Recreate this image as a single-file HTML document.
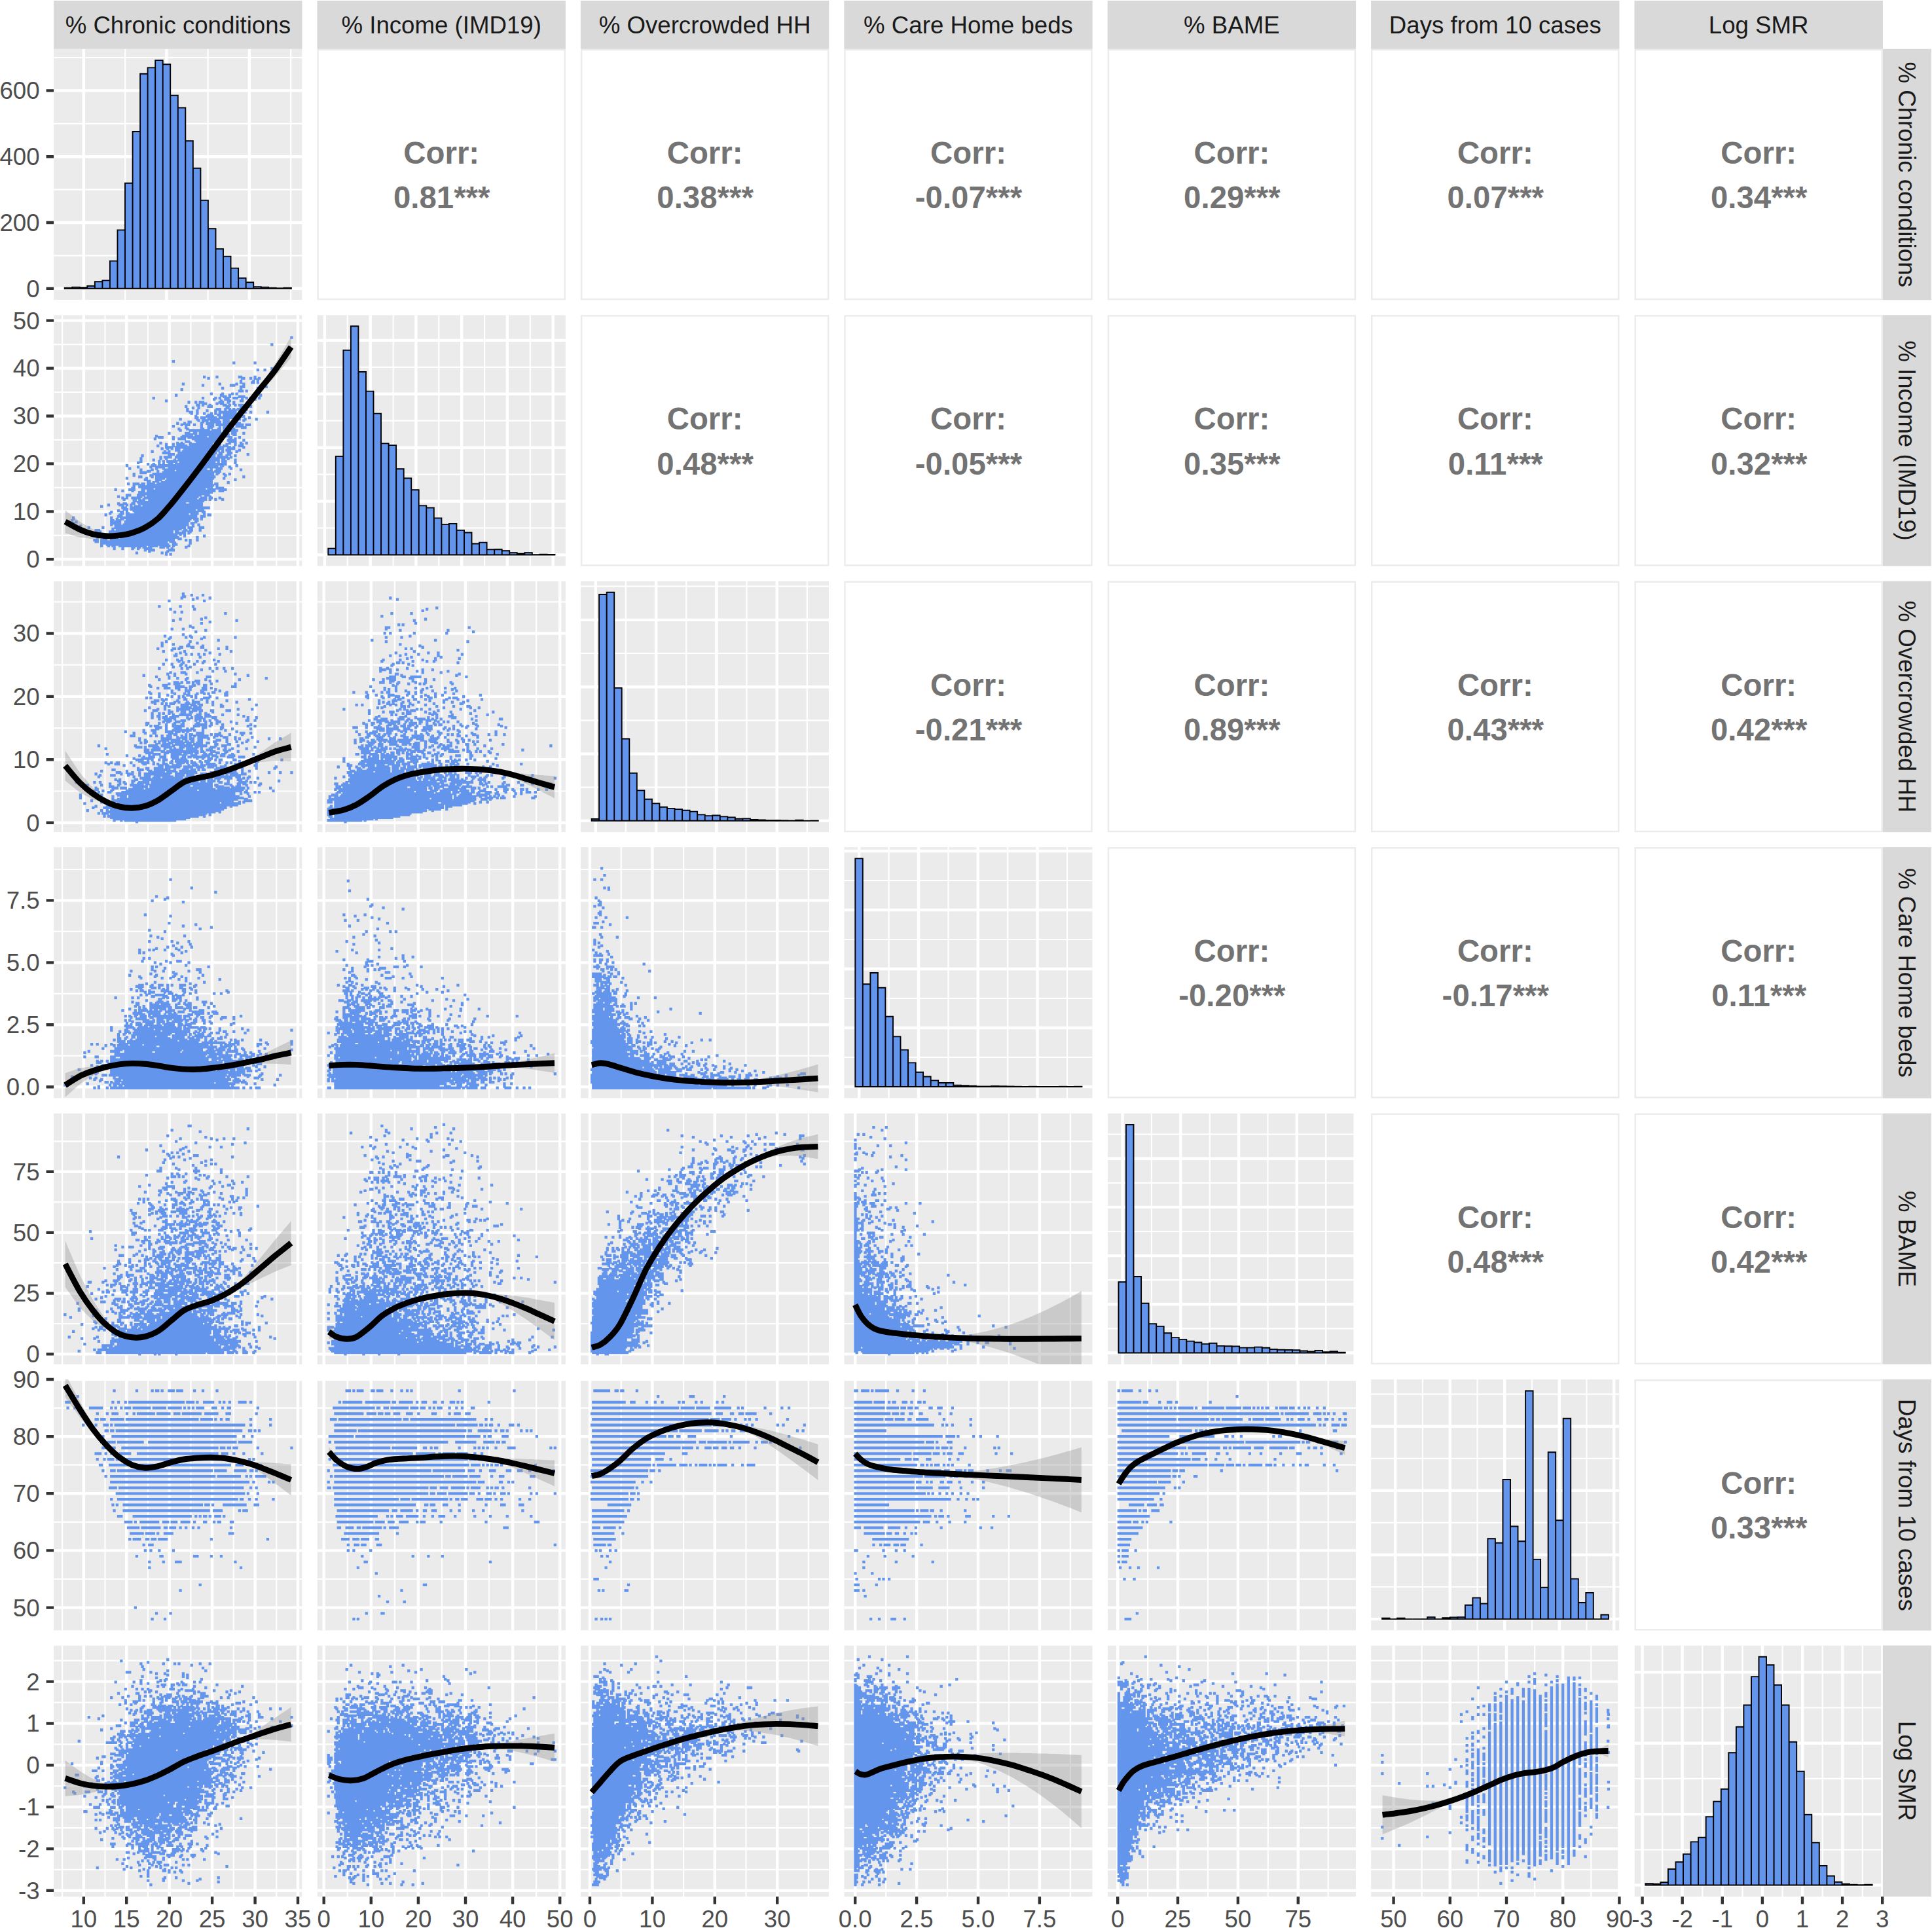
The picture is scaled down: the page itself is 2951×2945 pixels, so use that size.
<!DOCTYPE html><html><head><meta charset="utf-8"><style>html,body{margin:0;padding:0;background:#fff}</style></head><body><svg xmlns="http://www.w3.org/2000/svg" width="2951" height="2945" viewBox="0 0 2951 2945" style="display:block"><rect width="2951" height="2945" fill="#fff"/><defs><clipPath id="c00"><rect x="82.1" y="74.8" width="379.4" height="383.5"/></clipPath><clipPath id="c10"><rect x="82.1" y="481.2" width="379.4" height="383.5"/></clipPath><clipPath id="c11"><rect x="484.5" y="481.2" width="379.4" height="383.5"/></clipPath><clipPath id="c20"><rect x="82.1" y="887.7" width="379.4" height="383.5"/></clipPath><clipPath id="c21"><rect x="484.5" y="887.7" width="379.4" height="383.5"/></clipPath><clipPath id="c22"><rect x="886.9" y="887.7" width="379.4" height="383.5"/></clipPath><clipPath id="c30"><rect x="82.1" y="1294.1" width="379.4" height="383.5"/></clipPath><clipPath id="c31"><rect x="484.5" y="1294.1" width="379.4" height="383.5"/></clipPath><clipPath id="c32"><rect x="886.9" y="1294.1" width="379.4" height="383.5"/></clipPath><clipPath id="c33"><rect x="1289.3" y="1294.1" width="379.4" height="383.5"/></clipPath><clipPath id="c40"><rect x="82.1" y="1700.6" width="379.4" height="383.5"/></clipPath><clipPath id="c41"><rect x="484.5" y="1700.6" width="379.4" height="383.5"/></clipPath><clipPath id="c42"><rect x="886.9" y="1700.6" width="379.4" height="383.5"/></clipPath><clipPath id="c43"><rect x="1289.3" y="1700.6" width="379.4" height="383.5"/></clipPath><clipPath id="c44"><rect x="1691.7" y="1700.6" width="379.4" height="383.5"/></clipPath><clipPath id="c50"><rect x="82.1" y="2107.1" width="379.4" height="383.5"/></clipPath><clipPath id="c51"><rect x="484.5" y="2107.1" width="379.4" height="383.5"/></clipPath><clipPath id="c52"><rect x="886.9" y="2107.1" width="379.4" height="383.5"/></clipPath><clipPath id="c53"><rect x="1289.3" y="2107.1" width="379.4" height="383.5"/></clipPath><clipPath id="c54"><rect x="1691.7" y="2107.1" width="379.4" height="383.5"/></clipPath><clipPath id="c55"><rect x="2094.1" y="2107.1" width="379.4" height="383.5"/></clipPath><clipPath id="c60"><rect x="82.1" y="2513.5" width="379.4" height="383.5"/></clipPath><clipPath id="c61"><rect x="484.5" y="2513.5" width="379.4" height="383.5"/></clipPath><clipPath id="c62"><rect x="886.9" y="2513.5" width="379.4" height="383.5"/></clipPath><clipPath id="c63"><rect x="1289.3" y="2513.5" width="379.4" height="383.5"/></clipPath><clipPath id="c64"><rect x="1691.7" y="2513.5" width="379.4" height="383.5"/></clipPath><clipPath id="c65"><rect x="2094.1" y="2513.5" width="379.4" height="383.5"/></clipPath><clipPath id="c66"><rect x="2496.5" y="2513.5" width="379.4" height="383.5"/></clipPath></defs><g clip-path="url(#c00)"><rect x="82.1" y="74.8" width="379.4" height="383.5" fill="#EBEBEB"/><path d="M191.1 74.8V458.3M317.6 74.8V458.3M444.2 74.8V458.3M82.1 390.4H461.5M82.1 289.6H461.5M82.1 188.8H461.5M82.1 88H461.5" stroke="#fff" stroke-width="2.2" fill="none"/><path d="M127.8 74.8V458.3M254.4 74.8V458.3M380.9 74.8V458.3M82.1 440.8H461.5M82.1 340H461.5M82.1 239.2H461.5M82.1 138.4H461.5" stroke="#fff" stroke-width="4.4" fill="none"/><path d="M98.7 440.7v-.9h11.5v.9zM110.2 440.7v-2.1h11.5v2.1zM121.8 440.7v-1.5h11.5v1.5zM133.3 440.7v-4h11.5v4zM144.9 440.7v-10.4h11.5v10.4zM156.4 440.7v-12.3h11.5v12.3zM167.9 440.7v-42.1h11.5v42.1zM179.5 440.7v-89.3h11.5v89.3zM191 440.7v-161h11.5v161zM202.6 440.7v-239.7h11.5v239.7zM214.1 440.7v-327.9h11.5v327.9zM225.6 440.7v-337.3h11.5v337.3zM237.2 440.7v-348.6h11.5v348.6zM248.7 440.7v-342.4h11.5v342.4zM260.3 440.7v-295h11.5v295zM271.8 440.7v-276.1h11.5v276.1zM283.3 440.7v-225.4h11.5v225.4zM294.9 440.7v-183.8h11.5v183.8zM306.4 440.7v-134.8h11.5v134.8zM318 440.7v-91.5h11.5v91.5zM329.5 440.7v-60.4h11.5v60.4zM341 440.7v-49.1h11.5v49.1zM352.6 440.7v-31.1h11.5v31.1zM364.1 440.7v-16h11.5v16zM375.7 440.7v-9.4h11.5v9.4zM387.2 440.7v-2.6h11.5v2.6zM398.7 440.7v-2.1h11.5v2.1zM410.3 440.7v-.9h11.5v.9zM421.8 440.7v-.4h11.5v.4zM433.4 440.7v-.9h11.5v.9z" fill="#6495ED" stroke="#000" stroke-width="1.9" stroke-linejoin="miter"/></g><rect x="485.7" y="76.0" width="377.0" height="381.1" fill="#fff" stroke="#EBEBEB" stroke-width="2.4"/><rect x="888.1" y="76.0" width="377.0" height="381.1" fill="#fff" stroke="#EBEBEB" stroke-width="2.4"/><rect x="1290.5" y="76.0" width="377.0" height="381.1" fill="#fff" stroke="#EBEBEB" stroke-width="2.4"/><rect x="1692.9" y="76.0" width="377.0" height="381.1" fill="#fff" stroke="#EBEBEB" stroke-width="2.4"/><rect x="2095.3" y="76.0" width="377.0" height="381.1" fill="#fff" stroke="#EBEBEB" stroke-width="2.4"/><rect x="2497.7" y="76.0" width="377.0" height="381.1" fill="#fff" stroke="#EBEBEB" stroke-width="2.4"/><g clip-path="url(#c10)"><rect x="82.1" y="481.2" width="379.4" height="383.5" fill="#EBEBEB"/><path d="M95.1 481.2V864.8M160.5 481.2V864.8M226 481.2V864.8M291.4 481.2V864.8M356.8 481.2V864.8M422.3 481.2V864.8M82.1 817.8H461.5M82.1 744.9H461.5M82.1 671.9H461.5M82.1 599H461.5M82.1 526.1H461.5" stroke="#fff" stroke-width="2.2" fill="none"/><path d="M127.8 481.2V864.8M193.2 481.2V864.8M258.7 481.2V864.8M324.1 481.2V864.8M389.6 481.2V864.8M455 481.2V864.8M82.1 854.3H461.5M82.1 781.4H461.5M82.1 708.4H461.5M82.1 635.5H461.5M82.1 562.5H461.5M82.1 489.6H461.5" stroke="#fff" stroke-width="4.4" fill="none"/><g transform="translate(82.1 481.2)"><path transform="scale(2.15)" d="M168 16h2M154 21h2M84 33h2M127 34h2M142 34h2M154 38h2M144 39h2M149 39h2M155 41h2M106 44h2M115 44h2M131 44h3M142 44h2M109 45h2M133 45h3M139 45h2M142 45h2M145 45h2M144 46h2M132 47h2M141 47h2M132 48h2M140 48h3M144 48h2M91 49h2M117 49h2M129 49h2M134 49h2M105 50h2M125 50h4M132 51h4M147 51h2M150 51h2M119 52h2M144 52h2M90 53h2M132 53h2M131 54h4M136 54h2M144 55h2M111 56h2M119 56h2M126 56h2M129 56h2M86 57h2M118 57h2M124 57h2M146 57h2M120 58h3M124 58h2M131 58h5M70 59h2M105 59h2M114 59h2M117 59h2M122 59h3M127 59h4M136 59h2M139 59h2M145 59h2M113 60h2M121 60h4M133 60h2M139 60h2M142 60h2M79 61h2M118 61h2M123 61h3M132 61h3M140 61h2M95 62h2M100 62h2M103 62h4M117 62h4M123 62h2M127 62h2M107 63h2M115 63h2M118 63h2M127 63h2M101 64h3M105 64h2M110 64h2M120 64h3M124 64h2M128 64h2M131 64h4M137 64h2M93 65h2M109 65h4M122 65h3M139 65h2M98 66h2M102 66h2M122 66h2M132 66h3M94 67h2M115 67h4M121 67h2M124 67h2M127 67h2M130 67h4M136 67h2M94 68h2M101 68h2M108 68h2M114 68h2M117 68h2M126 68h4M132 68h2M135 68h2M96 69h3M101 69h2M118 69h10M135 69h2M139 69h2M151 69h2M97 70h2M101 70h2M106 70h2M111 70h2M114 70h2M117 70h2M120 70h3M127 70h3M109 71h2M116 71h3M121 71h9M132 71h2M100 72h2M108 72h2M111 72h3M120 72h5M128 72h8M100 73h3M104 73h4M109 73h2M112 73h4M117 73h6M125 73h6M138 73h2M89 74h2M101 74h2M105 74h2M109 74h4M114 74h4M120 74h5M129 74h4M135 74h2M143 74h2M102 75h2M107 75h3M111 75h5M121 75h2M128 75h2M134 75h2M95 76h3M105 76h2M114 76h5M120 76h5M126 76h2M129 76h2M87 77h2M92 77h2M104 77h2M108 77h6M115 77h2M121 77h5M127 77h6M90 78h2M93 78h4M99 78h2M104 78h2M111 78h3M115 78h11M133 78h2M136 78h4M84 79h2M104 79h2M109 79h5M122 79h3M126 79h2M129 79h4M93 80h2M110 80h3M117 80h2M120 80h4M133 80h4M88 81h2M94 81h2M104 81h3M109 81h2M116 81h2M120 81h4M127 81h2M89 82h2M96 82h9M106 82h5M112 82h7M120 82h11M104 83h4M109 83h3M115 83h4M120 83h3M127 83h2M81 84h2M93 84h4M99 84h3M103 84h2M107 84h14M122 84h2M126 84h4M134 84h2M95 85h4M100 85h2M103 85h5M109 85h8M123 85h2M127 85h3M72 86h2M91 86h4M96 86h3M100 86h4M106 86h3M110 86h15M74 87h4M84 87h2M90 87h4M95 87h14M110 87h7M119 87h2M125 87h2M131 87h2M71 88h2M84 88h2M88 88h6M98 88h2M101 88h2M106 88h4M114 88h6M124 88h2M128 88h2M100 89h8M109 89h11M123 89h7M134 89h2M93 90h4M101 90h4M106 90h12M126 90h2M75 91h2M87 91h2M90 91h2M96 91h2M101 91h2M105 91h8M115 91h4M124 91h2M128 91h2M132 91h2M136 91h2M79 92h2M84 92h2M88 92h2M91 92h2M96 92h6M103 92h3M107 92h6M115 92h4M122 92h2M128 92h2M133 92h2M73 93h2M84 93h2M87 93h4M93 93h2M96 93h2M100 93h16M117 93h2M120 93h3M131 93h3M79 94h6M86 94h2M89 94h8M98 94h8M107 94h13M123 94h3M127 94h2M134 94h2M76 95h2M80 95h2M83 95h2M86 95h4M92 95h2M97 95h2M101 95h20M126 95h3M86 96h4M92 96h13M106 96h12M119 96h2M122 96h4M131 96h2M69 97h2M78 97h2M81 97h2M88 97h2M91 97h2M95 97h8M104 97h9M119 97h2M123 97h2M129 97h2M77 98h6M88 98h7M97 98h10M110 98h6M117 98h2M125 98h2M83 99h3M90 99h9M102 99h13M117 99h3M123 99h3M137 99h2M62 100h2M81 100h3M87 100h6M94 100h21M116 100h4M122 100h2M128 100h2M75 101h2M78 101h6M86 101h3M90 101h25M116 101h7M125 101h2M61 102h2M75 102h2M79 102h2M89 102h29M120 102h2M123 102h2M70 103h2M85 103h2M88 103h25M114 103h2M119 103h2M128 103h2M61 104h2M74 104h2M77 104h2M80 104h8M91 104h17M110 104h5M116 104h2M121 104h2M59 105h2M74 105h2M77 105h2M81 105h3M86 105h2M89 105h19M109 105h6M119 105h4M128 105h2M66 106h2M70 106h2M74 106h2M77 106h2M81 106h4M87 106h25M113 106h6M120 106h3M51 107h2M69 107h4M74 107h23M98 107h16M115 107h2M118 107h3M129 107h2M59 108h2M68 108h2M73 108h5M81 108h17M99 108h17M124 108h2M53 109h2M72 109h2M77 109h2M83 109h8M92 109h17M111 109h2M115 109h5M125 109h2M61 110h2M69 110h2M78 110h8M88 110h20M111 110h2M117 110h2M132 110h2M66 111h3M73 111h2M79 111h3M87 111h26M114 111h5M61 112h5M77 112h3M82 112h32M115 112h3M56 113h2M70 113h38M112 113h2M115 113h2M120 113h2M124 113h2M56 114h2M68 114h2M75 114h2M79 114h6M87 114h26M121 114h2M60 115h3M69 115h2M72 115h9M82 115h2M85 115h30M134 115h2M51 116h2M65 116h2M72 116h2M76 116h3M80 116h27M108 116h2M112 116h2M120 116h2M64 117h2M73 117h4M80 117h4M86 117h27M128 117h2M66 118h3M72 118h3M79 118h34M70 119h2M73 119h2M76 119h28M105 119h6M123 119h2M52 120h2M56 120h5M62 120h3M66 120h4M73 120h37M111 120h2M114 120h3M61 121h2M66 121h8M76 121h31M109 121h5M115 121h2M56 122h2M60 122h2M63 122h4M68 122h2M71 122h8M80 122h32M55 123h2M62 123h6M69 123h2M73 123h29M103 123h2M109 123h4M115 123h6M43 124h2M53 124h2M56 124h2M62 124h2M66 124h3M72 124h2M75 124h33M109 124h2M113 124h2M121 124h2M48 125h2M55 125h2M62 125h3M66 125h6M73 125h32M106 125h3M110 125h5M117 125h4M60 126h2M67 126h34M104 126h6M111 126h2M61 127h18M80 127h31M51 128h4M59 128h6M66 128h2M69 128h3M75 128h30M108 128h3M45 129h2M51 129h2M61 129h2M68 129h35M107 129h2M110 129h2M48 130h2M51 130h2M55 130h7M64 130h8M73 130h24M98 130h4M104 130h5M111 130h2M117 130h2M49 131h2M60 131h2M63 131h2M67 131h35M103 131h2M106 131h3M110 131h2M114 131h2M119 131h2M56 132h3M61 132h2M67 132h40M59 133h3M63 133h4M69 133h23M96 133h10M45 134h2M49 134h3M55 134h3M60 134h34M96 134h10M38 135h2M46 135h4M51 135h2M54 135h2M60 135h2M64 135h42M33 136h2M57 136h4M63 136h33M97 136h5M103 136h2M48 137h4M54 137h57M49 138h4M54 138h2M58 138h8M67 138h22M90 138h7M99 138h2M102 138h2M105 138h2M45 139h2M51 139h2M56 139h38M96 139h5M102 139h5M40 140h2M47 140h3M57 140h40M100 140h2M105 140h3M39 141h2M48 141h2M51 141h3M57 141h39M97 141h6M106 141h2M36 142h2M46 142h2M51 142h6M58 142h7M66 142h30M97 142h2M100 142h2M109 142h3M45 143h4M54 143h44M99 143h3M104 143h4M13 144h2M40 144h2M48 144h18M67 144h28M97 144h3M13 145h2M44 145h2M47 145h3M52 145h46M99 145h4M104 145h2M12 146h2M40 146h3M44 146h4M51 146h2M54 146h43M101 146h2M15 147h2M41 147h3M45 147h3M50 147h46M100 147h2M13 148h2M40 148h3M44 148h4M51 148h43M97 148h3M40 149h2M43 149h4M49 149h4M54 149h34M89 149h7M102 149h2M14 150h3M18 150h2M44 150h17M62 150h32M98 150h2M24 151h2M34 151h2M43 151h2M46 151h42M90 151h3M95 151h4M103 151h4M41 152h2M44 152h47M92 152h2M29 153h4M41 153h2M45 153h40M93 153h2M96 153h3M103 153h2M29 154h2M32 154h2M39 154h2M42 154h7M51 154h34M86 154h3M91 154h3M95 154h3M39 155h9M49 155h5M55 155h26M86 155h7M95 155h2M25 156h4M31 156h2M40 156h7M48 156h40M89 156h2M92 156h2M30 157h2M34 157h5M40 157h2M43 157h5M49 157h3M53 157h34M92 157h2M106 157h2M40 158h2M43 158h3M47 158h36M86 158h3M101 158h2M30 159h2M35 159h2M43 159h3M47 159h35M83 159h3M88 159h3M28 160h2M33 160h5M40 160h7M50 160h25M76 160h3M80 160h3M84 160h2M93 160h2M96 160h2M101 160h2M29 161h3M35 161h2M38 161h43M82 161h4M33 162h7M41 162h35M78 162h3M84 162h3M96 162h2M33 163h2M37 163h2M40 163h38M80 163h2M84 163h4M33 164h2M38 164h2M41 164h3M46 164h10M57 164h9M67 164h7M76 164h4M81 164h2M84 164h2M95 164h2M56 165h2M59 165h3M63 165h3M75 165h4M80 165h2M93 165h2M42 166h2M48 166h2M55 166h2M59 166h2M64 166h6M83 166h2M64 167h2M68 167h4M81 167h5M67 168h2M80 168h2M58 169h2M76 169h2M79 169h2M79 170h2M82 170h2" stroke="#6495ED" stroke-width="2" fill="none"/><path d="M17.5 298.3L22.5 302.2L27.5 306.1L32.5 310L37.5 313.9L42.5 317.2L47.5 320.2L52.5 323.1L57.5 326L62.5 328.3L67.5 330.2L72.5 332L77.5 333.8L82.5 335.1L87.5 335.8L92.5 335.5L97.5 335.3L102.5 334.6L107.5 333.6L112.5 332.6L117.5 331.6L122.5 330L127.5 328L132.5 326L137.5 324L142.5 321L147.5 317.5L152.5 314L157.5 310.5L162.5 305.8L167.5 300.3L172.5 294.8L177.5 289.3L182.5 283.3L187.5 277L192.5 270.8L197.5 264.5L202.5 258.1L207.5 251.6L212.5 245.1L217.5 238.6L222.5 231.9L227.5 225.2L232.5 218.4L237.5 211.7L242.5 204.9L247.5 198.2L252.5 191.4L257.5 184.7L262.5 178.1L267.5 171.6L272.5 165.1L277.5 158.6L282.5 152.3L287.5 146L292.5 139.8L297.5 133.5L302.5 127.3L307.5 120L312.5 112.6L317.5 105.2L322.5 97.8L327.5 90.4L332.5 82.9L337.5 75.4L342.5 67.1L347.5 58.6L352.5 50L357.5 41.4L362.5 32.9L362.5 64.7L357.5 70.7L352.5 76.8L347.5 82.8L342.5 88.8L337.5 94.6L332.5 99.7L327.5 104.7L322.5 109.8L317.5 114.8L312.5 119.9L307.5 125.1L302.5 130.3L297.5 136.5L292.5 142.8L287.5 149L282.5 155.3L277.5 161.6L272.5 168.1L267.5 174.6L262.5 181.1L257.5 187.7L252.5 194.4L247.5 201.2L242.5 207.9L237.5 214.7L232.5 221.4L227.5 228.2L222.5 234.9L217.5 241.6L212.5 248.1L207.5 254.6L202.5 261.1L197.5 267.5L192.5 273.8L187.5 280L182.5 286.3L177.5 292.3L172.5 297.8L167.5 303.3L162.5 308.8L157.5 313.5L152.5 317L147.5 320.5L142.5 324L137.5 327L132.5 329L127.5 331L122.5 333L117.5 334.6L112.5 335.6L107.5 336.6L102.5 337.6L97.5 338.3L92.5 338.5L87.5 338.8L82.5 339.9L77.5 340.8L72.5 341.1L67.5 341.5L62.5 341.9L57.5 341.8L52.5 341.2L47.5 340.6L42.5 340L37.5 339L32.5 337.6L27.5 336.1L22.5 334.6L17.5 333.2Z" fill="#999" fill-opacity=".4"/><path d="M17.5 315.7C21.2 317.7 32.8 324.5 39.8 327.7C46.9 330.8 53.1 333 59.8 334.7C66.4 336.3 73 337.3 79.7 337.6C86.3 338 93 337.5 99.6 336.7C106.2 335.8 112.9 334.7 119.5 332.7C126.2 330.7 132.8 328.4 139.4 324.7C146.1 321 152.7 316.7 159.4 310.8C166 304.8 172.6 296.6 179.3 288.8C185.9 281 192.6 272.4 199.2 263.9C205.8 255.5 212.5 246.8 219.1 238C225.8 229.2 232.4 220.1 239 211.2C245.7 202.2 252.3 193.1 259 184.3C265.6 175.5 272.2 166.8 278.9 158.4C285.5 149.9 292.2 141.8 298.8 133.5C305.4 125.2 312.1 116.9 318.7 108.6C325.4 100.3 331.3 93.6 338.6 83.7C345.9 73.7 358.6 54.6 362.5 48.8" stroke="#000" stroke-width="8.9" fill="none" stroke-linejoin="round"/></g></g><g clip-path="url(#c11)"><rect x="484.5" y="481.2" width="379.4" height="383.5" fill="#EBEBEB"/><path d="M530.8 481.2V864.8M600.6 481.2V864.8M670.3 481.2V864.8M740.1 481.2V864.8M809.8 481.2V864.8M484.5 806.5H863.9M484.5 724.6H863.9M484.5 642.7H863.9M484.5 560.8H863.9" stroke="#fff" stroke-width="2.2" fill="none"/><path d="M495.9 481.2V864.8M565.7 481.2V864.8M635.4 481.2V864.8M705.2 481.2V864.8M774.9 481.2V864.8M844.7 481.2V864.8M484.5 847.5H863.9M484.5 765.6H863.9M484.5 683.7H863.9M484.5 601.8H863.9M484.5 519.9H863.9" stroke="#fff" stroke-width="4.4" fill="none"/><path d="M501.3 847.5v-9.8h11.5v9.8zM512.8 847.5v-150.4h11.5v150.4zM524.4 847.5v-312.6h11.5v312.6zM535.9 847.5v-349.2h11.5v349.2zM547.5 847.5v-279.5h11.5v279.5zM559 847.5v-249.9h11.5v249.9zM570.5 847.5v-215.9h11.5v215.9zM582.1 847.5v-170.1h11.5v170.1zM593.6 847.5v-167.4h11.5v167.4zM605.2 847.5v-131.2h11.5v131.2zM616.7 847.5v-117h11.5v117zM628.2 847.5v-99.3h11.5v99.3zM639.8 847.5v-75.1h11.5v75.1zM651.3 847.5v-71.9h11.5v71.9zM662.9 847.5v-56.1h11.5v56.1zM674.4 847.5v-46.4h11.5v46.4zM685.9 847.5v-47.6h11.5v47.6zM697.5 847.5v-37.6h11.5v37.6zM709 847.5v-34h11.5v34zM720.6 847.5v-17h11.5v17zM732.1 847.5v-18.9h11.5v18.9zM743.6 847.5v-8.1h11.5v8.1zM755.2 847.5v-8.3h11.5v8.3zM766.7 847.5v-6.2h11.5v6.2zM778.3 847.5v-3.2h11.5v3.2zM789.8 847.5v-1.9h11.5v1.9zM801.3 847.5v-3.2h11.5v3.2zM812.9 847.5v-.4h11.5v.4zM824.4 847.5v-.9h11.5v.9zM836 847.5v-.6h11.5v.6z" fill="#6495ED" stroke="#000" stroke-width="1.9" stroke-linejoin="miter"/></g><rect x="888.1" y="482.4" width="377.0" height="381.1" fill="#fff" stroke="#EBEBEB" stroke-width="2.4"/><rect x="1290.5" y="482.4" width="377.0" height="381.1" fill="#fff" stroke="#EBEBEB" stroke-width="2.4"/><rect x="1692.9" y="482.4" width="377.0" height="381.1" fill="#fff" stroke="#EBEBEB" stroke-width="2.4"/><rect x="2095.3" y="482.4" width="377.0" height="381.1" fill="#fff" stroke="#EBEBEB" stroke-width="2.4"/><rect x="2497.7" y="482.4" width="377.0" height="381.1" fill="#fff" stroke="#EBEBEB" stroke-width="2.4"/><g clip-path="url(#c20)"><rect x="82.1" y="887.7" width="379.4" height="383.5" fill="#EBEBEB"/><path d="M95.1 887.7V1271.2M160.5 887.7V1271.2M226 887.7V1271.2M291.4 887.7V1271.2M356.8 887.7V1271.2M422.3 887.7V1271.2M82.1 1208.5H461.5M82.1 1112.1H461.5M82.1 1015.7H461.5M82.1 919.3H461.5" stroke="#fff" stroke-width="2.2" fill="none"/><path d="M127.8 887.7V1271.2M193.2 887.7V1271.2M258.7 887.7V1271.2M324.1 887.7V1271.2M389.6 887.7V1271.2M455 887.7V1271.2M82.1 1256.7H461.5M82.1 1160.3H461.5M82.1 1063.9H461.5M82.1 967.5H461.5" stroke="#fff" stroke-width="4.4" fill="none"/><g transform="translate(82.1 887.7)"><path transform="scale(2.15)" d="M91 9h2M97 10h2M105 10h2M91 11h3M90 12h2M101 12h2M110 12h2M98 13h2M81 14h2M106 14h2M74 18h2M89 18h2M98 18h2M82 20h2M99 20h2M85 22h2M90 22h2M121 23h2M107 26h2M89 27h2M104 27h2M84 28h2M129 28h2M110 29h2M104 30h2M96 32h2M98 33h2M83 34h2M91 34h2M107 35h2M100 36h2M91 38h2M78 39h2M96 39h2M82 40h2M93 40h2M97 40h2M106 40h2M128 40h2M81 41h2M104 41h2M116 42h2M79 43h2M96 43h2M76 44h2M101 44h2M84 45h2M95 45h2M76 46h2M94 46h3M105 46h2M89 47h3M97 47h3M104 47h3M122 47h2M73 48h2M84 48h3M88 48h2M116 48h2M122 48h2M83 49h2M107 49h2M77 50h2M92 50h2M125 50h2M89 51h2M110 51h2M86 52h2M93 52h2M97 52h2M102 52h2M106 52h2M117 52h2M85 53h3M103 54h2M90 55h2M79 56h2M87 56h2M90 56h2M113 56h2M88 57h2M95 57h2M101 57h2M106 57h2M116 57h2M91 58h2M105 58h2M77 59h2M83 59h2M90 59h2M99 59h2M114 59h2M89 60h2M93 60h2M84 61h2M96 61h2M74 62h2M90 62h2M94 62h2M110 62h2M115 62h2M120 62h2M126 62h2M104 63h2M112 64h2M121 64h2M82 65h2M90 65h4M101 65h2M80 66h2M85 66h2M93 66h2M128 66h2M63 67h2M85 67h2M137 67h2M72 68h2M81 68h2M108 68h4M81 69h2M87 69h2M94 69h2M150 69h2M74 70h2M93 70h2M107 70h2M131 70h2M100 71h4M110 71h2M115 71h2M85 72h4M90 72h2M94 72h3M98 72h2M101 72h3M81 73h2M85 73h2M88 73h2M98 73h2M102 73h2M111 73h2M128 73h2M67 74h2M77 74h4M86 74h2M99 74h2M106 74h3M68 75h2M88 75h5M96 75h3M107 75h2M126 75h4M73 76h2M78 76h5M86 76h2M93 76h2M105 76h2M111 76h2M88 77h2M96 77h2M106 77h3M114 77h2M83 78h2M93 78h4M104 78h2M117 78h2M67 79h2M83 79h2M104 79h3M112 79h3M122 79h2M68 80h2M74 80h2M85 80h2M92 80h2M95 80h2M101 80h2M106 80h2M109 80h2M121 80h2M80 81h2M94 81h3M100 81h2M121 81h3M74 82h2M83 82h2M88 82h2M91 82h2M97 82h2M110 82h2M65 83h2M68 83h2M88 83h2M92 83h2M100 83h2M106 83h5M115 83h2M76 84h2M79 84h2M92 84h3M104 84h2M108 84h2M138 84h2M71 85h4M77 85h2M87 85h2M98 85h2M122 85h2M69 86h2M85 86h2M88 86h2M94 86h2M100 86h4M108 86h2M112 86h2M129 86h2M71 87h2M76 87h2M79 87h2M82 87h4M93 87h4M98 87h2M102 87h2M79 88h2M90 88h5M97 88h4M104 88h2M112 88h2M118 88h2M143 88h2M78 89h2M81 89h2M94 89h2M99 89h3M103 89h2M118 89h3M67 90h2M87 90h2M90 90h4M96 90h2M100 90h5M73 91h2M78 91h2M89 91h2M93 91h4M98 91h2M102 91h2M130 91h2M140 91h2M64 92h2M70 92h4M81 92h2M87 92h2M90 92h4M98 92h4M104 92h2M111 92h3M122 92h4M83 93h2M91 93h3M96 93h3M103 93h2M112 93h2M69 94h2M74 94h2M77 94h2M81 94h2M90 94h2M107 94h2M84 95h2M89 95h9M101 95h4M109 95h2M119 95h2M130 95h2M69 96h2M73 96h3M79 96h2M85 96h4M94 96h2M100 96h3M107 96h5M134 96h2M69 97h2M77 97h4M82 97h5M94 97h2M97 97h2M102 97h4M112 97h4M137 97h2M143 97h2M74 98h2M79 98h4M85 98h2M95 98h2M100 98h5M106 98h2M114 98h2M78 99h2M82 99h2M90 99h4M100 99h2M103 99h2M106 99h2M110 99h2M115 99h2M136 99h3M142 99h2M77 100h2M80 100h3M86 100h4M107 100h2M115 100h4M125 100h2M65 101h3M74 101h2M85 101h2M91 101h2M101 101h3M111 101h2M115 101h2M129 101h2M65 102h2M79 102h2M84 102h3M90 102h2M100 102h9M111 102h2M119 102h2M139 102h2M68 103h2M71 103h4M79 103h2M84 103h9M99 103h5M105 103h2M110 103h2M119 103h2M137 103h2M142 103h2M72 104h5M85 104h6M107 104h2M118 104h3M73 105h2M79 105h2M94 105h2M97 105h3M105 105h2M118 105h2M126 105h2M139 105h2M63 106h2M69 106h4M84 106h14M99 106h2M121 106h2M50 107h2M63 107h2M70 107h2M79 107h5M86 107h4M91 107h2M94 107h2M105 107h2M129 107h2M56 108h2M64 108h2M70 108h3M83 108h2M86 108h2M101 108h4M117 108h2M132 108h4M139 108h2M81 109h2M85 109h3M93 109h2M96 109h3M101 109h3M105 109h2M111 109h2M114 109h4M124 109h2M133 109h2M54 110h4M68 110h2M72 110h2M76 110h2M80 110h4M90 110h2M99 110h2M103 110h2M106 110h4M115 110h2M118 110h2M81 111h3M87 111h2M90 111h5M96 111h2M102 111h7M113 111h2M120 111h4M128 111h2M140 111h2M60 112h2M76 112h5M82 112h2M88 112h2M91 112h4M96 112h4M109 112h2M122 112h2M128 112h2M131 112h2M152 112h2M160 112h2M60 113h2M64 113h2M76 113h6M84 113h6M102 113h4M115 113h4M122 113h2M137 113h2M65 114h2M71 114h2M74 114h2M77 114h2M83 114h6M90 114h2M93 114h3M97 114h3M113 114h3M122 114h2M129 114h2M136 114h2M144 114h2M61 115h2M64 115h2M74 115h2M78 115h2M81 115h4M87 115h6M94 115h4M101 115h5M108 115h3M114 115h2M133 115h2M72 116h2M77 116h6M86 116h3M91 116h2M94 116h3M99 116h5M115 116h2M123 116h3M31 117h2M57 117h2M67 117h6M76 117h7M84 117h2M89 117h7M97 117h2M100 117h9M114 117h2M119 117h4M130 117h2M58 118h5M64 118h2M73 118h2M80 118h4M91 118h2M96 118h3M100 118h3M111 118h4M121 118h2M142 118h2M36 119h2M64 119h2M70 119h3M74 119h2M78 119h2M82 119h2M85 119h2M89 119h2M94 119h7M104 119h2M110 119h2M116 119h2M121 119h2M126 119h2M136 119h2M64 120h4M69 120h7M82 120h10M94 120h3M98 120h4M108 120h5M120 120h2M124 120h2M64 121h4M69 121h2M76 121h3M80 121h5M86 121h2M89 121h14M104 121h3M111 121h4M122 121h2M130 121h2M65 122h2M68 122h2M78 122h4M85 122h5M92 122h7M101 122h2M106 122h2M111 122h2M115 122h3M121 122h2M37 123h2M67 123h2M70 123h6M78 123h2M83 123h8M93 123h2M100 123h2M107 123h2M110 123h2M119 123h2M126 123h2M141 123h2M51 124h2M60 124h2M67 124h2M78 124h2M85 124h3M91 124h3M97 124h4M105 124h2M108 124h2M112 124h4M118 124h4M124 124h5M63 125h2M67 125h5M75 125h3M83 125h2M86 125h3M92 125h2M95 125h3M99 125h9M109 125h2M115 125h2M123 125h5M131 125h5M56 126h2M62 126h9M78 126h2M84 126h5M90 126h4M101 126h2M105 126h2M111 126h2M141 126h2M58 127h4M69 127h2M74 127h2M77 127h4M86 127h9M109 127h3M114 127h2M117 127h3M127 127h3M161 127h2M60 128h4M66 128h2M77 128h2M83 128h2M86 128h3M91 128h5M97 128h2M103 128h2M107 128h4M131 128h2M137 128h2M144 128h2M36 129h2M40 129h2M44 129h3M54 129h2M62 129h6M70 129h2M82 129h3M88 129h5M94 129h2M97 129h4M104 129h2M109 129h2M117 129h2M122 129h2M125 129h2M143 129h2M38 130h2M43 130h4M63 130h3M70 130h2M73 130h2M77 130h4M87 130h2M98 130h4M108 130h7M128 130h2M143 130h2M49 131h2M56 131h2M74 131h4M79 131h3M84 131h7M95 131h2M98 131h5M104 131h4M109 131h3M114 131h2M121 131h2M132 131h2M142 131h2M74 132h3M79 132h2M82 132h3M87 132h3M92 132h7M101 132h6M109 132h5M118 132h4M131 132h4M143 132h2M157 132h2M8 133h2M59 133h2M65 133h3M71 133h7M80 133h2M85 133h2M92 133h4M102 133h2M115 133h7M133 133h2M143 133h2M156 133h2M41 134h3M59 134h5M66 134h2M71 134h2M75 134h5M81 134h2M85 134h2M91 134h5M97 134h4M102 134h2M105 134h3M114 134h2M121 134h3M128 134h2M33 135h2M51 135h2M67 135h3M72 135h7M80 135h2M83 135h3M89 135h8M98 135h2M116 135h2M123 135h3M128 135h2M133 135h2M138 135h2M44 136h4M51 136h2M55 136h2M60 136h2M70 136h9M80 136h4M86 136h2M90 136h6M97 136h5M111 136h3M117 136h2M120 136h2M124 136h6M152 136h2M160 136h2M168 136h2M29 137h2M47 137h2M53 137h4M64 137h9M77 137h5M86 137h7M94 137h6M104 137h5M122 137h2M129 137h2M133 137h4M32 138h2M40 138h4M52 138h2M60 138h2M64 138h5M73 138h4M78 138h2M81 138h2M87 138h6M94 138h2M97 138h3M104 138h2M108 138h3M113 138h2M116 138h5M122 138h2M125 138h4M131 138h2M31 139h2M56 139h2M66 139h3M71 139h2M77 139h8M86 139h6M94 139h3M98 139h2M101 139h3M110 139h2M113 139h3M119 139h4M124 139h3M129 139h2M138 139h2M61 140h5M67 140h2M70 140h6M78 140h5M84 140h4M89 140h3M93 140h2M97 140h2M102 140h6M109 140h4M114 140h5M121 140h6M131 140h2M134 140h2M137 140h2M144 140h2M43 141h2M46 141h2M57 141h3M63 141h9M76 141h9M86 141h4M92 141h2M95 141h13M123 141h2M130 141h4M45 142h3M55 142h3M69 142h18M88 142h15M105 142h2M109 142h6M116 142h2M123 142h2M131 142h3M136 142h2M159 142h2M15 143h2M28 143h2M32 143h2M49 143h2M55 143h2M60 143h8M69 143h6M76 143h2M79 143h3M84 143h5M90 143h2M93 143h4M100 143h2M104 143h4M117 143h3M133 143h4M139 143h2M142 143h2M39 144h2M46 144h2M50 144h2M59 144h5M66 144h2M69 144h7M77 144h14M92 144h2M95 144h6M102 144h3M106 144h7M121 144h4M130 144h3M134 144h2M146 144h2M23 145h2M33 145h2M45 145h2M54 145h5M60 145h4M65 145h2M68 145h3M73 145h2M76 145h8M85 145h7M94 145h3M99 145h3M103 145h10M114 145h3M125 145h2M130 145h2M136 145h2M145 145h2M39 146h4M57 146h10M69 146h16M86 146h3M91 146h6M99 146h7M107 146h6M115 146h6M126 146h2M129 146h4M29 147h2M42 147h4M47 147h5M56 147h5M68 147h4M73 147h5M79 147h21M101 147h3M105 147h4M110 147h2M121 147h4M128 147h8M137 147h2M153 147h2M30 148h2M41 148h2M53 148h4M58 148h6M65 148h22M88 148h6M95 148h7M103 148h4M108 148h7M116 148h12M133 148h2M28 149h2M34 149h2M40 149h2M51 149h8M61 149h11M73 149h29M105 149h4M110 149h4M115 149h10M127 149h7M136 149h2M155 149h2M31 150h2M38 150h3M48 150h7M56 150h13M70 150h24M96 150h20M118 150h4M123 150h4M132 150h2M135 150h2M142 150h2M145 150h2M29 151h3M44 151h12M57 151h4M62 151h5M68 151h46M115 151h3M119 151h10M132 151h2M137 151h2M18 152h2M33 152h2M45 152h2M49 152h3M53 152h59M113 152h8M124 152h4M41 153h2M47 153h2M50 153h2M53 153h60M114 153h3M119 153h5M125 153h7M138 153h2M18 154h2M31 154h2M41 154h2M47 154h4M53 154h75M130 154h5M41 155h2M45 155h3M51 155h4M56 155h63M120 155h2M124 155h2M127 155h4M135 155h3M26 156h2M42 156h48M91 156h15M108 156h19M136 156h5M33 157h2M45 157h3M49 157h64M114 157h3M119 157h6M126 157h2M131 157h2M134 157h2M21 158h2M37 158h7M45 158h5M51 158h4M56 158h58M115 158h3M120 158h4M125 158h8M37 159h2M41 159h2M44 159h52M97 159h34M29 160h2M38 160h2M41 160h2M45 160h78M125 160h2M27 161h2M35 161h9M45 161h67M113 161h10M40 162h81M23 163h2M33 163h2M37 163h2M40 163h74M115 163h3M37 164h78M117 164h2M31 165h2M34 165h5M44 165h65M40 166h67M110 166h2M35 167h2M38 167h65M106 167h2M40 168h57M42 169h52M42 170h2M47 170h2M50 170h37M58 171h2" stroke="#6495ED" stroke-width="2" fill="none"/><path d="M17.5 259L22.5 266.5L27.5 274L32.5 281.6L37.5 289.1L42.5 295.7L47.5 301.6L52.5 307.5L57.5 313.4L62.5 318.6L67.5 323.1L72.5 327.7L77.5 332.1L82.5 335.9L87.5 338.1L92.5 340L97.5 341.9L102.5 343.1L107.5 343.7L112.5 344.3L117.5 344.9L122.5 344.7L127.5 343.9L132.5 343.2L137.5 342.4L142.5 340.7L147.5 338.5L152.5 336.2L157.5 334L162.5 330.9L167.5 327.4L172.5 323.9L177.5 320.4L182.5 316.9L187.5 313.4L192.5 309.9L197.5 306.4L202.5 304.3L207.5 302.8L212.5 301.3L217.5 299.8L222.5 298.6L227.5 297.6L232.5 296.6L237.5 295.6L242.5 294.3L247.5 292.8L252.5 291.3L257.5 289.8L262.5 288.1L267.5 286.3L272.5 284.6L277.5 282.8L282.5 280.9L287.5 278.9L292.5 276.9L297.5 274.3L302.5 271L307.5 267.6L312.5 264.1L317.5 260.6L322.5 257.1L327.5 253.6L332.5 250.1L337.5 246.5L342.5 243.4L347.5 240.5L352.5 237.5L357.5 234.5L362.5 231.5L362.5 275.3L357.5 275L352.5 274.8L347.5 274.6L342.5 274.4L337.5 274.3L332.5 274.7L327.5 275.2L322.5 275.7L317.5 276.2L312.5 276.7L307.5 277.2L302.5 277.8L297.5 278.5L292.5 279.9L287.5 281.9L282.5 283.9L277.5 285.8L272.5 287.6L267.5 289.3L262.5 291.1L257.5 292.8L252.5 294.3L247.5 295.8L242.5 297.3L237.5 298.6L232.5 299.6L227.5 300.6L222.5 301.6L217.5 302.8L212.5 304.3L207.5 305.8L202.5 307.3L197.5 309.4L192.5 312.9L187.5 316.4L182.5 319.9L177.5 323.4L172.5 326.9L167.5 330.4L162.5 333.9L157.5 337L152.5 339.2L147.5 341.5L142.5 343.7L137.5 345.4L132.5 346.2L127.5 346.9L122.5 347.7L117.5 347.9L112.5 347.3L107.5 346.7L102.5 346.1L97.5 344.9L92.5 343L87.5 341.1L82.5 339.5L77.5 338.6L72.5 337.1L67.5 335.6L62.5 334.2L57.5 332.2L52.5 329.6L47.5 327L42.5 324.4L37.5 321.1L32.5 317L27.5 312.9L22.5 308.8L17.5 304.8Z" fill="#999" fill-opacity=".4"/><path d="M17.5 281.9C21.2 286.2 32.8 300.6 39.8 307.8C46.9 314.9 53.1 319.9 59.8 324.7C66.4 329.5 73 333.4 79.7 336.7C86.3 339.9 93 342.6 99.6 344.2C106.2 345.9 112.9 346.7 119.5 346.6C126.2 346.5 132.8 345.6 139.4 343.6C146.1 341.6 152.7 338.5 159.4 334.7C166 330.8 172.6 325.4 179.3 320.7C185.9 316.1 192.6 310.1 199.2 306.8C205.8 303.5 212.5 302.5 219.1 300.8C225.8 299.1 232.4 298.5 239 296.8C245.7 295.2 252.3 293 259 290.8C265.6 288.7 272.2 286.4 278.9 283.9C285.5 281.4 292.2 278.6 298.8 275.9C305.4 273.2 312.1 270.6 318.7 267.9C325.4 265.3 331.3 262.4 338.6 260C345.9 257.5 358.6 254.5 362.5 253.4" stroke="#000" stroke-width="8.9" fill="none" stroke-linejoin="round"/></g></g><g clip-path="url(#c21)"><rect x="484.5" y="887.7" width="379.4" height="383.5" fill="#EBEBEB"/><path d="M530.8 887.7V1271.2M602.9 887.7V1271.2M675 887.7V1271.2M747 887.7V1271.2M819.1 887.7V1271.2M484.5 1208.5H863.9M484.5 1112.1H863.9M484.5 1015.7H863.9M484.5 919.3H863.9" stroke="#fff" stroke-width="2.2" fill="none"/><path d="M494.7 887.7V1271.2M566.8 887.7V1271.2M638.9 887.7V1271.2M711 887.7V1271.2M783.1 887.7V1271.2M855.2 887.7V1271.2M484.5 1256.7H863.9M484.5 1160.3H863.9M484.5 1063.9H863.9M484.5 967.5H863.9" stroke="#fff" stroke-width="4.4" fill="none"/><g transform="translate(484.5 887.7)"><path transform="scale(2.15)" d="M51 12h2M56 13h2M84 19h2M77 20h2M74 21h2M52 23h2M66 23h2M45 25h2M76 27h2M68 28h2M69 30h2M57 31h2M60 31h2M48 33h4M107 33h2M48 34h2M58 35h2M92 35h2M110 36h2M47 37h2M51 37h2M68 37h2M91 37h2M65 39h2M48 40h2M59 40h2M38 42h2M83 42h2M48 43h2M106 43h2M58 45h2M72 46h2M74 47h2M62 48h2M66 48h2M99 49h2M68 50h2M55 51h2M78 51h2M85 51h2M62 52h2M71 52h2M102 52h2M51 53h2M58 53h2M85 53h2M66 54h2M87 54h2M63 55h2M83 55h2M100 55h2M46 56h2M58 56h2M74 56h2M83 56h2M45 57h2M67 57h2M77 57h2M82 57h2M56 58h3M60 58h2M99 58h2M53 59h2M64 59h2M52 60h2M67 60h2M44 62h2M49 62h2M63 62h2M46 63h3M51 63h2M56 63h2M74 63h2M81 63h2M44 64h2M70 64h2M92 64h2M51 65h2M74 65h2M87 65h2M55 66h3M100 66h2M59 67h2M98 67h2M51 68h5M60 68h3M66 68h8M105 68h2M49 69h2M52 69h4M65 69h2M39 70h2M46 70h2M51 70h5M67 70h2M76 70h2M82 70h2M53 71h2M67 71h2M44 72h4M51 72h2M57 72h2M69 72h2M76 72h2M94 72h2M56 73h2M64 73h2M72 73h2M75 73h2M95 73h2M53 74h2M37 75h2M55 75h2M80 75h2M47 76h2M69 76h2M77 76h2M90 76h2M97 76h2M47 77h2M50 77h2M55 77h2M74 77h2M95 77h2M39 78h2M55 78h2M62 78h2M73 78h2M81 78h2M98 78h2M25 79h2M34 79h2M45 79h2M49 79h3M64 79h2M69 79h2M73 79h2M90 79h2M50 80h2M64 80h2M69 80h2M83 80h2M96 80h2M35 81h2M41 81h2M52 81h3M63 81h2M76 81h2M88 81h2M115 81h2M34 82h2M45 82h2M50 82h2M55 82h4M67 82h2M73 82h2M78 82h2M83 82h2M103 82h2M35 83h2M46 83h2M60 83h2M80 83h2M93 83h2M96 83h4M54 84h2M57 84h3M68 84h3M76 84h2M79 84h2M91 84h2M99 84h2M116 84h2M43 85h2M53 85h4M64 85h2M79 85h2M89 85h2M106 85h2M46 86h2M50 86h2M60 86h2M71 86h2M89 86h2M95 86h2M103 86h2M43 87h2M49 87h2M53 87h2M59 87h2M65 87h2M82 87h2M101 87h3M27 88h2M31 88h2M51 88h2M55 88h2M67 88h2M76 88h2M47 89h2M59 89h4M64 89h2M84 89h2M96 89h2M106 89h3M42 90h2M45 90h2M89 90h2M108 90h2M114 90h2M18 91h2M58 91h2M61 91h2M70 91h2M73 91h2M79 91h2M101 91h2M36 92h2M56 92h2M63 92h2M66 92h4M85 92h2M111 92h2M46 93h2M51 93h4M65 93h2M76 93h2M82 93h2M94 93h2M124 93h2M36 94h2M60 94h2M63 94h4M79 94h2M82 94h3M108 94h2M52 95h2M55 95h2M81 95h2M84 95h2M95 95h2M120 95h2M43 96h2M62 96h2M93 96h2M112 96h2M41 97h2M58 97h4M69 97h2M78 97h2M84 97h2M95 97h4M40 98h2M45 98h5M57 98h5M64 98h2M71 98h6M81 98h2M87 98h2M109 98h2M129 98h3M36 99h2M42 99h6M52 99h2M57 99h2M63 99h2M66 99h2M72 99h2M77 99h4M83 99h2M112 99h2M42 100h4M48 100h3M54 100h3M62 100h2M73 100h2M85 100h2M89 100h2M92 100h2M99 100h2M32 101h2M38 101h3M44 101h2M50 101h6M57 101h2M65 101h6M72 101h2M77 101h2M82 101h2M110 101h2M34 102h2M38 102h2M51 102h2M54 102h2M61 102h2M65 102h4M83 102h2M86 102h3M101 102h2M112 102h2M128 102h2M43 103h2M49 103h2M55 103h2M59 103h4M64 103h3M70 103h2M77 103h5M96 103h2M102 103h2M106 103h2M113 103h2M130 103h2M25 104h4M34 104h2M40 104h6M54 104h4M61 104h2M64 104h2M69 104h2M75 104h5M90 104h2M105 104h2M133 104h2M42 105h2M46 105h2M49 105h9M62 105h4M77 105h2M80 105h2M89 105h2M93 105h2M96 105h2M112 105h2M44 106h4M52 106h2M57 106h2M61 106h3M66 106h2M74 106h4M79 106h2M92 106h2M99 106h2M27 107h2M34 107h2M39 107h4M49 107h3M59 107h2M62 107h2M69 107h2M85 107h2M100 107h2M126 107h2M37 108h4M49 108h4M69 108h2M77 108h2M87 108h2M109 108h2M29 109h2M35 109h2M40 109h2M43 109h2M47 109h2M50 109h2M55 109h2M61 109h2M69 109h2M73 109h2M78 109h2M86 109h2M92 109h2M95 109h2M99 109h2M110 109h3M121 109h2M126 109h2M132 109h2M36 110h2M41 110h4M46 110h2M50 110h2M59 110h2M67 110h2M71 110h2M74 110h2M81 110h2M99 110h3M105 110h2M113 110h2M34 111h3M44 111h3M54 111h2M61 111h4M68 111h7M80 111h2M85 111h2M90 111h2M113 111h2M30 112h3M42 112h2M51 112h5M61 112h2M66 112h2M70 112h3M74 112h2M80 112h6M102 112h2M26 113h2M31 113h3M38 113h3M43 113h7M57 113h5M63 113h4M73 113h3M79 113h2M83 113h2M92 113h2M98 113h2M103 113h2M107 113h2M122 113h2M30 114h2M35 114h2M40 114h2M47 114h2M50 114h7M58 114h2M61 114h3M76 114h2M80 114h5M92 114h2M99 114h2M103 114h2M110 114h2M113 114h2M26 115h2M37 115h4M44 115h2M60 115h2M64 115h2M69 115h4M76 115h2M83 115h3M94 115h2M99 115h2M36 116h4M43 116h4M51 116h6M60 116h4M65 116h2M68 116h2M71 116h2M76 116h2M87 116h2M105 116h3M111 116h2M131 116h2M31 117h2M34 117h2M37 117h2M43 117h4M56 117h2M69 117h3M81 117h2M86 117h2M89 117h2M92 117h4M118 117h2M165 117h2M29 118h2M35 118h2M40 118h2M48 118h2M58 118h2M67 118h6M76 118h2M79 118h2M85 118h2M89 118h3M98 118h2M106 118h2M30 119h6M38 119h2M42 119h2M45 119h5M51 119h2M54 119h2M59 119h2M62 119h2M69 119h4M88 119h2M91 119h3M113 119h2M123 119h2M31 120h2M35 120h2M38 120h2M42 120h3M46 120h2M56 120h7M64 120h3M69 120h2M75 120h2M82 120h2M90 120h2M93 120h4M103 120h2M106 120h2M145 120h2M32 121h6M41 121h5M47 121h2M57 121h2M60 121h2M67 121h3M71 121h4M93 121h8M106 121h3M112 121h2M115 121h2M121 121h2M31 122h2M35 122h2M41 122h2M52 122h3M56 122h2M60 122h2M63 122h2M66 122h2M74 122h2M78 122h3M85 122h2M108 122h2M122 122h2M27 123h3M33 123h2M37 123h5M45 123h3M49 123h2M53 123h2M57 123h2M63 123h4M75 123h2M83 123h2M88 123h2M127 123h2M39 124h5M47 124h7M63 124h2M66 124h2M70 124h2M75 124h2M81 124h2M84 124h2M87 124h2M98 124h4M108 124h3M118 124h2M31 125h4M36 125h2M41 125h2M45 125h12M63 125h2M66 125h5M72 125h2M75 125h2M84 125h2M94 125h2M108 125h2M18 126h2M33 126h2M38 126h6M45 126h2M48 126h2M51 126h2M55 126h2M58 126h3M63 126h5M69 126h2M72 126h2M77 126h2M94 126h2M108 126h2M126 126h2M35 127h9M45 127h2M48 127h4M54 127h2M58 127h4M68 127h4M81 127h2M84 127h2M97 127h2M100 127h2M105 127h2M111 127h2M18 128h2M31 128h5M42 128h6M49 128h5M57 128h5M66 128h6M81 128h2M86 128h2M91 128h3M95 128h5M120 128h2M30 129h2M35 129h15M51 129h4M56 129h3M64 129h2M68 129h2M78 129h2M81 129h2M86 129h2M96 129h2M21 130h2M29 130h5M35 130h2M38 130h3M42 130h4M50 130h3M56 130h2M60 130h6M69 130h2M74 130h7M87 130h2M94 130h4M99 130h2M106 130h2M124 130h2M144 130h2M21 131h4M31 131h2M34 131h6M42 131h6M53 131h6M61 131h2M64 131h2M72 131h4M80 131h5M91 131h2M97 131h3M127 131h2M14 132h2M27 132h2M32 132h2M38 132h3M43 132h3M47 132h4M53 132h2M56 132h2M61 132h2M65 132h6M72 132h2M76 132h4M82 132h3M86 132h3M94 132h2M117 132h2M122 132h2M22 133h2M29 133h2M36 133h11M49 133h3M53 133h5M59 133h4M64 133h4M75 133h2M78 133h4M96 133h2M99 133h3M106 133h2M118 133h2M28 134h4M35 134h16M53 134h5M63 134h6M70 134h2M76 134h2M84 134h5M90 134h2M94 134h3M106 134h2M113 134h2M126 134h2M23 135h4M30 135h10M41 135h11M53 135h9M63 135h2M66 135h3M72 135h3M80 135h7M93 135h5M105 135h2M114 135h2M117 135h3M128 135h2M21 136h2M26 136h10M38 136h2M41 136h11M53 136h6M60 136h2M63 136h6M70 136h2M74 136h3M83 136h4M90 136h2M97 136h2M105 136h5M112 136h2M115 136h2M135 136h2M22 137h3M28 137h17M47 137h10M58 137h8M70 137h3M76 137h2M83 137h4M93 137h3M97 137h2M22 138h2M25 138h9M35 138h7M43 138h4M48 138h5M56 138h2M63 138h4M68 138h4M78 138h3M84 138h2M87 138h2M91 138h2M96 138h2M99 138h2M107 138h2M113 138h2M120 138h2M123 138h2M139 138h2M152 138h2M18 139h2M23 139h20M45 139h4M50 139h8M59 139h4M64 139h6M73 139h2M76 139h4M82 139h2M86 139h4M94 139h4M109 139h4M119 139h2M132 139h2M139 139h2M12 140h2M24 140h15M40 140h18M60 140h10M71 140h2M78 140h6M87 140h2M90 140h2M95 140h2M99 140h2M105 140h2M110 140h2M115 140h2M118 140h2M131 140h2M151 140h2M168 140h2M22 141h12M35 141h21M57 141h8M66 141h4M72 141h2M75 141h4M80 141h2M85 141h4M93 141h2M97 141h4M102 141h2M114 141h5M146 141h2M22 142h2M25 142h7M33 142h38M77 142h2M81 142h4M89 142h3M95 142h4M101 142h5M109 142h2M118 142h2M147 142h2M20 143h2M24 143h40M70 143h7M78 143h7M87 143h2M95 143h16M115 143h2M121 143h2M132 143h2M142 143h2M12 144h3M18 144h3M23 144h9M33 144h18M52 144h6M59 144h3M63 144h10M74 144h2M77 144h10M88 144h2M94 144h3M99 144h4M106 144h2M115 144h3M119 144h2M131 144h2M152 144h2M165 144h2M17 145h8M27 145h23M52 145h2M55 145h26M82 145h2M85 145h2M89 145h4M95 145h3M99 145h3M106 145h2M117 145h2M134 145h3M144 145h3M13 146h4M18 146h2M21 146h32M54 146h7M67 146h2M71 146h6M83 146h2M86 146h4M93 146h2M96 146h4M103 146h7M120 146h2M123 146h2M128 146h7M14 147h3M18 147h32M51 147h13M66 147h6M73 147h2M76 147h2M79 147h3M83 147h4M94 147h2M97 147h4M102 147h4M109 147h4M114 147h2M132 147h3M12 148h2M17 148h9M27 148h43M71 148h2M74 148h4M80 148h2M84 148h2M89 148h11M101 148h5M109 148h3M118 148h2M126 148h2M134 148h2M138 148h2M144 148h3M148 148h2M156 148h2M162 148h2M15 149h47M63 149h5M70 149h7M81 149h4M87 149h8M96 149h4M101 149h2M104 149h4M109 149h3M115 149h5M132 149h2M139 149h2M14 150h3M19 150h19M39 150h25M66 150h3M70 150h3M74 150h8M87 150h8M97 150h4M103 150h5M110 150h2M114 150h2M120 150h4M127 150h2M133 150h2M144 150h2M148 150h4M154 150h2M13 151h2M18 151h65M84 151h11M96 151h3M102 151h3M108 151h2M113 151h3M119 151h4M126 151h2M140 151h2M144 151h2M10 152h5M17 152h32M50 152h28M81 152h5M87 152h3M92 152h4M101 152h2M104 152h5M113 152h7M128 152h2M8 153h2M13 153h2M16 153h24M41 153h43M86 153h2M89 153h5M97 153h2M100 153h5M106 153h7M115 153h2M119 153h2M122 153h2M125 153h2M131 153h2M139 153h2M154 153h2M12 154h46M59 154h11M71 154h9M81 154h10M94 154h2M98 154h8M109 154h4M120 154h2M123 154h2M127 154h2M130 154h4M152 154h3M8 155h54M64 155h16M84 155h12M97 155h5M103 155h2M106 155h7M116 155h5M122 155h2M7 156h2M12 156h58M71 156h22M94 156h9M104 156h8M7 157h4M13 157h64M78 157h8M88 157h6M95 157h6M102 157h3M106 157h3M115 157h2M120 157h2M12 158h72M88 158h7M97 158h2M100 158h7M111 158h2M13 159h64M78 159h12M92 159h11M9 160h2M12 160h64M77 160h13M91 160h5M8 161h2M12 161h71M84 161h6M7 162h70M79 162h9M91 162h2M7 163h2M12 163h59M74 163h4M81 163h2M7 164h4M12 164h63M7 165h60M7 166h2M12 166h54M8 167h3M12 167h47M12 168h42M9 169h31M41 169h2M7 170h25M33 170h2M19 171h2" stroke="#6495ED" stroke-width="2" fill="none"/><path d="M17.9 352.1L22.9 351.2L27.9 350.3L32.9 349.4L37.9 348.5L42.9 346.9L47.9 344.9L52.9 342.9L57.9 340.9L62.9 338.1L67.9 334.9L72.9 331.6L77.9 328.4L82.9 324.8L87.9 321.1L92.8 317.3L97.8 313.6L102.8 310.5L107.8 307.7L112.8 305L117.8 302.2L122.8 300.1L127.8 298.4L132.8 296.6L137.8 294.9L142.8 293.6L147.8 292.6L152.8 291.6L157.8 290.7L162.8 289.8L167.8 289.1L172.8 288.3L177.8 287.6L182.7 287.1L187.7 286.7L192.7 286.3L197.7 285.9L202.7 285.6L207.7 285.4L212.7 285.2L217.7 285L222.7 285L227.7 285.1L232.7 285.2L237.7 285.3L242.7 285.6L247.7 286L252.7 286.4L257.7 286.8L262.7 287.5L267.7 288.2L272.6 288.9L277.6 289.6L282.6 290.6L287.6 291.7L292.6 292.1L297.6 292.3L302.6 292.7L307.6 293.2L312.6 293.7L317.6 294.2L322.6 294.7L327.6 295.1L332.6 295.6L337.6 296L342.6 296.4L347.6 296.7L352.6 297.1L357.6 297.5L362.5 297.8L362.5 331.7L357.6 329.1L352.6 326.5L347.6 324L342.6 321.5L337.6 318.9L332.6 316.3L327.6 313.8L322.6 311.2L317.6 308.7L312.6 306.2L307.6 303.7L302.6 301.2L297.6 298.8L292.6 296.7L287.6 294.7L282.6 293.6L277.6 292.6L272.6 291.9L267.7 291.2L262.7 290.5L257.7 289.8L252.7 289.4L247.7 289L242.7 288.6L237.7 288.3L232.7 288.2L227.7 288.1L222.7 288L217.7 288L212.7 288.2L207.7 288.4L202.7 288.6L197.7 288.9L192.7 289.3L187.7 289.7L182.7 290.1L177.8 290.6L172.8 291.3L167.8 292.1L162.8 292.8L157.8 293.7L152.8 294.6L147.8 295.6L142.8 296.6L137.8 297.9L132.8 299.6L127.8 301.4L122.8 303.1L117.8 305.2L112.8 308L107.8 310.7L102.8 313.5L97.8 316.6L92.8 320.3L87.9 324.1L82.9 327.8L77.9 331.4L72.9 334.6L67.9 337.9L62.9 341.1L57.9 343.9L52.9 345.9L47.9 347.9L42.9 349.9L37.9 351.5L32.9 352.4L27.9 353.3L22.9 354.2L17.9 355.1Z" fill="#999" fill-opacity=".4"/><path d="M17.9 353.6C21.6 352.9 32.9 351.6 39.8 349.6C46.8 347.6 53.1 345.1 59.8 341.6C66.4 338.1 73 333.3 79.7 328.7C86.3 324 93 318.1 99.6 313.7C106.2 309.4 112.9 305.8 119.5 302.8C126.2 299.8 132.8 297.6 139.4 295.8C146.1 294 152.7 293 159.4 291.8C166 290.7 172.6 289.6 179.3 288.8C185.9 288.1 192.6 287.6 199.2 287.3C205.8 286.9 212.5 286.5 219.1 286.5C225.8 286.4 232.4 286.5 239 286.9C245.7 287.2 252.3 287.7 259 288.4C265.6 289.2 272.2 290 278.9 291.2C285.5 292.5 292.2 294.1 298.8 295.8C305.4 297.6 312.1 299.8 318.7 301.8C325.4 303.8 331.3 305.6 338.6 307.8C345.9 309.9 358.6 313.6 362.5 314.7" stroke="#000" stroke-width="8.9" fill="none" stroke-linejoin="round"/></g></g><g clip-path="url(#c22)"><rect x="886.9" y="887.7" width="379.4" height="383.5" fill="#EBEBEB"/><path d="M955.9 887.7V1271.2M1048.2 887.7V1271.2M1140.5 887.7V1271.2M1232.8 887.7V1271.2M886.9 1202.6H1266.3M886.9 1100.3H1266.3M886.9 998H1266.3M886.9 895.7H1266.3" stroke="#fff" stroke-width="2.2" fill="none"/><path d="M909.8 887.7V1271.2M1002.1 887.7V1271.2M1094.4 887.7V1271.2M1186.7 887.7V1271.2M886.9 1253.8H1266.3M886.9 1151.5H1266.3M886.9 1049.2H1266.3M886.9 946.9H1266.3" stroke="#fff" stroke-width="4.4" fill="none"/><path d="M903.6 1253.8v-2.8h11.5v2.8zM915.1 1253.8v-345.8h11.5v345.8zM926.7 1253.8v-349h11.5v349zM938.2 1253.8v-203.1h11.5v203.1zM949.8 1253.8v-125.3h11.5v125.3zM961.3 1253.8v-72.9h11.5v72.9zM972.8 1253.8v-46.4h11.5v46.4zM984.4 1253.8v-33h11.5v33zM995.9 1253.8v-26.6h11.5v26.6zM1007.5 1253.8v-21.1h11.5v21.1zM1019 1253.8v-18.9h11.5v18.9zM1030.5 1253.8v-17.7h11.5v17.7zM1042.1 1253.8v-16h11.5v16zM1053.6 1253.8v-14.2h11.5v14.2zM1065.2 1253.8v-9.4h11.5v9.4zM1076.7 1253.8v-7.7h11.5v7.7zM1088.2 1253.8v-8.3h11.5v8.3zM1099.8 1253.8v-6.4h11.5v6.4zM1111.3 1253.8v-5.3h11.5v5.3zM1122.9 1253.8v-3h11.5v3zM1134.4 1253.8v-3.4h11.5v3.4zM1145.9 1253.8v-1.9h11.5v1.9zM1157.5 1253.8v-1.3h11.5v1.3zM1169 1253.8v-.9h11.5v.9zM1180.6 1253.8v-.9h11.5v.9zM1192.1 1253.8v-.6h11.5v.6zM1203.6 1253.8v-.4h11.5v.4zM1215.2 1253.8v-1.1h11.5v1.1zM1226.7 1253.8h11.5M1238.3 1253.8v-.4h11.5v.4z" fill="#6495ED" stroke="#000" stroke-width="1.9" stroke-linejoin="miter"/></g><rect x="1290.5" y="888.9" width="377.0" height="381.1" fill="#fff" stroke="#EBEBEB" stroke-width="2.4"/><rect x="1692.9" y="888.9" width="377.0" height="381.1" fill="#fff" stroke="#EBEBEB" stroke-width="2.4"/><rect x="2095.3" y="888.9" width="377.0" height="381.1" fill="#fff" stroke="#EBEBEB" stroke-width="2.4"/><rect x="2497.7" y="888.9" width="377.0" height="381.1" fill="#fff" stroke="#EBEBEB" stroke-width="2.4"/><g clip-path="url(#c30)"><rect x="82.1" y="1294.1" width="379.4" height="383.5" fill="#EBEBEB"/><path d="M95.1 1294.1V1677.6M160.5 1294.1V1677.6M226 1294.1V1677.6M291.4 1294.1V1677.6M356.8 1294.1V1677.6M422.3 1294.1V1677.6M82.1 1612.7H461.5M82.1 1517.8H461.5M82.1 1422.9H461.5M82.1 1328H461.5" stroke="#fff" stroke-width="2.2" fill="none"/><path d="M127.8 1294.1V1677.6M193.2 1294.1V1677.6M258.7 1294.1V1677.6M324.1 1294.1V1677.6M389.6 1294.1V1677.6M455 1294.1V1677.6M82.1 1660.2H461.5M82.1 1565.3H461.5M82.1 1470.4H461.5M82.1 1375.4H461.5" stroke="#fff" stroke-width="4.4" fill="none"/><g transform="translate(82.1 1294.1)"><path transform="scale(2.15)" d="M82 23h2M97 29h2M114 32h2M72 35h2M80 36h2M78 37h2M69 38h2M91 39h2M64 48h2M82 49h2M81 54h2M100 55h2M91 56h2M111 57h2M103 58h2M67 59h2M78 60h2M68 63h2M92 63h2M73 64h2M76 65h2M67 67h2M83 67h2M95 67h2M87 68h2M96 69h2M84 70h2M80 71h2M90 71h2M97 71h2M72 72h2M86 72h2M60 73h2M67 73h2M70 73h2M78 73h2M88 73h2M93 74h2M60 75h2M63 75h2M90 75h2M83 76h2M84 77h2M63 79h2M67 79h2M62 81h2M79 81h2M87 81h4M71 82h2M82 82h2M95 82h2M75 83h2M93 84h2M69 85h2M72 85h2M109 85h2M78 86h2M69 87h2M101 87h4M54 88h2M71 88h2M77 88h2M95 88h2M84 89h2M103 89h2M68 90h2M86 90h2M53 91h2M72 91h2M85 91h2M105 91h2M60 92h2M71 92h2M84 92h2M90 92h2M61 93h2M76 93h2M82 93h2M93 93h2M102 93h2M88 94h2M117 94h2M93 95h2M71 96h2M106 96h2M65 97h2M96 97h2M60 98h4M69 98h2M74 98h4M80 98h2M83 98h2M89 98h5M100 98h2M58 99h2M62 99h2M68 99h2M99 99h2M60 100h3M69 100h4M74 100h2M80 100h2M89 100h3M96 100h2M54 101h2M77 101h2M92 101h2M97 101h2M58 102h2M61 102h3M67 102h2M76 102h2M79 102h3M91 102h2M100 102h2M122 102h2M64 103h2M68 103h4M78 103h2M82 103h2M92 103h2M100 103h2M123 103h2M67 104h2M81 104h4M96 104h2M113 104h2M118 104h2M61 105h2M65 105h2M72 105h7M86 105h2M91 105h2M69 106h3M77 106h4M84 106h2M87 106h4M43 107h2M55 107h2M59 107h2M77 107h2M80 107h2M84 107h2M87 107h4M101 107h2M74 108h3M86 108h2M101 108h2M65 109h2M75 109h2M84 109h3M89 109h2M93 109h2M55 110h2M73 110h5M80 110h2M105 110h4M58 111h3M68 111h2M72 111h3M76 111h5M88 111h2M92 111h2M95 111h3M106 111h2M111 111h2M59 112h2M70 112h2M81 112h2M86 112h2M93 112h4M106 112h2M57 113h2M63 113h2M68 113h14M96 113h2M113 113h2M60 114h2M68 114h8M78 114h2M82 114h2M86 114h6M94 114h4M99 114h3M109 114h2M53 115h2M63 115h3M71 115h3M75 115h5M81 115h2M92 115h2M96 115h2M48 116h2M57 116h2M60 116h7M68 116h2M75 116h2M81 116h5M96 116h2M103 116h4M57 117h2M61 117h2M66 117h2M70 117h6M79 117h4M88 117h5M98 117h5M112 117h4M56 118h2M59 118h2M67 118h6M74 118h2M81 118h3M85 118h2M100 118h2M103 118h4M109 118h2M113 118h4M58 119h2M61 119h4M67 119h2M70 119h6M78 119h2M81 119h7M95 119h4M102 119h2M50 120h2M53 120h2M57 120h2M64 120h2M67 120h2M71 120h7M80 120h3M85 120h6M92 120h5M101 120h2M111 120h2M132 120h2M54 121h2M61 121h5M68 121h3M74 121h12M87 121h2M104 121h3M110 121h2M119 121h4M127 121h2M58 122h8M73 122h2M80 122h4M85 122h6M92 122h2M96 122h2M100 122h2M118 122h2M127 122h2M50 123h2M53 123h2M63 123h2M66 123h2M70 123h2M73 123h5M80 123h2M86 123h6M93 123h3M99 123h2M105 123h3M55 124h2M63 124h9M73 124h6M80 124h2M84 124h6M99 124h3M110 124h2M51 125h2M58 125h4M65 125h6M77 125h2M80 125h6M88 125h3M93 125h2M97 125h4M106 125h2M111 125h2M127 125h2M54 126h2M58 126h5M66 126h5M73 126h3M78 126h2M82 126h3M90 126h2M93 126h5M125 126h2M50 127h5M64 127h3M69 127h5M75 127h2M80 127h6M88 127h3M92 127h2M40 128h2M53 128h4M60 128h7M68 128h2M71 128h10M82 128h5M95 128h8M104 128h4M40 129h2M51 129h2M56 129h2M59 129h4M64 129h7M75 129h5M81 129h10M92 129h5M102 129h2M107 129h2M110 129h2M117 129h2M133 129h2M40 130h2M50 130h2M57 130h2M60 130h8M69 130h2M72 130h4M78 130h3M86 130h4M92 130h5M103 130h2M106 130h2M117 130h2M137 130h2M168 130h2M46 131h2M52 131h2M58 131h2M62 131h7M70 131h4M77 131h12M90 131h3M94 131h3M100 131h2M106 131h2M120 131h3M127 131h2M50 132h2M53 132h2M56 132h16M73 132h8M82 132h2M86 132h6M93 132h2M99 132h2M102 132h2M105 132h2M111 132h2M115 132h3M135 132h2M45 133h2M49 133h2M57 133h9M67 133h3M71 133h7M81 133h2M86 133h5M92 133h3M96 133h2M103 133h2M110 133h2M122 133h2M55 134h3M62 134h10M73 134h3M78 134h3M84 134h4M90 134h2M100 134h3M104 134h3M109 134h3M45 135h2M51 135h2M55 135h3M59 135h6M69 135h2M73 135h2M76 135h5M84 135h9M95 135h2M98 135h2M101 135h5M107 135h2M118 135h2M121 135h2M45 136h3M50 136h2M59 136h2M64 136h10M75 136h4M80 136h3M84 136h8M96 136h2M101 136h2M112 136h2M116 136h4M42 137h2M46 137h2M54 137h2M58 137h2M61 137h24M86 137h2M89 137h6M98 137h6M107 137h2M111 137h2M125 137h2M128 137h2M133 137h2M146 137h2M45 138h6M52 138h2M55 138h17M73 138h8M85 138h3M89 138h13M110 138h2M114 138h2M130 138h2M168 138h2M46 139h5M53 139h8M63 139h6M70 139h4M79 139h11M96 139h2M99 139h4M105 139h17M124 139h2M128 139h2M150 139h2M26 140h2M30 140h2M40 140h2M49 140h4M54 140h2M57 140h6M64 140h37M103 140h6M111 140h2M121 140h2M125 140h4M130 140h2M144 140h4M151 140h2M168 140h2M36 141h2M42 141h2M45 141h8M54 141h3M59 141h4M65 141h8M76 141h2M81 141h22M104 141h2M107 141h3M111 141h2M118 141h2M123 141h4M144 141h2M45 142h2M48 142h20M69 142h4M75 142h14M91 142h11M103 142h13M120 142h3M128 142h2M34 143h2M43 143h20M64 143h5M70 143h34M109 143h5M117 143h3M124 143h2M128 143h2M133 143h2M149 143h2M47 144h2M51 144h2M55 144h36M92 144h5M98 144h8M110 144h3M115 144h3M120 144h2M123 144h2M129 144h2M134 144h2M168 144h2M24 145h2M40 145h7M50 145h20M72 145h18M93 145h9M103 145h3M108 145h7M116 145h4M124 145h5M145 145h2M21 146h2M43 146h2M50 146h4M55 146h4M62 146h8M73 146h14M91 146h23M117 146h2M122 146h2M129 146h2M135 146h2M139 146h2M43 147h58M102 147h7M114 147h6M130 147h3M141 147h2M146 147h2M150 147h2M44 148h3M48 148h3M53 148h18M73 148h17M93 148h15M110 148h6M118 148h9M128 148h2M133 148h5M140 148h3M144 148h2M21 149h2M29 149h3M40 149h4M47 149h15M63 149h34M98 149h10M109 149h7M117 149h3M122 149h2M128 149h2M132 149h2M137 149h3M144 149h2M40 150h4M48 150h4M53 150h56M113 150h6M120 150h6M136 150h2M139 150h2M44 151h59M105 151h2M108 151h2M112 151h4M117 151h2M120 151h7M131 151h4M136 151h2M142 151h3M30 152h2M33 152h2M37 152h2M40 152h10M51 152h4M56 152h14M72 152h9M82 152h6M90 152h5M96 152h3M100 152h8M113 152h3M118 152h2M121 152h2M124 152h11M30 153h4M40 153h22M63 153h56M121 153h8M130 153h2M133 153h3M143 153h4M38 154h2M42 154h9M52 154h49M102 154h9M112 154h2M115 154h5M121 154h3M125 154h2M128 154h3M137 154h2M144 154h4M26 155h2M34 155h5M40 155h8M49 155h37M87 155h11M99 155h20M121 155h2M125 155h6M141 155h2M30 156h2M36 156h4M43 156h48M92 156h2M95 156h17M117 156h2M120 156h2M123 156h7M132 156h3M143 156h2M149 156h2M34 157h2M41 157h38M80 157h2M83 157h3M87 157h4M92 157h22M117 157h12M130 157h5M136 157h4M17 158h2M29 158h2M40 158h5M46 158h64M111 158h4M117 158h2M120 158h4M125 158h4M132 158h4M145 158h2M24 159h3M40 159h75M116 159h6M125 159h4M130 159h2M134 159h2M137 159h4M143 159h2M30 160h2M42 160h3M46 160h74M121 160h6M128 160h6M26 161h2M29 161h2M40 161h2M43 161h4M48 161h7M56 161h66M124 161h7M134 161h2M147 161h2M34 162h4M39 162h84M124 162h3M130 162h3M135 162h5M146 162h2M160 162h2M12 163h2M42 163h2M46 163h76M123 163h2M126 163h4M137 163h2M145 163h2M12 164h3M25 164h2M29 164h2M42 164h2M47 164h4M52 164h69M128 164h2M142 164h4M28 165h2M33 165h2M44 165h4M49 165h70M120 165h6M128 165h4M147 165h2M158 165h2M32 166h2M43 166h5M49 166h75M127 166h2M131 166h2M134 166h2M36 167h3M40 167h2M48 167h66M115 167h3M121 167h2M128 167h4M133 167h4M23 168h2M42 168h5M48 168h66M116 168h13M136 168h2M142 168h2M7 169h2M39 169h2M42 169h3M46 169h2M50 169h2M53 169h4M60 169h57M118 169h2M126 169h2M156 169h2M31 170h2M47 170h2M52 170h66M120 170h5M126 170h2M28 171h2M31 171h2M37 171h2M40 171h92M134 171h2M139 171h2M143 171h4" stroke="#6495ED" stroke-width="2" fill="none"/><path d="M17.5 345.1L22.5 343.4L27.5 341.7L32.5 339.9L37.5 338.2L42.5 337L47.5 336.3L52.5 335.7L57.5 335L62.5 334.5L67.5 334.3L72.5 334L77.5 333.7L82.5 333.6L87.5 332.6L92.5 331.6L97.5 330.6L102.5 330L107.5 329.6L112.5 329.3L117.5 328.9L122.5 328.9L127.5 329.1L132.5 329.3L137.5 329.5L142.5 330L147.5 330.6L152.5 331.3L157.5 331.9L162.5 332.7L167.5 333.6L172.5 334.4L177.5 335.3L182.5 335.9L187.5 336.4L192.5 336.9L197.5 337.4L202.5 337.6L207.5 337.6L212.5 337.7L217.5 337.7L222.5 337.5L227.5 337.1L232.5 336.7L237.5 336.3L242.5 335.7L247.5 335L252.5 334.4L257.5 333.7L262.5 333L267.5 332.1L272.5 331.3L277.5 330.4L282.5 329.4L287.5 328.4L292.5 327.4L297.5 326.2L302.5 324L307.5 321.9L312.5 319.7L317.5 317.4L322.5 315L327.5 312.4L332.5 309.9L337.5 307.3L342.5 304.9L347.5 302.5L352.5 300.1L357.5 297.7L362.5 295.3L362.5 332.2L357.5 331.8L352.5 331.5L347.5 331.2L342.5 330.9L337.5 330.7L332.5 330.6L327.5 330.6L322.5 330.5L317.5 330.5L312.5 330.2L307.5 330L302.5 329.8L297.5 329.7L292.5 330.4L287.5 331.4L282.5 332.4L277.5 333.4L272.5 334.3L267.5 335.1L262.5 336L257.5 336.7L252.5 337.4L247.5 338L242.5 338.7L237.5 339.3L232.5 339.7L227.5 340.1L222.5 340.5L217.5 340.7L212.5 340.7L207.5 340.6L202.5 340.6L197.5 340.4L192.5 339.9L187.5 339.4L182.5 338.9L177.5 338.3L172.5 337.4L167.5 336.6L162.5 335.7L157.5 334.9L152.5 334.3L147.5 333.6L142.5 333L137.5 332.5L132.5 332.3L127.5 332.1L122.5 331.9L117.5 331.9L112.5 332.3L107.5 332.6L102.5 333L97.5 333.6L92.5 334.6L87.5 335.6L82.5 336.6L77.5 338.9L72.5 341.6L67.5 344.3L62.5 347.1L57.5 350.1L52.5 353.4L47.5 356.7L42.5 360.1L37.5 363.9L32.5 368.4L27.5 372.9L22.5 377.4L17.5 382Z" fill="#999" fill-opacity=".4"/><path d="M17.5 363.5C21.2 361.2 32.8 353.3 39.8 349.6C46.9 345.9 53.1 344 59.8 341.6C66.4 339.3 73 337.3 79.7 335.7C86.3 334 93 332.6 99.6 331.7C106.2 330.8 112.9 330.4 119.5 330.3C126.2 330.2 132.8 330.5 139.4 331.1C146.1 331.6 152.7 332.7 159.4 333.7C166 334.7 172.6 336.2 179.3 337.1C185.9 337.9 192.6 338.7 199.2 339C205.8 339.4 212.5 339.5 219.1 339.2C225.8 339 232.4 338.3 239 337.6C245.7 337 252.3 336.1 259 335.1C265.6 334.1 272.2 332.9 278.9 331.7C285.5 330.4 292.2 329 298.8 327.7C305.4 326.4 312.1 325.2 318.7 323.7C325.4 322.2 331.3 320.4 338.6 318.7C345.9 317.1 358.6 314.6 362.5 313.7" stroke="#000" stroke-width="8.9" fill="none" stroke-linejoin="round"/></g></g><g clip-path="url(#c31)"><rect x="484.5" y="1294.1" width="379.4" height="383.5" fill="#EBEBEB"/><path d="M530.8 1294.1V1677.6M602.9 1294.1V1677.6M675 1294.1V1677.6M747 1294.1V1677.6M819.1 1294.1V1677.6M484.5 1612.7H863.9M484.5 1517.8H863.9M484.5 1422.9H863.9M484.5 1328H863.9" stroke="#fff" stroke-width="2.2" fill="none"/><path d="M494.7 1294.1V1677.6M566.8 1294.1V1677.6M638.9 1294.1V1677.6M711 1294.1V1677.6M783.1 1294.1V1677.6M855.2 1294.1V1677.6M484.5 1660.2H863.9M484.5 1565.3H863.9M484.5 1470.4H863.9M484.5 1375.4H863.9" stroke="#fff" stroke-width="4.4" fill="none"/><g transform="translate(484.5 1294.1)"><path transform="scale(2.15)" d="M21 24h2M22 31h2M35 37h2M38 41h2M37 42h2M46 43h2M60 44h2M18 48h2M33 48h2M26 49h2M38 50h2M43 51h2M19 52h2M28 52h2M49 54h2M22 56h2M42 58h2M34 60h2M51 60h2M55 60h2M32 62h2M40 63h2M25 64h2M41 66h2M20 67h2M43 68h2M25 69h2M52 72h2M24 73h2M43 73h2M13 74h2M27 75h2M60 77h2M43 78h2M67 78h2M55 79h2M60 79h2M18 80h2M35 80h2M36 81h4M61 81h2M34 82h2M34 83h2M42 83h2M20 84h2M35 84h2M38 84h2M63 84h2M33 85h2M54 85h4M61 85h2M73 85h2M24 86h2M44 86h5M18 87h2M35 87h2M40 87h2M43 87h2M24 88h2M35 88h2M22 89h2M48 89h4M65 90h2M24 91h3M45 91h2M26 92h2M53 92h2M66 92h2M19 93h2M22 93h2M27 93h2M48 93h5M60 93h2M88 93h2M34 94h2M22 95h2M20 96h2M24 96h2M41 96h2M27 97h2M43 97h2M14 98h2M22 98h3M31 98h2M70 98h2M99 98h2M18 99h2M25 99h2M38 99h4M73 99h2M89 99h2M20 100h3M26 100h2M33 100h4M40 100h2M44 100h2M47 100h2M54 100h2M62 100h2M20 101h2M31 101h2M34 101h2M39 101h2M48 101h2M54 101h2M64 101h2M74 101h2M84 101h2M18 102h2M21 102h2M24 102h2M37 102h2M42 102h2M54 102h2M92 102h2M20 103h2M23 103h2M29 103h2M43 103h2M77 103h2M88 103h2M19 104h2M31 104h3M36 104h2M45 104h2M70 104h2M20 105h2M23 105h2M28 105h2M34 105h2M44 105h2M104 105h2M24 106h2M28 106h3M37 106h2M45 106h3M50 106h2M59 106h2M66 106h2M20 107h2M24 107h2M27 107h2M32 107h2M36 107h2M40 107h2M43 107h2M48 107h2M24 108h2M38 108h2M42 108h2M61 108h2M91 108h2M106 108h2M15 109h4M21 109h3M27 109h2M31 109h8M40 109h2M45 109h2M50 109h3M81 109h2M96 109h2M19 110h4M25 110h4M33 110h5M52 110h2M59 110h2M24 111h2M35 111h2M43 111h2M52 111h2M68 111h2M102 111h2M21 112h3M25 112h2M28 112h2M34 112h2M37 112h2M46 112h2M50 112h3M64 112h5M102 112h2M26 113h3M39 113h2M49 113h4M67 113h2M94 113h2M18 114h5M27 114h7M35 114h3M44 114h4M18 115h2M22 115h2M28 115h2M31 115h2M66 115h2M69 115h2M77 115h2M90 115h2M101 115h2M114 115h2M22 116h12M41 116h4M54 116h4M60 116h5M68 116h2M73 116h2M79 116h2M101 116h2M13 117h2M18 117h2M23 117h8M37 117h2M40 117h3M44 117h2M48 117h2M60 117h4M66 117h2M71 117h2M18 118h2M25 118h2M28 118h2M34 118h2M38 118h4M44 118h2M54 118h2M63 118h2M79 118h2M18 119h7M26 119h3M37 119h2M67 119h4M94 119h2M18 120h7M27 120h5M33 120h2M41 120h2M53 120h4M65 120h2M72 120h2M79 120h2M85 120h2M100 120h2M120 120h2M141 120h2M13 121h2M18 121h2M23 121h4M28 121h2M31 121h3M40 121h2M44 121h3M48 121h2M52 121h2M67 121h4M12 122h2M19 122h3M23 122h2M26 122h3M31 122h2M34 122h4M40 122h2M44 122h2M47 122h2M61 122h2M64 122h2M78 122h2M93 122h2M111 122h2M13 123h4M19 123h2M23 123h7M32 123h2M37 123h4M44 123h4M60 123h2M79 123h2M92 123h2M16 124h2M19 124h3M23 124h2M27 124h8M36 124h2M39 124h2M50 124h2M57 124h2M60 124h5M69 124h2M110 124h2M15 125h2M18 125h2M21 125h3M28 125h3M34 125h2M38 125h2M41 125h2M54 125h3M58 125h2M61 125h2M66 125h3M70 125h2M14 126h4M20 126h2M23 126h5M30 126h3M36 126h4M41 126h2M46 126h4M54 126h5M63 126h2M72 126h2M81 126h2M91 126h2M109 126h2M18 127h2M21 127h11M36 127h2M42 127h4M53 127h2M64 127h2M67 127h2M73 127h2M78 127h3M97 127h3M102 127h2M13 128h2M16 128h2M19 128h11M32 128h5M39 128h2M42 128h4M47 128h7M60 128h2M67 128h2M71 128h2M76 128h3M81 128h2M84 128h2M99 128h2M104 128h2M15 129h9M25 129h8M35 129h4M43 129h4M49 129h4M55 129h4M63 129h3M68 129h2M79 129h4M85 129h2M88 129h2M92 129h2M13 130h3M18 130h6M26 130h3M30 130h4M35 130h3M39 130h2M43 130h3M47 130h6M55 130h2M62 130h2M72 130h5M82 130h2M85 130h2M18 131h7M26 131h2M29 131h7M37 131h2M41 131h4M49 131h2M55 131h2M58 131h3M67 131h2M71 131h2M76 131h4M82 131h2M85 131h2M88 131h2M95 131h2M104 131h2M108 131h2M7 132h2M14 132h2M18 132h7M26 132h8M36 132h2M44 132h2M47 132h4M55 132h2M63 132h6M70 132h4M75 132h2M78 132h2M82 132h2M88 132h2M101 132h2M143 132h2M12 133h2M17 133h2M21 133h8M31 133h2M40 133h5M50 133h3M56 133h9M69 133h2M73 133h2M88 133h2M109 133h2M24 134h8M33 134h18M58 134h2M61 134h4M69 134h2M72 134h2M111 134h2M124 134h2M144 134h2M15 135h6M22 135h14M37 135h4M42 135h5M54 135h2M59 135h4M66 135h2M75 135h3M89 135h2M94 135h3M116 135h2M121 135h2M142 135h2M17 136h13M31 136h7M40 136h3M44 136h4M50 136h2M54 136h5M60 136h2M63 136h2M81 136h2M108 136h2M116 136h2M140 136h2M14 137h11M27 137h2M30 137h3M36 137h12M53 137h7M64 137h4M75 137h6M87 137h2M90 137h2M93 137h2M97 137h2M100 137h4M106 137h2M140 137h2M14 138h5M20 138h22M44 138h8M53 138h2M58 138h2M61 138h3M67 138h6M74 138h2M78 138h2M83 138h3M100 138h2M108 138h4M115 138h2M133 138h2M17 139h10M29 139h10M41 139h2M44 139h4M49 139h9M59 139h3M63 139h3M68 139h2M71 139h2M75 139h2M87 139h2M102 139h2M119 139h2M123 139h2M130 139h3M12 140h2M18 140h9M29 140h4M34 140h4M39 140h6M48 140h4M53 140h7M62 140h2M68 140h2M74 140h2M79 140h2M82 140h4M87 140h4M94 140h2M99 140h2M104 140h2M132 140h2M10 141h2M13 141h2M16 141h7M25 141h7M33 141h8M42 141h11M54 141h4M60 141h8M73 141h3M77 141h3M82 141h4M87 141h2M93 141h2M99 141h5M107 141h2M118 141h2M121 141h2M151 141h2M8 142h2M13 142h2M16 142h14M31 142h15M47 142h8M58 142h2M62 142h2M65 142h8M77 142h2M81 142h8M94 142h2M103 142h2M108 142h2M118 142h2M122 142h2M12 143h16M29 143h34M65 143h2M70 143h3M75 143h6M86 143h2M89 143h2M93 143h4M101 143h2M104 143h2M108 143h2M111 143h3M119 143h2M129 143h2M153 143h2M13 144h23M37 144h15M54 144h4M59 144h5M71 144h2M79 144h4M87 144h2M91 144h2M94 144h2M102 144h2M116 144h2M123 144h2M133 144h2M13 145h2M17 145h35M53 145h4M58 145h3M63 145h10M75 145h2M80 145h2M89 145h2M96 145h2M101 145h2M108 145h3M122 145h4M147 145h2M9 146h2M15 146h28M45 146h2M48 146h8M58 146h5M75 146h4M80 146h2M83 146h3M88 146h2M93 146h6M105 146h2M108 146h2M118 146h2M129 146h2M139 146h2M13 147h26M40 147h17M58 147h8M67 147h2M70 147h3M74 147h2M77 147h4M84 147h3M88 147h2M103 147h2M110 147h2M115 147h4M120 147h2M127 147h2M163 147h2M7 148h2M12 148h2M15 148h30M46 148h17M64 148h4M73 148h8M82 148h4M91 148h2M96 148h2M102 148h2M106 148h7M116 148h4M122 148h3M130 148h2M149 148h2M155 148h2M12 149h3M16 149h12M29 149h11M43 149h6M51 149h5M58 149h2M63 149h4M68 149h3M72 149h6M83 149h2M87 149h3M93 149h2M101 149h2M115 149h2M121 149h4M129 149h2M134 149h2M12 150h3M16 150h25M42 150h10M54 150h12M69 150h2M73 150h16M90 150h5M108 150h2M111 150h2M116 150h2M120 150h2M135 150h3M140 150h4M13 151h31M46 151h5M53 151h5M59 151h5M65 151h2M69 151h2M72 151h6M79 151h13M99 151h7M107 151h2M111 151h4M134 151h2M138 151h2M141 151h2M149 151h2M13 152h2M16 152h30M47 152h12M60 152h6M68 152h5M74 152h2M80 152h2M83 152h5M90 152h3M96 152h2M102 152h8M114 152h2M118 152h3M138 152h2M141 152h2M9 153h2M13 153h38M52 153h6M61 153h14M76 153h2M79 153h9M94 153h2M97 153h4M103 153h7M118 153h2M121 153h2M124 153h2M133 153h4M166 153h2M12 154h33M46 154h12M60 154h19M80 154h2M85 154h4M94 154h2M100 154h4M105 154h7M116 154h2M120 154h2M125 154h5M134 154h2M7 155h2M12 155h3M16 155h34M51 155h19M71 155h4M79 155h5M85 155h2M89 155h2M92 155h4M97 155h2M102 155h4M109 155h4M129 155h2M12 156h5M19 156h52M72 156h3M77 156h6M85 156h7M94 156h4M100 156h2M107 156h2M111 156h2M115 156h2M119 156h3M151 156h2M8 157h2M12 157h50M64 157h19M84 157h8M93 157h2M97 157h2M102 157h13M117 157h7M125 157h4M8 158h2M11 158h51M64 158h13M78 158h11M91 158h6M98 158h6M106 158h2M110 158h4M116 158h2M121 158h6M128 158h2M132 158h2M7 159h2M13 159h44M58 159h15M74 159h14M89 159h5M101 159h10M113 159h6M121 159h3M128 159h3M11 160h27M39 160h53M93 160h2M96 160h2M99 160h5M105 160h4M118 160h3M122 160h3M8 161h2M13 161h56M70 161h9M80 161h5M87 161h2M90 161h13M104 161h8M114 161h6M122 161h2M130 161h2M133 161h2M138 161h2M168 161h2M7 162h2M10 162h85M96 162h4M104 162h13M119 162h2M137 162h2M8 163h85M94 163h8M103 163h8M114 163h4M10 164h2M13 164h67M81 164h7M89 164h6M96 164h9M107 164h2M111 164h2M114 164h2M118 164h2M122 164h2M125 164h2M128 164h2M134 164h2M137 164h2M7 165h2M10 165h2M13 165h70M84 165h11M96 165h10M109 165h6M116 165h5M122 165h2M129 165h2M132 165h2M7 166h2M10 166h66M77 166h19M98 166h4M103 166h5M110 166h2M128 166h2M14 167h63M78 167h14M94 167h3M98 167h7M109 167h4M116 167h3M122 167h4M12 168h53M66 168h13M80 168h12M95 168h3M100 168h3M106 168h7M132 168h2M137 168h2M13 169h74M99 169h4M108 169h3M112 169h3M119 169h2M12 170h51M64 170h3M71 170h4M76 170h4M82 170h2M85 170h2M90 170h5M99 170h4M105 170h2M109 170h5M132 170h2M7 171h3M12 171h90M103 171h2M106 171h8M116 171h4M127 171h2M133 171h5M141 171h2M146 171h2M150 171h2" stroke="#6495ED" stroke-width="2" fill="none"/><path d="M17.9 332.2L22.9 331.8L27.9 331.5L32.9 331.2L37.9 330.9L42.9 330.8L47.9 330.8L52.9 330.8L57.9 330.8L62.9 331L67.9 331.3L72.9 331.7L77.9 332L82.9 332.4L87.9 332.8L92.8 333.2L97.8 333.6L102.8 334L107.8 334.3L112.8 334.7L117.8 335L122.8 335.3L127.8 335.6L132.8 335.8L137.8 336.1L142.8 336.2L147.8 336.4L152.8 336.5L157.8 336.7L162.8 336.7L167.8 336.7L172.8 336.7L177.8 336.7L182.7 336.6L187.7 336.5L192.7 336.3L197.7 336.2L202.7 336L207.7 335.9L212.7 335.7L217.7 335.6L222.7 335.4L227.7 335.2L232.7 335L237.7 334.8L242.7 334.5L247.7 334.2L252.7 333.9L257.7 333.6L262.7 333.3L267.7 333L272.6 332.7L277.6 332.4L282.6 332.1L287.6 331.8L292.6 331L297.6 329.9L302.6 328.7L307.6 327.6L312.6 326.5L317.6 325.3L322.6 324.2L327.6 323L332.6 321.8L337.6 320.6L342.6 319.4L347.6 318.3L352.6 317.1L357.6 315.9L362.5 314.7L362.5 344.6L357.6 343.9L352.6 343.1L347.6 342.3L342.6 341.6L337.6 340.8L332.6 340.2L327.6 339.5L322.6 338.8L317.6 338.1L312.6 337.5L307.6 336.8L302.6 336.2L297.6 335.6L292.6 335.1L287.6 334.8L282.6 335.1L277.6 335.4L272.6 335.7L267.7 336L262.7 336.3L257.7 336.6L252.7 336.9L247.7 337.2L242.7 337.5L237.7 337.8L232.7 338L227.7 338.2L222.7 338.4L217.7 338.6L212.7 338.7L207.7 338.9L202.7 339L197.7 339.2L192.7 339.3L187.7 339.5L182.7 339.6L177.8 339.7L172.8 339.7L167.8 339.7L162.8 339.7L157.8 339.7L152.8 339.5L147.8 339.4L142.8 339.2L137.8 339.1L132.8 338.8L127.8 338.6L122.8 338.3L117.8 338L112.8 337.7L107.8 337.3L102.8 337L97.8 336.6L92.8 336.2L87.9 335.8L82.9 335.4L77.9 335L72.9 334.7L67.9 334.3L62.9 334L57.9 333.8L52.9 333.8L47.9 333.8L42.9 333.8L37.9 333.9L32.9 334.2L27.9 334.5L22.9 334.8L17.9 335.2Z" fill="#999" fill-opacity=".4"/><path d="M17.9 333.7C21.6 333.4 32.9 332.5 39.8 332.3C46.8 332 53.1 332 59.8 332.3C66.4 332.5 73 333.2 79.7 333.7C86.3 334.2 93 334.8 99.6 335.3C106.2 335.8 112.9 336.3 119.5 336.7C126.2 337.1 132.8 337.4 139.4 337.6C146.1 337.9 152.7 338.1 159.4 338.2C166 338.3 172.6 338.3 179.3 338.2C185.9 338.1 192.6 337.8 199.2 337.6C205.8 337.5 212.5 337.3 219.1 337.1C225.8 336.8 232.4 336.6 239 336.3C245.7 335.9 252.3 335.5 259 335.1C265.6 334.7 272.2 334.3 278.9 333.9C285.5 333.5 292.2 333 298.8 332.7C305.4 332.3 312.1 332 318.7 331.7C325.4 331.3 331.3 331 338.6 330.7C345.9 330.3 358.6 329.8 362.5 329.7" stroke="#000" stroke-width="8.9" fill="none" stroke-linejoin="round"/></g></g><g clip-path="url(#c32)"><rect x="886.9" y="1294.1" width="379.4" height="383.5" fill="#EBEBEB"/><path d="M948.7 1294.1V1677.6M1044.1 1294.1V1677.6M1139.5 1294.1V1677.6M1234.9 1294.1V1677.6M886.9 1612.7H1266.3M886.9 1517.8H1266.3M886.9 1422.9H1266.3M886.9 1328H1266.3" stroke="#fff" stroke-width="2.2" fill="none"/><path d="M901 1294.1V1677.6M996.4 1294.1V1677.6M1091.8 1294.1V1677.6M1187.2 1294.1V1677.6M886.9 1660.2H1266.3M886.9 1565.3H1266.3M886.9 1470.4H1266.3M886.9 1375.4H1266.3" stroke="#fff" stroke-width="4.4" fill="none"/><g transform="translate(886.9 1294.1)"><path transform="scale(2.15)" d="M14 15h2M16 20h2M9 23h2M14 23h2M16 29h2M19 29h2M19 30h2M10 36h2M12 38h2M13 39h2M12 41h3M9 42h2M15 43h2M13 46h2M12 47h2M13 48h2M10 50h2M17 50h2M32 50h2M15 53h2M9 54h4M20 55h2M8 57h3M14 57h2M13 62h2M14 64h2M25 64h2M9 66h2M9 67h2M12 68h2M9 69h2M14 70h2M12 71h2M8 73h2M18 74h2M10 75h2M10 76h2M13 76h2M19 76h2M9 77h7M21 78h2M9 80h2M13 80h3M18 80h2M9 81h2M18 81h2M13 82h2M22 82h2M17 83h2M44 83h2M11 84h2M9 85h5M18 85h6M11 86h2M18 86h2M14 87h3M21 87h2M24 87h2M15 88h2M48 88h2M19 89h2M26 89h2M8 90h7M21 90h2M26 90h2M10 91h4M16 91h2M8 92h2M14 92h2M19 92h3M23 92h3M10 93h5M16 93h3M29 93h2M10 94h4M19 94h2M10 95h5M18 95h2M14 96h7M28 96h2M11 97h2M14 97h2M17 97h2M20 97h2M9 98h4M17 98h2M31 98h2M11 99h2M14 99h3M19 99h2M11 100h6M18 100h3M11 101h2M17 101h4M25 101h2M12 102h3M18 102h3M22 102h2M32 102h2M10 103h4M16 103h2M24 103h2M8 104h2M14 104h8M23 104h3M31 104h2M11 105h4M17 105h4M31 105h2M10 106h12M30 106h2M9 107h3M14 107h6M21 107h4M40 107h2M52 107h2M11 108h2M16 108h10M9 109h2M12 109h9M22 109h2M12 110h4M17 110h2M20 110h2M24 110h2M11 111h3M17 111h4M24 111h2M35 111h2M38 111h2M9 112h3M13 112h4M18 112h3M23 112h3M29 112h2M10 113h10M21 113h2M25 113h2M28 113h4M35 113h2M9 114h7M19 114h4M10 115h6M17 115h7M35 115h2M63 115h2M8 116h6M17 116h7M29 116h2M8 117h13M25 117h3M29 117h2M54 117h2M11 118h11M26 118h3M32 118h2M84 118h2M10 119h7M18 119h7M30 119h2M8 120h11M21 120h2M26 120h2M39 120h2M9 121h11M21 121h2M27 121h2M31 121h4M45 121h2M8 122h3M13 122h6M20 122h3M25 122h2M34 122h3M41 122h2M9 123h16M47 123h2M10 124h12M23 124h3M29 124h2M40 124h2M8 125h15M28 125h4M43 125h2M8 126h20M30 126h4M9 127h17M32 127h3M41 127h2M44 127h2M9 128h5M16 128h8M29 128h2M9 129h18M28 129h4M8 130h15M25 130h4M30 130h2M33 130h2M8 131h23M32 131h2M41 131h2M49 131h2M8 132h20M29 132h2M44 132h2M8 133h19M29 133h3M33 133h2M59 133h2M8 134h11M20 134h12M34 134h2M40 134h2M8 135h20M30 135h2M40 135h2M45 135h2M50 135h2M69 135h2M8 136h16M26 136h5M33 136h4M60 136h2M9 137h22M33 137h3M39 137h2M49 137h2M85 137h2M91 137h2M7 138h20M28 138h4M34 138h3M41 138h2M49 138h2M59 138h2M64 138h2M7 139h21M30 139h2M33 139h4M39 139h2M44 139h2M47 139h2M52 139h2M67 139h2M78 139h2M8 140h23M32 140h2M47 140h4M62 140h2M8 141h25M36 141h3M47 141h2M66 141h2M74 141h2M9 142h28M40 142h2M44 142h2M56 142h2M9 143h25M41 143h2M45 143h2M50 143h2M55 143h2M8 144h29M44 144h2M53 144h3M8 145h24M35 145h6M42 145h2M54 145h2M73 145h2M79 145h2M8 146h25M35 146h6M45 146h2M61 146h2M8 147h27M39 147h2M46 147h3M51 147h2M59 147h2M71 147h2M9 148h25M35 148h3M42 148h4M56 148h2M62 148h2M96 148h2M8 149h26M35 149h2M45 149h4M50 149h2M56 149h4M63 149h4M72 149h2M90 149h2M8 150h34M45 150h2M48 150h2M60 150h2M63 150h2M76 150h2M8 151h30M41 151h2M45 151h4M52 151h3M58 151h2M61 151h3M69 151h2M85 151h2M88 151h2M9 152h40M55 152h6M73 152h3M82 152h2M101 152h2M8 153h31M40 153h7M50 153h2M54 153h6M79 153h2M9 154h26M36 154h7M44 154h7M57 154h4M63 154h4M71 154h2M76 154h2M82 154h3M88 154h2M105 154h2M8 155h28M41 155h5M47 155h10M59 155h3M63 155h3M83 155h2M87 155h2M93 155h2M116 155h2M8 156h35M45 156h3M52 156h2M56 156h2M60 156h3M66 156h2M74 156h2M78 156h2M95 156h2M101 156h2M8 157h29M38 157h6M46 157h5M53 157h2M56 157h2M59 157h2M63 157h2M67 157h2M72 157h2M77 157h2M88 157h2M101 157h2M106 157h2M7 158h31M39 158h4M44 158h4M50 158h2M55 158h8M69 158h3M75 158h4M85 158h2M89 158h2M94 158h2M105 158h2M110 158h2M8 159h37M46 159h7M55 159h6M62 159h2M68 159h4M105 159h2M114 159h2M123 159h2M8 160h38M47 160h4M52 160h2M56 160h12M83 160h2M88 160h2M99 160h3M109 160h2M129 160h2M8 161h45M55 161h5M63 161h5M74 161h2M85 161h4M92 161h2M97 161h2M119 161h2M156 161h4M7 162h35M44 162h3M48 162h12M61 162h7M70 162h6M78 162h3M87 162h2M92 162h6M112 162h2M117 162h5M124 162h2M145 162h2M154 162h2M8 163h24M33 163h13M47 163h6M54 163h3M58 163h3M63 163h2M74 163h7M88 163h3M98 163h2M105 163h5M112 163h2M139 163h2M145 163h2M7 164h46M55 164h2M58 164h2M62 164h7M73 164h5M79 164h4M86 164h2M92 164h3M99 164h5M117 164h3M134 164h2M137 164h2M141 164h2M8 165h38M47 165h8M56 165h2M59 165h2M62 165h25M89 165h5M97 165h2M101 165h4M107 165h2M111 165h3M116 165h2M123 165h3M156 165h2M7 166h59M68 166h17M86 166h3M91 166h2M96 166h8M113 166h2M117 166h2M122 166h2M132 166h2M140 166h2M7 167h62M71 167h4M83 167h2M86 167h2M92 167h2M96 167h2M100 167h3M108 167h3M113 167h4M119 167h2M122 167h2M125 167h3M8 168h70M79 168h2M85 168h6M93 168h16M113 168h2M8 169h33M42 169h6M50 169h9M60 169h24M85 169h18M107 169h2M118 169h2M123 169h2M134 169h2M139 169h2M146 169h2M8 170h38M47 170h4M53 170h5M59 170h2M62 170h12M75 170h13M89 170h2M93 170h8M102 170h2M132 170h2M8 171h85M94 171h27M122 171h2M129 171h3M154 171h2" stroke="#6495ED" stroke-width="2" fill="none"/><path d="M16.9 331.2L21.9 330L27 328.9L32 328.5L37 329.2L42 329.9L47 331.2L52 332.7L57 334.3L62 335.8L67 337.3L72 338.8L77 340.3L82 341.7L87.1 343L92.1 344.2L97.1 345.5L102.1 346.6L107.1 347.6L112.1 348.6L117.1 349.6L122.1 350.5L127.1 351.2L132.1 352L137.1 352.7L142.2 353.4L147.2 353.9L152.2 354.4L157.2 354.9L162.2 355.3L167.2 355.6L172.2 356L177.2 356.3L182.2 356.6L187.2 356.9L192.2 357.1L197.3 357.4L202.3 357.6L207.3 357.7L212.3 357.9L217.3 358L222.3 358.1L227.3 358.1L232.3 358.1L237.3 358.1L242.3 358L247.3 357.8L252.4 357.2L257.4 356.6L262.4 355.8L267.4 355L272.4 354.1L277.4 353.2L282.4 352.2L287.4 351.1L292.4 350L297.4 348.9L302.4 347.8L307.5 346.6L312.5 345.4L317.5 344.1L322.5 342.9L327.5 341.6L332.5 340.3L337.5 338.9L342.5 337.5L347.5 336.1L352.5 334.6L357.5 333.1L362.5 331.6L362.5 374.4L357.5 373.6L352.5 372.7L347.5 371.9L342.5 371.2L337.5 370.4L332.5 369.7L327.5 368.9L322.5 368.2L317.5 367.6L312.5 366.9L307.5 366.3L302.4 365.7L297.4 365.2L292.4 364.7L287.4 364.2L282.4 363.7L277.4 363.3L272.4 362.9L267.4 362.5L262.4 362.1L257.4 361.8L252.4 361.4L247.3 361L242.3 361L237.3 361.1L232.3 361.1L227.3 361.1L222.3 361.1L217.3 361L212.3 360.9L207.3 360.7L202.3 360.6L197.3 360.4L192.2 360.1L187.2 359.9L182.2 359.6L177.2 359.3L172.2 359L167.2 358.6L162.2 358.3L157.2 357.9L152.2 357.4L147.2 356.9L142.2 356.4L137.1 355.7L132.1 355L127.1 354.2L122.1 353.5L117.1 352.6L112.1 351.6L107.1 350.6L102.1 349.6L97.1 348.5L92.1 347.2L87.1 346L82 344.7L77 343.3L72 341.8L67 340.3L62 338.8L57 337.3L52 335.7L47 334.2L42 332.9L37 332.2L32 331.5L27 331.9L21.9 333L16.9 334.2Z" fill="#999" fill-opacity=".4"/><path d="M16.9 332.7C19.1 332.2 25.4 329.8 29.9 329.7C34.4 329.5 38.8 330.5 43.8 331.7C48.8 332.8 53.8 334.8 59.8 336.7C65.7 338.5 73 340.8 79.7 342.6C86.3 344.5 93 346.1 99.6 347.6C106.2 349.1 112.9 350.4 119.5 351.6C126.2 352.8 132.8 353.8 139.4 354.6C146.1 355.4 152.7 356 159.4 356.6C166 357.1 172.6 357.6 179.3 358C185.9 358.4 192.6 358.7 199.2 359C205.8 359.2 212.5 359.5 219.1 359.6C225.8 359.7 232.4 359.6 239 359.6C245.7 359.5 252.3 359.4 259 359.2C265.6 358.9 272.2 358.5 278.9 358.2C285.5 357.8 292.2 357.4 298.8 357C305.4 356.6 312.1 356.2 318.7 355.8C325.4 355.4 331.3 355 338.6 354.6C345.9 354.1 358.6 353.3 362.5 353" stroke="#000" stroke-width="8.9" fill="none" stroke-linejoin="round"/></g></g><g clip-path="url(#c33)"><rect x="1289.3" y="1294.1" width="379.4" height="383.5" fill="#EBEBEB"/><path d="M1357.6 1294.1V1677.6M1448.4 1294.1V1677.6M1539.2 1294.1V1677.6M1630 1294.1V1677.6M1289.3 1615H1668.7M1289.3 1525H1668.7M1289.3 1435H1668.7M1289.3 1345H1668.7" stroke="#fff" stroke-width="2.2" fill="none"/><path d="M1312.2 1294.1V1677.6M1403 1294.1V1677.6M1493.8 1294.1V1677.6M1584.6 1294.1V1677.6M1289.3 1660H1668.7M1289.3 1570H1668.7M1289.3 1480H1668.7M1289.3 1390H1668.7M1289.3 1300H1668.7" stroke="#fff" stroke-width="4.4" fill="none"/><path d="M1306.3 1660v-348.6h11.5v348.6zM1317.8 1660v-156.7h11.5v156.7zM1329.4 1660v-174h11.5v174zM1340.9 1660v-151.2h11.5v151.2zM1352.5 1660v-107.2h11.5v107.2zM1364 1660v-76.6h11.5v76.6zM1375.5 1660v-56.4h11.5v56.4zM1387.1 1660v-36.6h11.5v36.6zM1398.6 1660v-22.3h11.5v22.3zM1410.2 1660v-15.5h11.5v15.5zM1421.7 1660v-9.6h11.5v9.6zM1433.2 1660v-6h11.5v6zM1444.8 1660v-6h11.5v6zM1456.3 1660v-2.3h11.5v2.3zM1467.9 1660v-1.9h11.5v1.9zM1479.4 1660v-1.3h11.5v1.3zM1490.9 1660v-.6h11.5v.6zM1502.5 1660v-.6h11.5v.6zM1514 1660v-1.1h11.5v1.1zM1525.6 1660v-.9h11.5v.9zM1537.1 1660v-.6h11.5v.6zM1548.6 1660v-.4h11.5v.4zM1560.2 1660h11.5M1571.7 1660v-.4h11.5v.4zM1583.3 1660h11.5M1594.8 1660h11.5M1606.3 1660h11.5M1617.9 1660v-.4h11.5v.4zM1629.4 1660h11.5M1641 1660v-.4h11.5v.4z" fill="#6495ED" stroke="#000" stroke-width="1.9" stroke-linejoin="miter"/></g><rect x="1692.9" y="1295.3" width="377.0" height="381.1" fill="#fff" stroke="#EBEBEB" stroke-width="2.4"/><rect x="2095.3" y="1295.3" width="377.0" height="381.1" fill="#fff" stroke="#EBEBEB" stroke-width="2.4"/><rect x="2497.7" y="1295.3" width="377.0" height="381.1" fill="#fff" stroke="#EBEBEB" stroke-width="2.4"/><g clip-path="url(#c40)"><rect x="82.1" y="1700.6" width="379.4" height="383.5" fill="#EBEBEB"/><path d="M95.1 1700.6V2084.1M160.5 1700.6V2084.1M226 1700.6V2084.1M291.4 1700.6V2084.1M356.8 1700.6V2084.1M422.3 1700.6V2084.1M82.1 2022H461.5M82.1 1929.1H461.5M82.1 1836.2H461.5M82.1 1743.3H461.5" stroke="#fff" stroke-width="2.2" fill="none"/><path d="M127.8 1700.6V2084.1M193.2 1700.6V2084.1M258.7 1700.6V2084.1M324.1 1700.6V2084.1M389.6 1700.6V2084.1M455 1700.6V2084.1M82.1 2068.4H461.5M82.1 1975.5H461.5M82.1 1882.7H461.5M82.1 1789.8H461.5" stroke="#fff" stroke-width="4.4" fill="none"/><g transform="translate(82.1 1700.6)"><path transform="scale(2.15)" d="M95 9h3M137 11h2M83 12h2M103 13h2M80 16h2M107 17h2M89 18h2M111 18h2M120 18h2M127 18h2M115 19h2M86 20h2M100 21h2M135 21h2M126 22h2M75 23h2M93 24h2M110 24h2M118 24h2M91 25h2M65 26h2M89 26h2M77 27h2M95 27h2M83 28h2M87 28h2M80 29h2M91 29h2M81 30h2M99 30h4M45 31h2M84 31h2M88 31h2M126 31h2M82 32h2M96 32h2M78 33h2M92 33h2M111 33h2M107 34h2M77 35h2M104 35h2M84 36h2M111 36h2M114 36h2M98 37h2M107 37h2M75 39h2M86 39h2M100 39h2M88 40h2M118 40h2M73 41h4M99 41h5M100 42h2M118 42h2M83 43h2M87 43h2M93 43h2M65 44h2M88 44h2M103 44h2M106 44h2M83 45h4M88 45h2M91 45h2M109 45h2M122 45h2M137 45h2M80 46h2M100 46h2M108 46h2M102 47h2M93 48h2M112 48h2M126 48h2M83 49h2M92 49h2M117 49h2M133 49h2M79 50h2M113 50h2M127 50h2M67 51h2M123 51h3M60 52h2M80 52h6M111 52h2M119 52h2M77 53h3M84 53h2M95 53h2M110 53h2M126 53h2M78 54h3M92 54h2M98 54h4M136 54h2M74 55h3M104 55h2M64 56h2M75 56h2M86 56h2M92 56h2M95 56h3M105 56h2M113 56h2M136 56h2M80 57h2M88 57h4M98 57h2M109 57h2M118 57h2M74 58h2M82 58h2M88 58h2M94 58h3M103 58h2M106 58h3M136 58h2M104 59h2M125 59h3M92 60h2M95 60h2M117 60h2M130 60h2M134 60h2M60 61h2M63 61h2M66 61h2M83 61h4M93 61h2M101 61h2M104 61h2M119 61h2M126 61h2M79 62h2M85 62h3M97 62h2M106 62h4M129 62h2M63 63h2M74 63h2M86 63h2M90 63h2M98 63h2M109 63h2M124 63h2M127 63h2M59 64h2M67 64h2M89 64h4M96 64h2M106 64h2M68 65h2M78 65h2M84 65h4M92 65h2M107 65h4M113 65h2M116 65h2M69 66h2M105 66h2M120 66h2M144 66h2M70 67h2M75 67h2M84 67h2M89 67h2M96 67h3M104 67h2M125 67h2M131 67h3M67 68h4M76 68h2M79 68h2M87 68h2M91 68h2M94 68h2M104 68h2M110 68h3M122 68h2M131 68h2M54 69h2M67 69h2M74 69h5M87 69h4M92 69h2M101 69h3M110 69h2M72 70h2M75 70h2M83 70h4M91 70h4M98 70h2M109 70h2M115 70h2M55 71h4M69 71h2M72 71h2M76 71h4M89 71h2M93 71h2M110 71h2M121 71h2M127 71h2M132 71h2M56 72h2M67 72h2M91 72h2M101 72h2M110 72h2M113 72h2M132 72h2M77 73h4M82 73h2M87 73h2M95 73h2M98 73h2M104 73h2M109 73h4M114 73h2M117 73h2M57 74h2M60 74h2M75 74h2M91 74h4M102 74h3M110 74h2M56 75h2M73 75h2M102 75h2M108 75h2M79 76h2M94 76h2M97 76h2M101 76h2M113 76h2M63 77h2M77 77h2M85 77h2M90 77h2M96 77h5M112 77h4M120 77h2M56 78h2M61 78h2M79 78h2M89 78h3M93 78h2M100 78h2M103 78h2M106 78h4M116 78h2M80 79h6M87 79h2M91 79h2M94 79h3M101 79h2M105 79h4M115 79h2M57 80h3M71 80h2M79 80h2M82 80h2M89 80h5M99 80h3M103 80h3M112 80h2M117 80h3M60 81h2M77 81h4M82 81h2M99 81h2M113 81h2M116 81h2M62 82h2M76 82h4M83 82h4M89 82h2M96 82h5M115 82h2M139 82h2M54 83h2M64 83h2M67 83h2M74 83h4M83 83h2M86 83h2M93 83h2M96 83h2M100 83h2M104 83h2M107 83h2M112 83h4M121 83h2M130 83h2M138 83h2M25 84h2M83 84h2M94 84h2M97 84h3M104 84h2M125 84h2M55 85h4M78 85h2M89 85h7M98 85h2M105 85h6M115 85h2M131 85h2M55 86h3M74 86h2M92 86h2M98 86h3M113 86h2M116 86h2M79 87h3M85 87h2M88 87h2M92 87h2M95 87h4M101 87h2M105 87h2M110 87h2M122 87h2M131 87h2M64 88h2M67 88h2M76 88h2M79 88h4M87 88h2M91 88h2M100 88h5M110 88h2M26 89h2M76 89h2M82 89h2M85 89h2M90 89h2M94 89h2M97 89h2M102 89h2M110 89h3M58 90h3M64 90h3M73 90h2M78 90h2M92 90h2M97 90h2M109 90h3M115 90h2M123 90h2M136 90h2M62 91h2M67 91h2M74 91h2M78 91h5M86 91h2M90 91h4M103 91h5M63 92h2M72 92h2M79 92h9M89 92h2M99 92h4M105 92h2M112 92h2M118 92h2M67 93h3M82 93h2M94 93h6M103 93h2M107 93h2M114 93h2M121 93h2M139 93h2M43 94h2M61 94h2M93 94h2M98 94h2M107 94h3M48 95h2M53 95h4M67 95h2M75 95h4M90 95h3M105 95h2M108 95h2M113 95h2M119 95h2M123 95h3M133 95h2M67 96h2M74 96h4M84 96h2M89 96h2M93 96h3M103 96h3M111 96h3M124 96h2M127 96h3M139 96h2M143 96h2M43 97h2M64 97h2M70 97h2M83 97h4M88 97h3M104 97h3M110 97h4M126 97h2M134 97h2M60 98h2M71 98h2M77 98h2M83 98h2M86 98h4M94 98h2M100 98h5M106 98h3M114 98h2M117 98h2M121 98h2M70 99h2M75 99h3M82 99h3M87 99h4M93 99h7M102 99h5M114 99h2M132 99h2M58 100h2M75 100h5M81 100h2M88 100h2M95 100h5M101 100h2M112 100h2M46 101h4M56 101h2M62 101h2M70 101h2M73 101h4M81 101h2M84 101h2M93 101h2M98 101h2M101 101h4M106 101h2M109 101h2M117 101h2M137 101h3M65 102h2M72 102h6M81 102h2M84 102h3M94 102h2M100 102h3M107 102h2M117 102h2M68 103h2M74 103h2M79 103h3M84 103h2M88 103h2M91 103h3M96 103h2M102 103h2M107 103h2M110 103h2M115 103h2M141 103h2M53 104h2M64 104h4M71 104h2M75 104h2M79 104h2M84 104h2M93 104h6M110 104h2M115 104h4M133 104h2M45 105h2M60 105h2M70 105h2M76 105h4M81 105h3M87 105h2M93 105h5M112 105h4M117 105h2M132 105h2M142 105h2M53 106h2M64 106h2M72 106h2M76 106h2M79 106h3M94 106h3M105 106h6M112 106h4M119 106h2M45 107h3M67 107h2M73 107h2M76 107h4M81 107h2M85 107h2M90 107h3M98 107h3M104 107h2M107 107h2M110 107h5M117 107h4M126 107h2M44 108h2M50 108h2M55 108h2M58 108h2M64 108h2M81 108h2M87 108h3M91 108h5M140 108h2M42 109h2M53 109h4M68 109h2M74 109h4M79 109h2M86 109h5M100 109h2M107 109h2M112 109h2M117 109h2M121 109h3M127 109h2M35 110h2M61 110h4M73 110h2M81 110h3M89 110h2M93 110h9M103 110h2M110 110h2M114 110h2M127 110h3M131 110h2M44 111h2M54 111h2M80 111h2M83 111h4M88 111h2M92 111h2M100 111h2M106 111h3M116 111h2M123 111h2M127 111h4M58 112h5M64 112h2M73 112h4M79 112h2M83 112h2M86 112h2M89 112h3M99 112h2M102 112h4M111 112h2M121 112h2M125 112h2M51 113h2M72 113h2M75 113h3M81 113h3M94 113h4M99 113h2M103 113h2M107 113h7M116 113h2M127 113h2M131 113h2M139 113h2M42 114h2M66 114h2M73 114h2M78 114h3M82 114h3M89 114h4M95 114h3M104 114h2M111 114h2M114 114h5M127 114h2M47 115h2M51 115h6M68 115h3M73 115h2M76 115h5M83 115h2M87 115h2M91 115h2M100 115h4M109 115h4M121 115h4M131 115h3M45 116h4M52 116h2M61 116h2M70 116h2M77 116h2M84 116h10M102 116h2M107 116h2M110 116h2M122 116h2M138 116h2M46 117h2M57 117h2M65 117h2M68 117h6M76 117h2M79 117h2M90 117h3M103 117h3M115 117h2M121 117h2M124 117h2M45 118h2M54 118h2M62 118h2M69 118h2M73 118h4M84 118h2M87 118h2M92 118h2M95 118h2M100 118h2M107 118h2M112 118h2M123 118h2M36 119h2M42 119h4M53 119h2M57 119h2M62 119h2M68 119h2M76 119h4M82 119h2M85 119h2M90 119h7M103 119h2M106 119h2M110 119h5M24 120h3M34 120h2M66 120h6M76 120h3M81 120h2M87 120h5M94 120h4M100 120h2M104 120h2M108 120h3M113 120h2M120 120h2M133 120h2M43 121h2M46 121h2M56 121h4M62 121h4M72 121h6M80 121h8M90 121h3M99 121h2M103 121h4M108 121h2M121 121h2M128 121h2M135 121h4M37 122h2M40 122h4M52 122h2M57 122h2M61 122h2M65 122h2M68 122h2M72 122h9M89 122h2M94 122h2M98 122h2M105 122h2M111 122h2M115 122h2M118 122h2M131 122h4M23 123h2M40 123h2M47 123h4M57 123h2M61 123h2M76 123h6M85 123h7M93 123h2M96 123h4M101 123h2M105 123h2M116 123h4M123 123h2M47 124h2M51 124h2M67 124h5M74 124h3M81 124h6M88 124h4M98 124h6M108 124h2M114 124h2M119 124h2M131 124h2M31 125h2M47 125h2M56 125h4M74 125h5M81 125h2M85 125h6M92 125h2M97 125h2M100 125h3M104 125h5M114 125h4M120 125h2M37 126h2M42 126h2M49 126h4M65 126h3M72 126h2M75 126h2M78 126h7M86 126h5M93 126h2M96 126h2M100 126h8M112 126h2M126 126h3M135 126h2M34 127h2M37 127h3M48 127h4M54 127h6M63 127h4M73 127h5M83 127h5M90 127h9M100 127h2M105 127h9M117 127h3M121 127h2M124 127h2M132 127h3M26 128h2M56 128h2M65 128h2M71 128h2M81 128h2M92 128h3M96 128h2M99 128h2M106 128h2M110 128h5M117 128h2M123 128h3M137 128h2M41 129h2M51 129h2M56 129h2M61 129h2M65 129h2M71 129h10M82 129h6M89 129h4M98 129h5M104 129h3M108 129h3M114 129h4M133 129h2M36 130h2M56 130h2M63 130h2M69 130h2M80 130h4M87 130h5M94 130h2M98 130h2M101 130h2M111 130h2M117 130h4M128 130h4M149 130h2M33 131h2M55 131h4M71 131h3M75 131h8M86 131h2M91 131h3M95 131h8M109 131h2M112 131h2M115 131h5M147 131h2M29 132h2M43 132h5M49 132h2M54 132h2M58 132h2M66 132h2M74 132h2M78 132h5M84 132h4M90 132h2M94 132h2M99 132h2M103 132h2M115 132h2M121 132h2M154 132h2M42 133h2M45 133h2M55 133h2M63 133h4M73 133h3M78 133h2M86 133h2M89 133h4M95 133h6M108 133h5M123 133h2M33 134h4M48 134h3M52 134h2M57 134h2M61 134h2M69 134h2M72 134h5M78 134h5M85 134h8M100 134h2M109 134h4M116 134h2M132 134h2M144 134h2M16 135h2M41 135h3M57 135h4M62 135h3M68 135h2M85 135h10M97 135h2M107 135h2M114 135h10M126 135h4M132 135h2M43 136h3M53 136h3M62 136h2M66 136h2M71 136h7M81 136h2M85 136h6M99 136h6M112 136h2M120 136h2M126 136h2M47 137h2M55 137h2M66 137h2M70 137h2M77 137h13M93 137h3M98 137h2M104 137h8M114 137h4M122 137h4M131 137h2M143 137h2M45 138h4M54 138h2M59 138h2M65 138h2M69 138h3M79 138h3M83 138h2M86 138h11M99 138h6M110 138h3M121 138h2M126 138h2M17 139h2M40 139h2M47 139h2M52 139h2M57 139h9M69 139h4M74 139h3M78 139h2M81 139h2M87 139h9M97 139h3M103 139h2M109 139h4M127 139h2M132 139h2M17 140h2M29 140h2M49 140h4M60 140h4M67 140h2M70 140h8M82 140h15M99 140h2M104 140h5M113 140h3M126 140h5M132 140h2M37 141h2M41 141h2M47 141h2M61 141h4M66 141h4M75 141h4M82 141h13M96 141h2M100 141h5M109 141h5M130 141h2M30 142h2M43 142h2M46 142h2M49 142h2M54 142h2M58 142h2M61 142h3M67 142h2M75 142h8M85 142h7M93 142h4M99 142h2M106 142h2M109 142h4M120 142h2M123 142h6M7 143h2M56 143h6M64 143h3M69 143h2M73 143h8M83 143h3M87 143h15M104 143h2M111 143h3M119 143h5M132 143h2M144 143h2M27 144h2M46 144h3M52 144h3M60 144h2M66 144h10M77 144h15M93 144h9M104 144h3M108 144h2M116 144h3M121 144h2M129 144h2M147 144h2M11 145h2M47 145h7M55 145h8M64 145h2M67 145h2M70 145h5M78 145h4M84 145h19M104 145h6M115 145h3M120 145h3M131 145h2M36 146h2M46 146h2M58 146h2M63 146h4M69 146h3M74 146h2M77 146h7M85 146h5M91 146h13M107 146h5M113 146h2M119 146h2M124 146h3M45 147h2M57 147h4M67 147h5M73 147h5M82 147h21M104 147h3M108 147h3M112 147h2M116 147h2M28 148h2M45 148h3M61 148h3M66 148h6M73 148h36M110 148h4M115 148h2M133 148h2M29 149h2M37 149h2M41 149h2M47 149h3M54 149h2M68 149h20M89 149h14M110 149h3M117 149h4M136 149h4M150 149h2M19 150h2M47 150h2M54 150h2M57 150h9M69 150h26M96 150h3M101 150h5M107 150h5M133 150h2M136 150h2M34 151h2M37 151h2M40 151h6M50 151h2M57 151h3M62 151h2M67 151h30M98 151h11M114 151h2M128 151h3M29 152h2M32 152h2M42 152h2M45 152h2M55 152h4M61 152h46M108 152h8M117 152h2M120 152h2M124 152h2M145 152h2M27 153h2M33 153h2M41 153h2M46 153h6M55 153h3M60 153h2M63 153h7M71 153h27M99 153h4M104 153h12M119 153h6M133 153h2M31 154h2M35 154h2M47 154h2M52 154h8M63 154h41M105 154h6M115 154h4M127 154h5M134 154h3M141 154h2M145 154h2M13 155h2M41 155h2M44 155h7M54 155h4M59 155h53M113 155h6M121 155h3M125 155h2M130 155h2M48 156h6M56 156h4M62 156h50M114 156h4M121 156h2M128 156h2M131 156h2M136 156h4M41 157h3M47 157h10M58 157h50M109 157h2M113 157h3M134 157h2M141 157h2M43 158h2M48 158h63M114 158h5M121 158h2M124 158h2M135 158h2M10 159h2M30 159h2M46 159h2M49 159h2M52 159h55M108 159h13M122 159h2M129 159h2M142 159h2M153 159h2M19 160h2M28 160h2M41 160h2M47 160h51M99 160h15M115 160h2M118 160h2M123 160h2M127 160h2M156 160h2M43 161h71M116 161h3M120 161h2M125 161h2M128 161h2M31 162h2M40 162h73M115 162h2M119 162h14M143 162h2M41 163h2M48 163h68M117 163h9M127 163h3M21 164h2M40 164h3M45 164h68M114 164h3M118 164h6M126 164h2M129 164h2M138 164h2M34 165h8M46 165h71M121 165h2M125 165h2M128 165h4M34 166h4M43 166h76M122 166h8M131 166h2M139 166h2M143 166h2M39 167h70M110 167h9M120 167h4M125 167h4M134 167h2M145 167h2M28 168h2M31 168h8M42 168h2M45 168h80M134 168h2M17 169h2M38 169h4M43 169h7M51 169h70M123 169h2M127 169h3M135 169h2M142 169h2M30 170h4M37 170h71M109 170h12M123 170h5M129 170h2M134 170h4M141 170h2M60 171h2M71 171h2M74 171h2M86 171h2" stroke="#6495ED" stroke-width="2" fill="none"/><path d="M17.5 194.7L22.5 206.5L27.5 218.2L32.5 229.9L37.5 241.6L42.5 252.1L47.5 261.6L52.5 271.1L57.5 280.6L62.5 289.1L67.5 296.8L72.5 304.4L77.5 312L82.5 318.4L87.5 323.9L92.5 329.3L97.5 333.7L102.5 336L107.5 337.4L112.5 338.8L117.5 340.2L122.5 340.6L127.5 340.3L132.5 340L137.5 339.7L142.5 338.2L147.5 336.1L152.5 334L157.5 331.9L162.5 328.6L167.5 324.6L172.5 320.6L177.5 316.6L182.5 312.6L187.5 308.6L192.5 304.6L197.5 300.6L202.5 298L207.5 296L212.5 294L217.5 292L222.5 290.3L227.5 288.8L232.5 287.3L237.5 285.8L242.5 283.8L247.5 281.5L252.5 279.3L257.5 277L262.5 274.2L267.5 271.2L272.5 268.2L277.5 264.3L282.5 259.1L287.5 253.7L292.5 248.2L297.5 242.7L302.5 236.8L307.5 230.8L312.5 224.7L317.5 218.6L322.5 212.5L327.5 206.3L332.5 200.2L337.5 194L342.5 188L347.5 182.1L352.5 176.2L357.5 170.3L362.5 164.3L362.5 232.1L357.5 234L352.5 236L347.5 238L342.5 240L337.5 242.1L332.5 244.5L327.5 246.8L322.5 249.2L317.5 251.5L312.5 253.9L307.5 256.4L302.5 258.8L297.5 261.1L292.5 263.1L287.5 265.2L282.5 267.3L277.5 269.2L272.5 271.2L267.5 274.2L262.5 277.2L257.5 280L252.5 282.3L247.5 284.5L242.5 286.8L237.5 288.8L232.5 290.3L227.5 291.8L222.5 293.3L217.5 295L212.5 297L207.5 299L202.5 301L197.5 303.6L192.5 307.6L187.5 311.6L182.5 315.6L177.5 319.6L172.5 323.6L167.5 327.6L162.5 331.6L157.5 334.9L152.5 337L147.5 339.1L142.5 341.2L137.5 342.7L132.5 343L127.5 343.3L122.5 343.6L117.5 343.2L112.5 341.8L107.5 340.4L102.5 339L97.5 336.7L92.5 334.1L87.5 332.5L82.5 331L77.5 328.7L72.5 325.3L67.5 321.9L62.5 318.6L57.5 314.5L52.5 309.5L47.5 304.5L42.5 299.5L37.5 293.6L32.5 286.5L27.5 279.5L22.5 272.5L17.5 265.4Z" fill="#999" fill-opacity=".4"/><path d="M17.5 230.1C21.2 237.1 32.8 260.1 39.8 271.9C46.9 283.7 53.1 292.3 59.8 300.8C66.4 309.3 73 316.7 79.7 322.7C86.3 328.7 93 333.4 99.6 336.7C106.2 339.9 112.9 341.5 119.5 342.2C126.2 343 132.8 342.6 139.4 341C146.1 339.4 152.7 336.7 159.4 332.7C166 328.6 172.6 322 179.3 316.7C185.9 311.4 192.6 304.8 199.2 300.8C205.8 296.8 212.5 295.2 219.1 292.8C225.8 290.5 232.4 289.3 239 286.9C245.7 284.4 252.3 281.4 259 277.9C265.6 274.4 272.2 270.4 278.9 265.9C285.5 261.5 292.2 256.3 298.8 251C305.4 245.7 312.1 239.7 318.7 234.1C325.4 228.4 331.3 223.1 338.6 217.1C345.9 211.2 358.6 201.4 362.5 198.2" stroke="#000" stroke-width="8.9" fill="none" stroke-linejoin="round"/></g></g><g clip-path="url(#c41)"><rect x="484.5" y="1700.6" width="379.4" height="383.5" fill="#EBEBEB"/><path d="M530.8 1700.6V2084.1M602.9 1700.6V2084.1M675 1700.6V2084.1M747 1700.6V2084.1M819.1 1700.6V2084.1M484.5 2022H863.9M484.5 1929.1H863.9M484.5 1836.2H863.9M484.5 1743.3H863.9" stroke="#fff" stroke-width="2.2" fill="none"/><path d="M494.7 1700.6V2084.1M566.8 1700.6V2084.1M638.9 1700.6V2084.1M711 1700.6V2084.1M783.1 1700.6V2084.1M855.2 1700.6V2084.1M484.5 2068.4H863.9M484.5 1975.5H863.9M484.5 1882.7H863.9M484.5 1789.8H863.9" stroke="#fff" stroke-width="4.4" fill="none"/><g transform="translate(484.5 1700.6)"><path transform="scale(2.15)" d="M89 8h2M45 9h2M83 10h2M66 11h2M96 11h2M48 12h2M48 13h2M23 14h2M50 14h2M84 14h2M94 14h2M80 15h2M47 16h2M37 17h2M80 17h2M70 18h2M92 18h2M41 19h2M60 19h2M77 19h2M95 19h2M78 20h2M101 20h2M48 22h2M63 22h2M93 22h2M37 23h2M31 24h2M40 24h2M58 24h2M67 24h2M39 25h2M69 25h2M98 25h2M89 26h2M49 27h2M80 27h2M53 28h2M104 28h2M63 29h2M33 30h2M65 30h2M91 30h3M109 30h2M41 31h2M46 31h2M63 31h2M89 31h2M113 31h2M42 32h2M38 33h2M65 33h2M53 34h2M70 34h4M96 34h2M113 34h2M43 35h2M94 35h2M46 36h2M58 36h2M54 37h2M78 37h2M51 38h2M56 38h2M77 38h2M115 38h2M44 39h2M52 39h2M75 39h2M114 39h2M46 40h2M74 40h2M95 40h2M69 41h3M102 41h2M37 42h3M43 42h2M46 42h2M50 42h2M55 42h2M55 43h2M50 44h2M55 44h2M61 44h2M77 44h2M94 44h2M48 45h2M54 45h6M61 45h2M68 45h2M74 45h4M36 46h2M40 46h4M46 46h2M72 46h2M76 46h2M83 46h2M89 46h2M101 46h2M114 46h2M33 47h2M40 47h2M49 47h2M59 47h2M86 47h2M34 48h2M42 48h2M45 48h5M73 48h2M76 48h2M81 48h2M90 48h2M38 49h2M42 49h2M46 49h2M50 49h2M57 49h2M83 49h2M94 49h2M61 50h2M70 51h2M100 51h2M123 51h2M52 52h2M67 52h2M75 52h2M81 52h2M41 53h2M46 53h2M69 53h2M93 53h4M37 54h3M69 54h2M76 54h2M96 54h2M116 54h2M33 55h2M43 55h2M73 55h3M99 55h2M30 56h2M43 56h2M56 56h2M64 56h2M73 56h4M89 56h2M95 56h2M67 57h2M78 57h2M83 57h2M89 57h2M47 58h2M65 58h2M69 58h2M73 58h2M49 59h2M52 59h2M66 59h2M76 59h2M99 59h2M47 60h2M53 60h2M86 60h4M102 60h2M58 61h4M84 61h2M88 61h2M38 62h2M46 62h3M51 62h5M75 62h2M111 62h2M47 63h2M55 63h2M70 63h2M122 63h2M35 64h2M41 64h2M55 64h4M62 64h2M76 64h4M81 64h2M93 64h2M106 64h2M134 64h2M26 65h2M46 65h3M53 65h2M60 65h2M64 65h5M82 65h2M93 65h2M105 65h2M43 66h2M55 66h2M63 66h2M79 66h5M105 66h2M110 66h4M44 67h4M54 67h2M57 67h2M92 67h3M39 68h2M45 68h2M49 68h2M54 68h2M65 68h2M73 68h2M83 68h2M87 68h3M104 68h2M116 68h2M144 68h2M38 69h2M57 69h2M60 69h2M40 70h2M48 70h5M74 70h2M78 70h2M81 70h2M28 71h2M43 71h3M47 71h2M61 71h4M74 71h2M104 71h2M28 72h2M35 72h2M51 72h2M55 72h2M59 72h6M74 72h3M98 72h2M34 73h2M38 73h2M51 73h3M63 73h2M66 73h2M70 73h2M79 73h2M95 73h2M18 74h2M38 74h2M53 74h2M81 74h2M94 74h2M40 75h2M51 75h2M59 75h2M66 75h3M76 75h2M112 75h2M120 75h2M33 76h2M89 76h2M106 76h3M115 76h2M118 76h2M29 77h3M38 77h4M44 77h2M49 77h3M56 77h2M64 77h4M81 77h2M85 77h2M107 77h2M111 77h2M42 78h2M51 78h2M55 78h2M69 78h4M74 78h2M77 78h2M99 78h2M50 79h2M53 79h2M59 79h3M68 79h2M82 79h3M98 79h2M130 79h2M33 80h2M42 80h2M46 80h2M50 80h2M60 80h3M68 80h6M82 80h2M125 80h4M30 81h4M50 81h3M65 81h2M69 81h2M75 81h2M82 81h2M87 81h2M90 81h2M94 81h2M51 82h2M54 82h2M64 82h2M72 82h3M99 82h2M21 83h2M39 83h2M43 83h3M52 83h2M55 83h5M61 83h2M64 83h4M72 83h2M78 83h2M85 83h2M95 83h2M108 83h3M120 83h2M46 84h2M60 84h3M68 84h4M81 84h2M84 84h2M102 84h2M106 84h2M31 85h2M39 85h2M43 85h4M51 85h2M56 85h3M68 85h2M73 85h2M76 85h2M81 85h5M104 85h2M38 86h2M41 86h2M44 86h3M48 86h2M58 86h3M71 86h2M76 86h2M83 86h2M87 86h2M97 86h2M101 86h2M106 86h2M116 86h2M32 87h3M37 87h2M46 87h2M52 87h2M56 87h4M67 87h2M77 87h2M116 87h2M139 87h2M31 88h2M51 88h8M76 88h2M98 88h2M107 88h2M19 89h2M35 89h3M40 89h2M44 89h2M57 89h2M66 89h2M82 89h2M88 89h5M104 89h2M114 89h2M41 90h2M46 90h2M53 90h2M81 90h2M84 90h3M100 90h2M142 90h2M36 91h3M40 91h2M51 91h2M55 91h2M63 91h4M68 91h2M87 91h2M95 91h2M107 91h2M112 91h2M121 91h2M128 91h2M32 92h2M36 92h2M40 92h2M46 92h2M55 92h2M60 92h2M63 92h2M66 92h2M69 92h2M80 92h2M87 92h3M96 92h2M100 92h2M35 93h3M44 93h2M54 93h2M65 93h2M77 93h3M86 93h2M93 93h2M102 93h2M123 93h2M28 94h2M37 94h2M71 94h2M83 94h4M98 94h2M108 94h2M33 95h2M37 95h2M42 95h2M47 95h2M52 95h2M62 95h2M65 95h2M87 95h2M97 95h2M31 96h2M62 96h2M68 96h2M90 96h3M34 97h2M42 97h4M58 97h2M64 97h2M69 97h2M77 97h2M92 97h2M100 97h2M118 97h2M39 98h2M43 98h2M48 98h3M53 98h2M65 98h2M72 98h2M75 98h5M99 98h2M102 98h2M39 99h4M44 99h3M73 99h2M90 99h2M110 99h2M122 99h2M20 100h2M30 100h2M33 100h2M43 100h3M51 100h2M55 100h2M59 100h2M62 100h3M80 100h2M90 100h2M97 100h2M14 101h2M19 101h2M38 101h2M42 101h4M48 101h2M55 101h2M71 101h2M79 101h2M91 101h2M96 101h2M104 101h2M110 101h2M142 101h2M26 102h2M29 102h2M46 102h4M54 102h2M58 102h2M61 102h3M66 102h2M79 102h2M92 102h2M96 102h2M107 102h2M111 102h2M114 102h2M155 102h2M38 103h2M41 103h2M50 103h2M56 103h2M63 103h3M67 103h2M77 103h4M88 103h2M91 103h2M99 103h3M124 103h2M17 104h2M26 104h2M31 104h2M44 104h4M62 104h2M66 104h2M69 104h2M76 104h2M80 104h2M95 104h2M127 104h2M20 105h2M26 105h2M50 105h6M69 105h2M75 105h2M85 105h2M91 105h2M97 105h2M101 105h2M110 105h2M141 105h2M12 106h3M28 106h2M38 106h2M42 106h2M46 106h3M53 106h2M66 106h2M72 106h2M76 106h3M83 106h2M100 106h3M109 106h2M115 106h2M123 106h2M14 107h2M28 107h2M32 107h3M39 107h3M47 107h2M56 107h4M65 107h2M71 107h2M76 107h4M81 107h2M85 107h2M89 107h2M94 107h2M102 107h2M127 107h2M15 108h3M24 108h3M28 108h2M34 108h2M41 108h3M47 108h9M58 108h2M67 108h3M73 108h2M78 108h2M88 108h2M99 108h2M104 108h2M109 108h2M20 109h2M25 109h2M37 109h7M50 109h2M58 109h2M63 109h5M74 109h2M98 109h2M17 110h2M44 110h2M48 110h5M58 110h2M75 110h4M83 110h4M93 110h2M96 110h2M100 110h2M111 110h2M115 110h2M123 110h2M142 110h2M16 111h2M31 111h4M36 111h2M40 111h2M50 111h2M53 111h4M63 111h3M67 111h4M73 111h2M81 111h2M84 111h2M90 111h2M96 111h2M104 111h2M107 111h2M21 112h2M43 112h2M46 112h4M56 112h2M61 112h2M65 112h2M75 112h2M88 112h2M96 112h2M106 112h2M130 112h2M13 113h2M27 113h2M44 113h2M49 113h4M54 113h2M58 113h2M63 113h4M68 113h2M84 113h2M90 113h2M111 113h2M122 113h2M129 113h2M31 114h3M35 114h2M40 114h2M46 114h2M51 114h8M69 114h6M76 114h2M83 114h2M92 114h4M20 115h4M33 115h4M40 115h2M70 115h2M75 115h2M86 115h2M93 115h2M108 115h2M122 115h2M18 116h2M27 116h2M34 116h2M39 116h4M47 116h3M53 116h2M59 116h4M72 116h2M76 116h3M80 116h3M84 116h2M87 116h2M90 116h2M98 116h2M106 116h2M127 116h2M13 117h2M18 117h2M24 117h2M32 117h3M37 117h2M40 117h2M44 117h2M56 117h2M59 117h2M62 117h7M71 117h2M83 117h4M91 117h4M105 117h2M139 117h2M144 117h2M19 118h6M27 118h2M39 118h5M46 118h2M55 118h2M58 118h2M61 118h2M65 118h2M71 118h3M83 118h2M93 118h2M96 118h4M103 118h2M106 118h2M149 118h2M13 119h2M26 119h2M31 119h2M39 119h6M46 119h2M52 119h2M57 119h4M62 119h3M74 119h2M81 119h10M92 119h2M101 119h2M108 119h2M111 119h2M114 119h2M130 119h2M20 120h2M24 120h3M31 120h2M39 120h4M45 120h2M55 120h2M58 120h3M64 120h3M81 120h2M84 120h3M96 120h2M125 120h2M168 120h2M14 121h2M21 121h2M32 121h2M42 121h3M47 121h2M50 121h2M54 121h2M58 121h2M62 121h2M68 121h2M74 121h2M79 121h2M84 121h2M88 121h2M97 121h2M102 121h2M109 121h2M128 121h3M27 122h2M38 122h2M47 122h2M54 122h2M58 122h2M61 122h2M71 122h7M92 122h3M99 122h2M104 122h2M112 122h2M9 123h2M18 123h2M25 123h3M30 123h4M35 123h2M40 123h5M49 123h2M54 123h4M61 123h2M69 123h2M73 123h2M83 123h2M87 123h2M96 123h2M102 123h2M110 123h2M116 123h2M18 124h2M21 124h4M27 124h3M36 124h2M44 124h2M47 124h4M54 124h4M66 124h2M71 124h2M76 124h3M84 124h3M88 124h2M94 124h2M102 124h2M8 125h2M13 125h2M17 125h2M24 125h2M31 125h5M39 125h3M44 125h2M47 125h2M51 125h3M55 125h2M60 125h2M63 125h2M68 125h6M75 125h2M81 125h2M86 125h2M90 125h2M99 125h2M108 125h2M13 126h2M23 126h4M31 126h2M34 126h2M37 126h14M52 126h4M69 126h2M74 126h2M108 126h2M8 127h2M14 127h2M28 127h12M46 127h5M53 127h7M61 127h2M65 127h3M70 127h2M74 127h2M77 127h2M86 127h2M89 127h4M94 127h2M103 127h2M18 128h2M21 128h3M25 128h2M28 128h2M33 128h9M43 128h2M49 128h6M59 128h4M64 128h2M69 128h2M73 128h2M93 128h2M99 128h2M108 128h2M118 128h2M20 129h6M35 129h2M39 129h9M53 129h2M56 129h2M62 129h2M68 129h2M91 129h2M95 129h2M98 129h2M125 129h2M12 130h3M20 130h2M26 130h2M29 130h2M34 130h6M47 130h2M50 130h2M56 130h3M63 130h3M72 130h2M75 130h4M99 130h2M103 130h2M111 130h2M133 130h2M20 131h4M25 131h2M33 131h10M49 131h2M69 131h2M78 131h2M81 131h5M87 131h2M94 131h2M107 131h2M14 132h2M19 132h4M24 132h3M30 132h2M36 132h2M39 132h4M45 132h2M54 132h2M59 132h9M72 132h2M80 132h2M89 132h2M92 132h2M102 132h2M119 132h2M18 133h5M24 133h5M30 133h9M40 133h8M49 133h2M53 133h4M67 133h3M72 133h2M80 133h2M83 133h3M90 133h2M94 133h4M103 133h3M107 133h2M111 133h2M128 133h2M131 133h2M19 134h6M28 134h7M37 134h5M46 134h2M49 134h3M57 134h4M62 134h5M69 134h2M74 134h2M94 134h2M101 134h2M119 134h2M129 134h2M145 134h2M13 135h2M19 135h13M34 135h3M38 135h2M44 135h12M58 135h2M62 135h4M68 135h2M73 135h2M77 135h2M82 135h4M97 135h2M103 135h4M108 135h2M139 135h2M7 136h2M18 136h8M28 136h9M39 136h6M46 136h5M52 136h2M55 136h14M70 136h2M73 136h2M76 136h2M80 136h4M96 136h2M107 136h2M110 136h3M115 136h2M118 136h2M122 136h2M12 137h5M18 137h9M29 137h14M45 137h7M54 137h3M62 137h6M71 137h3M77 137h3M85 137h4M104 137h3M113 137h2M116 137h2M124 137h2M20 138h8M29 138h17M58 138h6M71 138h3M75 138h3M85 138h2M97 138h2M112 138h8M134 138h2M16 139h11M28 139h9M38 139h4M43 139h6M54 139h2M58 139h3M62 139h2M71 139h3M75 139h2M79 139h5M92 139h2M103 139h2M14 140h2M18 140h9M28 140h15M44 140h8M54 140h3M58 140h2M61 140h5M67 140h4M79 140h2M92 140h2M97 140h2M102 140h2M106 140h2M16 141h4M21 141h2M24 141h17M43 141h2M48 141h7M62 141h2M65 141h2M71 141h2M74 141h2M83 141h5M102 141h2M108 141h3M114 141h2M7 142h2M12 142h2M20 142h26M47 142h2M54 142h4M63 142h3M67 142h2M70 142h3M74 142h2M79 142h2M82 142h2M95 142h2M98 142h3M106 142h6M16 143h2M19 143h19M39 143h8M49 143h4M58 143h2M62 143h8M75 143h2M78 143h2M86 143h2M96 143h2M103 143h2M139 143h2M13 144h5M21 144h8M32 144h4M37 144h8M46 144h5M54 144h5M61 144h4M70 144h2M75 144h2M84 144h2M87 144h3M94 144h2M101 144h2M104 144h2M112 144h2M131 144h2M134 144h2M14 145h9M24 145h7M32 145h10M43 145h6M51 145h2M54 145h4M67 145h2M70 145h5M76 145h2M80 145h2M86 145h2M90 145h2M95 145h4M107 145h2M7 146h2M13 146h3M17 146h34M53 146h3M58 146h2M61 146h3M68 146h2M71 146h2M74 146h2M78 146h2M83 146h2M86 146h3M93 146h3M98 146h5M107 146h2M110 146h2M128 146h2M13 147h36M50 147h7M58 147h9M71 147h2M80 147h2M84 147h2M91 147h3M101 147h2M108 147h2M120 147h2M18 148h23M43 148h4M48 148h9M58 148h2M61 148h2M65 148h3M69 148h2M75 148h3M79 148h4M84 148h2M95 148h4M100 148h2M103 148h2M108 148h5M120 148h2M127 148h2M14 149h2M18 149h30M49 149h20M72 149h3M78 149h2M85 149h2M96 149h8M105 149h2M113 149h2M124 149h2M13 150h38M55 150h6M63 150h5M69 150h5M76 150h2M92 150h2M100 150h2M106 150h2M109 150h2M129 150h2M14 151h34M50 151h6M57 151h2M61 151h4M67 151h6M74 151h4M82 151h3M86 151h4M91 151h2M95 151h4M103 151h2M110 151h2M7 152h5M13 152h51M66 152h6M84 152h3M94 152h2M99 152h5M105 152h2M110 152h2M117 152h2M12 153h29M42 153h2M45 153h22M76 153h2M79 153h2M84 153h2M89 153h2M93 153h2M99 153h4M111 153h2M124 153h2M156 153h2M7 154h2M12 154h39M52 154h8M61 154h19M89 154h4M97 154h2M112 154h2M116 154h3M132 154h2M167 154h2M11 155h2M14 155h29M44 155h3M48 155h12M61 155h6M74 155h8M87 155h2M90 155h2M99 155h2M106 155h2M110 155h2M8 156h2M12 156h46M59 156h2M62 156h4M71 156h10M86 156h2M91 156h2M94 156h2M100 156h5M108 156h2M114 156h5M13 157h45M59 157h4M65 157h4M71 157h5M78 157h5M85 157h2M94 157h2M100 157h3M108 157h3M9 158h2M12 158h54M67 158h5M75 158h4M86 158h2M89 158h4M99 158h3M107 158h2M12 159h47M60 159h3M64 159h6M71 159h2M79 159h2M82 159h5M88 159h2M94 159h2M100 159h3M108 159h2M116 159h2M152 159h2M166 159h2M12 160h50M65 160h4M74 160h5M80 160h5M86 160h5M93 160h4M100 160h4M111 160h4M117 160h2M12 161h62M75 161h2M79 161h5M90 161h4M96 161h2M104 161h4M138 161h2M150 161h2M10 162h61M76 162h11M89 162h3M95 162h2M98 162h2M102 162h2M109 162h4M135 162h2M138 162h2M7 163h2M12 163h59M72 163h17M95 163h2M100 163h2M105 163h2M122 163h2M127 163h2M139 163h2M142 163h3M10 164h50M61 164h18M80 164h15M98 164h2M106 164h4M111 164h2M115 164h4M123 164h3M137 164h3M141 164h2M12 165h57M70 165h5M76 165h9M86 165h2M89 165h2M93 165h4M102 165h2M105 165h4M114 165h2M119 165h4M128 165h2M142 165h2M153 165h2M12 166h62M75 166h3M79 166h4M85 166h2M88 166h5M94 166h2M98 166h4M104 166h2M112 166h4M122 166h2M134 166h2M152 166h2M156 166h2M168 166h2M8 167h67M76 167h14M91 167h10M104 167h6M111 167h2M114 167h2M118 167h6M128 167h2M135 167h2M143 167h2M9 168h2M12 168h88M101 168h7M109 168h4M117 168h5M126 168h4M132 168h2M138 168h2M154 168h2M164 168h2M10 169h100M113 169h2M117 169h5M123 169h2M130 169h2M134 169h2M152 169h2M12 170h94M111 170h2M115 170h9M126 170h2M133 170h2M136 170h4M150 170h2M19 171h2M32 171h2M43 171h2M57 171h2" stroke="#6495ED" stroke-width="2" fill="none"/><path d="M17.9 322.7L22.9 328.8L27.9 334.7L32.9 339.1L37.9 341.6L42.9 342.6L47.9 342.7L52.9 341.6L57.9 340.5L62.9 337.8L67.9 334L72.9 330.3L77.9 326.6L82.9 322.3L87.9 317.8L92.8 313.3L97.8 308.8L102.8 305.3L107.8 302.3L112.8 299.3L117.8 296.3L122.8 294L127.8 292L132.8 290L137.8 288L142.8 286.3L147.8 284.8L152.8 283.3L157.8 281.8L162.8 280.7L167.8 279.7L172.8 278.7L177.8 277.7L182.7 276.9L187.7 276.1L192.7 275.4L197.7 274.6L202.7 274.1L207.7 273.8L212.7 273.5L217.7 273.1L222.7 273.1L227.7 273.2L232.7 273.3L237.7 273.4L242.7 273.9L247.7 274.7L252.7 275.4L257.7 276L262.7 276.1L267.7 276.2L272.6 276.3L277.6 276.3L282.6 276.7L287.6 277.3L292.6 277.8L297.6 278.3L302.6 278.9L307.6 279.6L312.6 280.4L317.6 281.1L322.6 281.9L327.6 282.9L332.6 283.8L337.6 284.7L342.6 285.6L347.6 286.6L352.6 287.5L357.6 288.4L362.5 289.3L362.5 346.1L357.6 342.5L352.6 338.8L347.6 335.2L342.6 331.5L337.6 327.9L332.6 324.3L327.6 320.7L322.6 317.2L317.6 313.7L312.6 310.4L307.6 307.1L302.6 303.8L297.6 300.6L292.6 297.6L287.6 294.6L282.6 291.6L277.6 288.8L272.6 286.4L267.7 284L262.7 281.6L257.7 279.4L252.7 278.4L247.7 277.7L242.7 276.9L237.7 276.4L232.7 276.3L227.7 276.2L222.7 276.1L217.7 276.1L212.7 276.5L207.7 276.8L202.7 277.1L197.7 277.6L192.7 278.4L187.7 279.1L182.7 279.9L177.8 280.7L172.8 281.7L167.8 282.7L162.8 283.7L157.8 284.8L152.8 286.3L147.8 287.8L142.8 289.3L137.8 291L132.8 293L127.8 295L122.8 297L117.8 299.3L112.8 302.3L107.8 305.3L102.8 308.3L97.8 311.8L92.8 316.3L87.9 320.8L82.9 325.3L77.9 329.6L72.9 333.3L67.9 337L62.9 340.8L57.9 343.5L52.9 344.6L47.9 345.7L42.9 345.6L37.9 344.6L32.9 345.3L27.9 345.9L22.9 345.2L17.9 344.6Z" fill="#999" fill-opacity=".4"/><path d="M17.9 333.7C19.9 335 25.2 339.8 29.9 341.6C34.5 343.5 40.8 344.6 45.8 344.6C50.8 344.6 54.1 344.6 59.8 341.6C65.4 338.6 73 332.2 79.7 326.7C86.3 321.2 93 313.7 99.6 308.8C106.2 303.8 112.9 300.1 119.5 296.8C126.2 293.5 132.8 291.2 139.4 288.8C146.1 286.5 152.7 284.5 159.4 282.9C166 281.2 172.6 280 179.3 278.9C185.9 277.7 192.6 276.6 199.2 275.9C205.8 275.2 212.5 274.7 219.1 274.5C225.8 274.3 232.4 274.3 239 274.9C245.7 275.5 252.3 276.6 259 277.9C265.6 279.2 272.2 280.9 278.9 282.9C285.5 284.9 292.2 287.4 298.8 289.8C305.4 292.3 312.1 295 318.7 297.8C325.4 300.6 331.3 303.5 338.6 306.8C345.9 310.1 358.6 315.9 362.5 317.7" stroke="#000" stroke-width="8.9" fill="none" stroke-linejoin="round"/></g></g><g clip-path="url(#c42)"><rect x="886.9" y="1700.6" width="379.4" height="383.5" fill="#EBEBEB"/><path d="M948.7 1700.6V2084.1M1044.1 1700.6V2084.1M1139.5 1700.6V2084.1M1234.9 1700.6V2084.1M886.9 2022H1266.3M886.9 1929.1H1266.3M886.9 1836.2H1266.3M886.9 1743.3H1266.3" stroke="#fff" stroke-width="2.2" fill="none"/><path d="M901 1700.6V2084.1M996.4 1700.6V2084.1M1091.8 1700.6V2084.1M1187.2 1700.6V2084.1M886.9 2068.4H1266.3M886.9 1975.5H1266.3M886.9 1882.7H1266.3M886.9 1789.8H1266.3" stroke="#fff" stroke-width="4.4" fill="none"/><g transform="translate(886.9 1700.6)"><path transform="scale(2.15)" d="M61 12h2M138 14h2M124 15h2M144 15h2M71 16h2M99 16h2M118 16h2M155 16h4M79 17h2M106 17h2M130 17h2M126 18h2M155 18h2M94 19h2M84 20h2M103 20h2M115 20h2M121 20h2M88 21h2M116 21h2M89 22h2M123 22h2M130 22h2M134 22h4M153 22h2M118 23h2M154 23h2M71 24h2M107 24h2M117 24h2M157 24h2M94 25h2M110 25h2M120 25h2M138 25h2M141 25h2M79 26h2M95 26h2M104 26h3M115 26h3M130 26h2M139 26h2M156 26h3M107 27h3M115 27h2M70 28h2M107 28h2M93 29h2M120 29h2M116 30h2M124 30h2M158 30h2M98 31h2M109 31h2M128 31h4M155 31h2M79 32h2M96 32h5M108 32h2M114 32h2M123 32h2M157 32h2M95 33h2M113 33h2M79 34h2M88 34h2M95 34h2M99 34h2M103 34h2M108 34h2M156 34h2M79 35h2M85 35h2M89 35h2M96 35h2M101 35h2M108 35h2M116 35h2M127 35h2M78 36h2M83 36h3M94 36h3M105 36h2M158 36h2M94 37h2M105 37h4M110 37h6M141 37h2M76 38h4M101 38h2M114 38h2M124 38h2M127 38h2M72 39h2M84 39h2M87 39h4M94 39h2M106 39h2M62 40h2M71 40h2M85 40h2M98 40h5M115 40h2M40 41h2M100 41h2M107 41h2M70 42h2M77 42h4M84 42h2M94 42h2M98 42h4M116 42h2M70 43h2M79 43h2M92 43h3M99 43h3M113 43h2M67 44h2M72 44h3M97 44h3M119 44h3M62 45h2M66 45h2M70 45h2M83 45h2M86 45h2M92 45h2M97 45h2M108 45h2M118 45h2M129 45h2M72 46h2M82 46h2M92 46h3M96 46h2M46 47h2M57 47h2M68 47h2M76 47h2M87 47h2M96 47h2M99 47h2M61 48h4M68 48h2M75 48h4M82 48h2M85 48h3M109 48h3M122 48h2M63 49h2M69 49h3M80 49h3M96 49h2M62 50h3M74 50h4M80 50h2M87 50h2M114 50h2M117 50h2M78 51h2M82 51h3M86 51h2M104 51h4M109 51h2M120 51h2M67 52h2M79 52h5M86 52h2M89 52h2M99 52h2M107 52h2M113 52h2M55 53h2M67 53h2M78 53h2M87 53h2M104 53h2M108 53h2M55 54h2M76 54h2M82 54h2M96 54h3M102 54h2M107 54h2M120 54h2M47 55h2M52 55h2M65 55h4M77 55h2M80 55h2M84 55h2M87 55h2M93 55h2M101 55h2M106 55h2M32 56h2M68 56h2M77 56h2M94 56h2M103 56h4M108 56h4M42 57h2M54 57h2M70 57h5M78 57h4M86 57h2M92 57h2M103 57h2M108 57h2M51 58h4M58 58h3M64 58h2M74 58h3M100 58h2M104 58h4M38 59h2M42 59h2M50 59h3M57 59h2M65 59h2M73 59h3M78 59h5M88 59h4M115 59h2M60 60h2M71 60h2M80 60h2M90 60h3M41 61h2M80 61h2M87 61h2M95 61h2M103 61h2M54 62h3M61 62h2M66 62h2M87 62h3M98 62h2M117 62h2M35 63h2M64 63h4M75 63h2M80 63h2M104 63h2M49 64h2M59 64h2M63 64h2M67 64h3M73 64h7M97 64h2M59 65h3M64 65h2M39 66h2M60 66h2M67 66h2M71 66h2M84 66h2M101 66h2M40 67h4M67 67h3M72 67h2M85 67h3M91 67h2M95 67h2M63 68h2M66 68h4M75 68h4M81 68h2M85 68h2M91 68h2M51 69h2M74 69h5M90 69h2M95 69h2M118 69h2M18 70h2M36 70h2M48 70h2M65 70h2M79 70h2M99 70h3M35 71h2M43 71h4M51 71h2M54 71h2M60 71h2M63 71h2M71 71h8M47 72h2M52 72h2M56 72h3M66 72h2M77 72h3M101 72h2M26 73h2M41 73h2M47 73h4M60 73h2M64 73h4M73 73h5M85 73h4M91 73h2M100 73h2M54 74h6M62 74h2M67 74h7M75 74h2M26 75h2M34 75h2M47 75h2M56 75h2M59 75h2M63 75h4M69 75h3M73 75h2M78 75h2M29 76h2M52 76h6M61 76h2M64 76h2M71 76h3M75 76h2M84 76h2M27 77h2M33 77h2M48 77h2M52 77h2M55 77h5M71 77h2M74 77h2M81 77h2M87 77h2M91 77h2M46 78h2M49 78h2M54 78h2M58 78h4M71 78h2M87 78h2M19 79h2M27 79h2M40 79h5M60 79h2M67 79h2M74 79h2M40 80h4M55 80h2M69 80h8M78 80h2M83 80h2M89 80h2M27 81h2M36 81h2M39 81h2M47 81h2M52 81h2M67 81h2M75 81h2M41 82h2M46 82h6M58 82h6M73 82h2M28 83h2M47 83h2M53 83h2M59 83h2M62 83h2M66 83h3M70 83h4M79 83h2M26 84h2M37 84h3M48 84h2M52 84h2M57 84h2M63 84h2M67 84h5M74 84h2M78 84h2M92 84h4M38 85h2M41 85h2M45 85h5M51 85h2M56 85h2M62 85h6M74 85h4M39 86h2M44 86h2M47 86h8M60 86h2M64 86h3M69 86h3M74 86h2M78 86h2M89 86h2M27 87h2M38 87h2M47 87h5M58 87h2M62 87h2M70 87h2M75 87h2M17 88h2M22 88h2M27 88h2M34 88h2M45 88h2M53 88h4M61 88h2M65 88h5M71 88h2M75 88h2M32 89h2M35 89h2M39 89h2M42 89h2M46 89h2M51 89h3M57 89h2M60 89h5M66 89h4M72 89h2M78 89h2M30 90h3M41 90h6M48 90h2M52 90h3M60 90h3M71 90h2M74 90h3M33 91h2M37 91h2M41 91h6M48 91h2M51 91h2M54 91h2M63 91h3M74 91h2M21 92h2M34 92h2M43 92h2M53 92h4M60 92h2M67 92h4M76 92h2M80 92h2M19 93h2M30 93h2M35 93h6M43 93h3M48 93h6M58 93h4M64 93h4M36 94h3M40 94h2M44 94h6M53 94h3M63 94h5M79 94h2M31 95h2M34 95h2M37 95h2M40 95h2M46 95h2M51 95h2M61 95h2M66 95h5M74 95h2M18 96h2M22 96h2M25 96h2M29 96h2M38 96h3M44 96h2M47 96h3M51 96h8M60 96h4M66 96h3M96 96h2M18 97h2M26 97h2M33 97h2M38 97h2M42 97h5M48 97h2M53 97h2M58 97h2M62 97h2M65 97h2M69 97h4M81 97h2M87 97h2M22 98h3M29 98h2M40 98h5M47 98h3M56 98h2M59 98h2M65 98h2M68 98h2M78 98h2M85 98h2M17 99h2M29 99h8M40 99h2M44 99h10M60 99h4M70 99h2M76 99h2M84 99h2M95 99h2M17 100h2M29 100h2M32 100h2M37 100h2M41 100h8M50 100h6M57 100h4M71 100h2M18 101h4M23 101h2M28 101h5M35 101h6M48 101h8M58 101h5M64 101h4M72 101h2M88 101h2M14 102h2M25 102h2M28 102h6M37 102h5M45 102h4M50 102h4M56 102h2M59 102h2M64 102h4M23 103h2M42 103h2M45 103h2M48 103h6M56 103h3M60 103h2M66 103h3M74 103h2M92 103h2M15 104h2M18 104h4M29 104h5M35 104h3M40 104h2M45 104h2M50 104h2M53 104h3M58 104h4M75 104h4M19 105h2M26 105h2M31 105h2M34 105h15M50 105h3M55 105h4M60 105h2M77 105h2M18 106h4M23 106h3M29 106h3M35 106h2M39 106h2M47 106h3M51 106h3M58 106h5M70 106h2M73 106h2M15 107h4M22 107h2M27 107h4M33 107h3M37 107h2M40 107h3M44 107h2M49 107h4M55 107h6M76 107h4M19 108h2M25 108h2M31 108h2M38 108h2M43 108h4M49 108h3M53 108h6M60 108h2M63 108h2M77 108h2M24 109h8M35 109h2M41 109h2M45 109h4M52 109h2M57 109h2M62 109h2M69 109h2M12 110h3M20 110h2M24 110h2M29 110h5M35 110h3M39 110h2M44 110h6M54 110h3M61 110h2M65 110h2M15 111h5M22 111h5M33 111h2M36 111h2M39 111h6M51 111h3M56 111h2M68 111h2M16 112h2M23 112h3M27 112h3M32 112h5M40 112h6M49 112h4M70 112h2M16 113h3M22 113h4M30 113h8M47 113h5M53 113h3M70 113h2M15 114h2M21 114h2M31 114h5M38 114h2M41 114h5M50 114h2M55 114h4M17 115h2M20 115h2M23 115h3M27 115h4M33 115h2M36 115h6M43 115h9M53 115h2M13 116h11M25 116h2M28 116h2M31 116h2M38 116h2M43 116h2M47 116h2M51 116h2M55 116h4M69 116h2M12 117h4M18 117h6M28 117h4M33 117h5M40 117h2M44 117h3M49 117h4M56 117h3M13 118h3M18 118h2M21 118h3M27 118h2M32 118h2M35 118h3M39 118h7M47 118h2M51 118h2M56 118h3M70 118h2M12 119h2M15 119h22M38 119h2M42 119h4M47 119h3M52 119h4M67 119h2M14 120h6M22 120h5M29 120h11M41 120h3M58 120h2M12 121h2M16 121h13M30 121h11M42 121h2M45 121h6M59 121h3M13 122h24M40 122h8M53 122h3M13 123h4M19 123h9M33 123h5M40 123h6M48 123h3M13 124h13M28 124h8M37 124h2M40 124h4M45 124h2M48 124h2M11 125h7M19 125h10M30 125h9M42 125h3M46 125h3M11 126h8M21 126h2M24 126h2M27 126h9M38 126h7M49 126h2M52 126h2M71 126h2M9 127h17M28 127h6M35 127h2M38 127h2M41 127h2M45 127h2M48 127h3M53 127h4M9 128h19M29 128h3M34 128h5M41 128h6M10 129h12M23 129h7M31 129h2M34 129h2M39 129h8M52 129h2M56 129h3M11 130h13M25 130h10M37 130h8M47 130h4M54 130h2M11 131h17M31 131h11M43 131h2M46 131h2M8 132h2M11 132h22M34 132h2M37 132h7M47 132h2M52 132h2M10 133h3M14 133h11M26 133h6M35 133h11M9 134h18M28 134h4M33 134h9M54 134h2M8 135h13M22 135h14M37 135h9M50 135h2M54 135h2M62 135h2M8 136h14M23 136h19M49 136h3M8 137h36M50 137h2M9 138h16M26 138h18M9 139h14M24 139h13M38 139h6M57 139h2M8 140h30M39 140h2M42 140h6M8 141h19M28 141h4M33 141h6M41 141h4M54 141h2M8 142h24M33 142h9M43 142h5M9 143h30M41 143h2M9 144h25M35 144h4M40 144h2M8 145h20M32 145h14M8 146h33M47 146h4M8 147h19M28 147h11M8 148h30M40 148h2M43 148h2M7 149h30M39 149h4M46 149h2M8 150h37M8 151h33M45 151h6M8 152h27M36 152h2M43 152h2M8 153h30M41 153h2M8 154h29M39 154h2M42 154h4M8 155h18M28 155h10M39 155h3M7 156h27M49 156h2M7 157h19M28 157h9M39 157h2M8 158h31M40 158h2M7 159h30M7 160h26M40 160h2M7 161h25M36 161h4M8 162h25M38 162h4M46 162h2M7 163h34M44 163h2M7 164h24M34 164h2M38 164h2M7 165h31M40 165h2M47 165h2M7 166h26M38 166h2M41 166h2M7 167h25M35 167h2M8 168h24M36 168h2M7 169h21M29 169h3M34 169h2M8 170h26M11 171h2M17 171h3" stroke="#6495ED" stroke-width="2" fill="none"/><path d="M16.9 356.1L21.9 354.5L27 353L32 350.5L37 346.5L42 342.6L47 337.2L52 330.9L57 324.7L62 316.7L67 306.7L72 296.7L77 286.7L82 276.2L87.1 265.1L92.1 254.1L97.1 243.1L102.1 233.3L107.1 224.8L112.1 216.3L117.1 207.8L122.1 200L127.1 193L132.1 186L137.1 179L142.2 172.5L147.2 166.5L152.2 160.5L157.2 154.5L162.2 148.9L167.2 143.7L172.2 138.4L177.2 133.1L182.2 128.3L187.2 123.8L192.2 119.3L197.3 114.8L202.3 110.6L207.3 106.6L212.3 102.6L217.3 98.6L222.3 95L227.3 91.8L232.3 88.5L237.3 85.3L242.3 82.3L247.3 79.6L252.4 76.8L257.4 74.1L262.4 71.7L267.4 69.4L272.4 66.7L277.4 63.6L282.4 60.8L287.4 58.2L292.4 55.5L297.4 52.9L302.4 50.6L307.5 48.6L312.5 46.5L317.5 44.4L322.5 42.7L327.5 41.1L332.5 39.5L337.5 38L342.5 36.7L347.5 35.5L352.5 34.3L357.5 33.1L362.5 31.9L362.5 69.7L357.5 68.9L352.5 68.1L347.5 67.4L342.5 66.6L337.5 65.9L332.5 65.5L327.5 65.1L322.5 64.8L317.5 64.6L312.5 64.8L307.5 65L302.4 65.2L297.4 65.6L292.4 66.5L287.4 67.3L282.4 68.2L277.4 69.2L272.4 70.7L267.4 72.4L262.4 74.7L257.4 77.1L252.4 79.8L247.3 82.6L242.3 85.3L237.3 88.3L232.3 91.5L227.3 94.8L222.3 98L217.3 101.6L212.3 105.6L207.3 109.6L202.3 113.6L197.3 117.8L192.2 122.3L187.2 126.8L182.2 131.3L177.2 136.1L172.2 141.4L167.2 146.7L162.2 151.9L157.2 157.5L152.2 163.5L147.2 169.5L142.2 175.5L137.1 182L132.1 189L127.1 196L122.1 203L117.1 210.8L112.1 219.3L107.1 227.8L102.1 236.3L97.1 246.1L92.1 257.1L87.1 268.1L82 279.2L77 289.7L72 299.7L67 309.7L62 319.7L57 327.7L52 333.9L47 340.2L42 345.6L37 349.5L32 353.5L27 356L21.9 357.5L16.9 359.1Z" fill="#999" fill-opacity=".4"/><path d="M16.9 357.6C19.1 356.9 25.4 356.1 29.9 353.6C34.4 351.1 38.8 347.8 43.8 342.6C48.8 337.5 53.8 332.7 59.8 322.7C65.7 312.7 73 296.8 79.7 282.9C86.3 268.9 93 252 99.6 239C106.2 226.1 112.9 215.5 119.5 205.2C126.2 194.9 132.8 185.9 139.4 177.3C146.1 168.7 152.7 160.9 159.4 153.4C166 145.9 172.6 138.9 179.3 132.5C185.9 126 192.6 120.2 199.2 114.5C205.8 108.9 212.5 103.4 219.1 98.6C225.8 93.8 232.4 89.6 239 85.7C245.7 81.7 252.3 78 259 74.7C265.6 71.4 272.2 68.4 278.9 65.7C285.5 63.1 292.2 60.7 298.8 58.8C305.4 56.8 312.1 55.3 318.7 54.2C325.4 53 331.3 52.4 338.6 51.8C345.9 51.2 358.6 51 362.5 50.8" stroke="#000" stroke-width="8.9" fill="none" stroke-linejoin="round"/></g></g><g clip-path="url(#c43)"><rect x="1289.3" y="1700.6" width="379.4" height="383.5" fill="#EBEBEB"/><path d="M1353.2 1700.6V2084.1M1447.1 1700.6V2084.1M1541 1700.6V2084.1M1634.9 1700.6V2084.1M1289.3 2022H1668.7M1289.3 1929.1H1668.7M1289.3 1836.2H1668.7M1289.3 1743.3H1668.7" stroke="#fff" stroke-width="2.2" fill="none"/><path d="M1306.2 1700.6V2084.1M1400.1 1700.6V2084.1M1494 1700.6V2084.1M1587.9 1700.6V2084.1M1289.3 2068.4H1668.7M1289.3 1975.5H1668.7M1289.3 1882.7H1668.7M1289.3 1789.8H1668.7" stroke="#fff" stroke-width="4.4" fill="none"/><g transform="translate(1289.3 1700.6)"><path transform="scale(2.15)" d="M20 10h2M29 10h2M26 12h2M9 15h2M13 15h2M18 17h2M28 18h2M7 19h2M43 21h2M7 22h2M23 23h2M32 23h2M7 24h2M7 25h2M10 25h2M8 28h2M13 28h2M20 28h2M7 29h3M15 29h2M19 30h2M40 30h2M32 31h2M7 32h2M7 33h2M43 33h2M36 38h2M12 39h2M10 40h2M26 40h2M43 40h2M7 41h4M23 41h2M12 42h2M15 42h2M22 42h2M7 44h2M10 44h2M7 45h2M9 46h2M16 46h2M26 46h2M7 48h2M19 48h2M27 48h2M9 50h2M34 50h2M7 51h2M14 51h2M7 52h2M28 52h2M21 54h2M12 55h2M20 56h2M7 57h2M24 57h2M28 57h2M7 58h2M19 58h4M14 59h2M7 60h4M7 61h2M10 61h2M14 62h2M22 62h3M28 62h2M9 63h2M12 63h2M7 64h4M14 64h2M18 64h4M43 64h2M53 64h2M7 65h2M13 65h2M26 65h2M8 66h2M19 66h4M7 67h2M15 67h2M32 67h2M36 67h2M14 68h2M30 68h3M7 69h2M15 69h2M37 69h2M7 70h2M17 70h2M25 70h2M7 71h2M49 71h2M7 72h2M12 72h2M15 72h2M7 73h2M18 73h2M26 73h2M7 74h2M15 74h2M22 74h2M7 75h4M17 75h2M7 76h3M13 76h2M24 76h2M34 76h2M12 77h2M19 77h2M62 77h2M7 78h7M17 78h2M28 78h2M7 79h3M31 79h3M35 79h2M7 80h3M12 80h2M51 80h2M7 81h3M22 81h2M35 81h2M41 81h2M7 82h2M11 82h3M24 82h2M7 83h4M12 83h2M26 83h2M42 83h2M7 84h2M40 84h2M7 85h2M16 85h6M7 86h2M11 86h2M33 86h2M41 86h2M56 86h2M7 87h2M17 87h2M20 87h2M7 88h2M17 88h3M25 88h3M46 88h2M7 89h2M12 89h3M19 89h2M22 89h2M7 90h2M20 90h2M34 90h2M7 91h4M17 91h2M20 91h2M32 91h2M45 91h2M7 92h5M16 92h3M7 93h3M11 93h2M15 93h2M7 94h3M14 94h4M21 94h2M43 94h2M47 94h2M7 95h2M11 95h2M30 95h2M7 96h5M17 96h2M23 96h2M7 97h3M15 97h2M29 97h2M38 97h2M7 98h6M15 98h6M24 98h4M7 99h5M14 99h2M24 99h2M29 99h2M7 100h4M17 100h2M33 100h2M52 100h2M7 101h2M16 101h2M21 101h2M7 102h4M14 102h8M26 102h2M33 102h2M41 102h2M7 103h2M16 103h4M40 103h2M7 104h3M20 104h2M28 104h2M41 104h2M7 105h4M14 105h2M17 105h2M20 105h3M40 105h2M7 106h4M12 106h2M16 106h2M19 106h2M22 106h3M27 106h4M33 106h2M7 107h6M14 107h3M21 107h2M26 107h3M7 108h2M10 108h2M17 108h2M20 108h6M28 108h3M36 108h3M44 108h2M7 109h3M13 109h3M26 109h2M43 109h2M7 110h6M18 110h2M25 110h5M7 111h4M15 111h2M18 111h5M26 111h2M41 111h2M7 112h6M16 112h3M25 112h3M36 112h2M7 113h9M19 113h3M26 113h3M32 113h2M39 113h2M7 114h8M17 114h2M20 114h2M23 114h8M34 114h2M46 114h2M7 115h4M12 115h2M22 115h3M30 115h2M33 115h2M41 115h2M73 115h2M7 116h4M14 116h4M24 116h4M29 116h2M35 116h2M39 116h2M7 117h4M17 117h2M20 117h2M31 117h2M7 118h5M15 118h5M23 118h4M43 118h2M7 119h6M16 119h2M23 119h2M30 119h2M36 119h2M44 119h2M7 120h4M14 120h3M23 120h6M46 120h2M77 120h2M7 121h4M14 121h7M33 121h2M36 121h2M7 122h4M13 122h5M19 122h2M23 122h2M26 122h2M31 122h4M45 122h3M85 122h2M7 123h6M14 123h3M19 123h2M23 123h2M32 123h2M41 123h2M44 123h4M58 123h2M7 124h5M15 124h2M21 124h2M24 124h4M32 124h3M36 124h2M41 124h2M59 124h2M66 124h2M7 125h13M25 125h3M29 125h2M32 125h2M36 125h2M39 125h2M47 125h2M62 125h2M7 126h10M24 126h2M29 126h2M35 126h2M49 126h2M7 127h6M14 127h6M21 127h4M30 127h2M66 127h2M7 128h5M14 128h2M22 128h6M35 128h2M63 128h2M7 129h4M12 129h5M18 129h2M21 129h2M35 129h2M7 130h12M20 130h3M24 130h2M28 130h3M33 130h2M40 130h2M50 130h2M7 131h6M15 131h11M28 131h7M36 131h2M40 131h2M46 131h2M7 132h13M23 132h3M29 132h2M32 132h2M39 132h2M54 132h2M7 133h18M28 133h3M33 133h6M7 134h5M14 134h7M25 134h3M29 134h2M7 135h15M23 135h2M28 135h2M35 135h2M45 135h3M51 135h2M7 136h11M24 136h4M34 136h3M7 137h10M18 137h6M25 137h2M28 137h3M39 137h2M43 137h2M7 138h18M26 138h3M31 138h5M37 138h2M41 138h2M68 138h2M7 139h13M22 139h7M30 139h3M38 139h2M41 139h2M7 140h4M13 140h5M19 140h8M30 140h8M39 140h2M43 140h2M55 140h2M64 140h2M7 141h15M27 141h4M42 141h2M46 141h2M52 141h2M7 142h11M19 142h2M22 142h5M29 142h4M35 142h6M44 142h4M54 142h2M7 143h7M15 143h3M20 143h10M32 143h15M50 143h3M7 144h17M25 144h6M45 144h2M95 144h2M7 145h25M35 145h9M69 145h2M7 146h27M36 146h3M41 146h2M49 146h2M58 146h2M7 147h11M19 147h17M38 147h2M41 147h2M48 147h2M64 147h2M7 148h21M29 148h5M35 148h4M45 148h2M65 148h2M71 148h2M7 149h28M38 149h2M42 149h2M48 149h2M69 149h2M7 150h32M40 150h3M44 150h2M59 150h2M7 151h21M29 151h11M41 151h3M45 151h2M49 151h8M105 151h2M7 152h32M42 152h7M80 152h2M114 152h2M7 153h18M26 153h18M45 153h4M7 154h26M35 154h4M42 154h3M47 154h3M58 154h2M71 154h2M81 154h2M7 155h27M35 155h8M46 155h2M49 155h2M56 155h2M73 155h2M7 156h26M35 156h13M62 156h2M72 156h2M84 156h2M7 157h37M46 157h4M58 157h2M69 157h2M7 158h31M39 158h3M43 158h4M48 158h2M53 158h3M66 158h2M69 158h4M76 158h2M89 158h2M109 158h2M7 159h29M37 159h8M47 159h2M57 159h2M60 159h2M67 159h3M77 159h3M81 159h2M103 159h2M109 159h2M7 160h37M46 160h5M56 160h3M64 160h2M70 160h2M76 160h2M83 160h2M113 160h3M120 160h2M7 161h35M45 161h2M50 161h4M55 161h2M70 161h2M74 161h2M80 161h2M104 161h2M112 161h2M7 162h29M37 162h9M48 162h2M52 162h2M56 162h2M59 162h8M68 162h4M76 162h8M87 162h2M7 163h37M46 163h6M54 163h6M61 163h8M70 163h12M87 163h2M94 163h2M100 163h3M117 163h2M7 164h42M50 164h2M53 164h10M65 164h12M78 164h4M87 164h2M117 164h2M7 165h63M71 165h2M75 165h2M82 165h2M7 166h5M14 166h30M45 166h5M51 166h17M70 166h8M98 166h2M7 167h5M13 167h50M64 167h2M68 167h3M73 167h2M82 167h2M120 167h2M9 168h6M17 168h44M78 168h2M7 169h2M12 169h43M56 169h3M62 169h2M76 169h2M8 170h2M13 170h37M51 170h2M55 170h2M58 170h2M31 171h2" stroke="#6495ED" stroke-width="2" fill="none"/><path d="M16.9 290.9L21.9 300.6L27 309.5L32 315.5L37 321L42 324.5L47 327.6L52 329.4L57 331L62 331.8L67 332.7L72 333.4L77 334L82 334.6L87.1 335.2L92.1 335.8L97.1 336.3L102.1 336.8L107.1 337.3L112.1 337.7L117.1 338.1L122.1 338.5L127.1 338.9L132.1 339.3L137.1 339.6L142.2 339.9L147.2 340.2L152.2 340.5L157.2 340.7L162.2 340.7L167.2 340.4L172.2 340L177.2 339.6L182.2 339L187.2 338.4L192.2 337.7L197.3 336.8L202.3 335.9L207.3 334.9L212.3 333.9L217.3 332.8L222.3 331.6L227.3 330.4L232.3 329L237.3 327.7L242.3 326.2L247.3 324.7L252.4 323.1L257.4 321.4L262.4 319.6L267.4 317.8L272.4 315.9L277.4 314L282.4 311.9L287.4 309.9L292.4 307.7L297.4 305.5L302.4 303.2L307.5 300.9L312.5 298.5L317.5 296L322.5 293.5L327.5 291L332.5 288.3L337.5 285.6L342.5 282.9L347.5 280.1L352.5 277.2L357.5 274.3L362.5 271.3L362.5 416.7L357.5 413.8L352.5 411L347.5 408.2L342.5 405.5L337.5 402.8L332.5 400.2L327.5 397.6L322.5 395.1L317.5 392.7L312.5 390.3L307.5 388L302.4 385.7L297.4 383.5L292.4 381.4L287.4 379.3L282.4 377.2L277.4 375.3L272.4 373.3L267.4 371.4L262.4 369.6L257.4 367.9L252.4 366.2L247.3 364.5L242.3 362.9L237.3 361.3L232.3 359.8L227.3 358.3L222.3 356.9L217.3 355.6L212.3 354.3L207.3 353L202.3 351.9L197.3 350.7L192.2 349.7L187.2 348.7L182.2 347.7L177.2 346.7L172.2 345.8L167.2 345L162.2 344.2L157.2 343.7L152.2 343.5L147.2 343.2L142.2 342.9L137.1 342.6L132.1 342.3L127.1 341.9L122.1 341.5L117.1 341.1L112.1 340.7L107.1 340.3L102.1 339.8L97.1 339.3L92.1 338.8L87.1 338.2L82 337.6L77 337L72 336.4L67 335.7L62 334.8L57 334L52 332.4L47 330.6L42 327.5L37 324L32 318.5L27 312.5L21.9 303.6L16.9 293.9Z" fill="#999" fill-opacity=".4"/><path d="M16.9 292.4C18.4 295.3 22.7 304.9 25.9 309.8C29.1 314.6 32.5 318.6 35.9 321.7C39.2 324.9 42.5 326.9 45.8 328.7C49.1 330.4 51.8 331.3 55.8 332.3C59.8 333.3 64.1 333.9 69.7 334.7C75.4 335.5 83 336.3 89.6 337.1C96.3 337.8 102.9 338.4 109.6 339C116.2 339.6 122.8 340.2 129.5 340.6C136.1 341.1 142.8 341.5 149.4 341.8C156 342.2 162.7 342.5 169.3 342.8C176 343.1 180.9 343.4 189.2 343.6C197.5 343.9 209.2 344.1 219.1 344.2C229.1 344.4 239 344.6 249 344.6C259 344.7 268.9 344.7 278.9 344.6C288.8 344.6 298.8 344.5 308.8 344.4C318.7 344.4 329.7 344.3 338.6 344.2C347.6 344.2 358.6 344.1 362.5 344" stroke="#000" stroke-width="8.9" fill="none" stroke-linejoin="round"/></g></g><g clip-path="url(#c44)"><rect x="1691.7" y="1700.6" width="379.4" height="383.5" fill="#EBEBEB"/><path d="M1759 1700.6V2084.1M1847.8 1700.6V2084.1M1936.5 1700.6V2084.1M2025.2 1700.6V2084.1M1691.7 2029.4H2071.1M1691.7 1955.2H2071.1M1691.7 1881H2071.1M1691.7 1806.8H2071.1M1691.7 1732.6H2071.1" stroke="#fff" stroke-width="2.2" fill="none"/><path d="M1714.6 1700.6V2084.1M1803.3 1700.6V2084.1M1892.1 1700.6V2084.1M1980.8 1700.6V2084.1M2069.6 1700.6V2084.1M1691.7 2066.5H2071.1M1691.7 1992.3H2071.1M1691.7 1918.1H2071.1M1691.7 1843.9H2071.1M1691.7 1769.7H2071.1" stroke="#fff" stroke-width="4.4" fill="none"/><path d="M1708.5 2066.5v-108.3h11.5v108.3zM1720 2066.5v-348.6h11.5v348.6zM1731.6 2066.5v-116.5h11.5v116.5zM1743.1 2066.5v-75.7h11.5v75.7zM1754.7 2066.5v-44.4h11.5v44.4zM1766.2 2066.5v-40.6h11.5v40.6zM1777.7 2066.5v-30.2h11.5v30.2zM1789.3 2066.5v-23.4h11.5v23.4zM1800.8 2066.5v-20.6h11.5v20.6zM1812.4 2066.5v-17.9h11.5v17.9zM1823.9 2066.5v-16h11.5v16zM1835.4 2066.5v-13.6h11.5v13.6zM1847 2066.5v-14.7h11.5v14.7zM1858.5 2066.5v-10.6h11.5v10.6zM1870.1 2066.5v-10.2h11.5v10.2zM1881.6 2066.5v-10h11.5v10zM1893.1 2066.5v-7.9h11.5v7.9zM1904.7 2066.5v-7.9h11.5v7.9zM1916.2 2066.5v-8.9h11.5v8.9zM1927.8 2066.5v-7.7h11.5v7.7zM1939.3 2066.5v-5.5h11.5v5.5zM1950.8 2066.5v-4.7h11.5v4.7zM1962.4 2066.5v-4.5h11.5v4.5zM1973.9 2066.5v-4.3h11.5v4.3zM1985.5 2066.5v-3h11.5v3zM1997 2066.5v-2.1h11.5v2.1zM2008.5 2066.5v-3.6h11.5v3.6zM2020.1 2066.5v-1.3h11.5v1.3zM2031.6 2066.5v-2.3h11.5v2.3zM2043.2 2066.5v-.9h11.5v.9z" fill="#6495ED" stroke="#000" stroke-width="1.9" stroke-linejoin="miter"/></g><rect x="2095.3" y="1701.8" width="377.0" height="381.1" fill="#fff" stroke="#EBEBEB" stroke-width="2.4"/><rect x="2497.7" y="1701.8" width="377.0" height="381.1" fill="#fff" stroke="#EBEBEB" stroke-width="2.4"/><g clip-path="url(#c50)"><rect x="82.1" y="2107.1" width="379.4" height="383.5" fill="#EBEBEB"/><path d="M95.1 2107.1V2490.6M160.5 2107.1V2490.6M226 2107.1V2490.6M291.4 2107.1V2490.6M356.8 2107.1V2490.6M422.3 2107.1V2490.6M82.1 2412H461.5M82.1 2324.9H461.5M82.1 2237.7H461.5M82.1 2150.6H461.5" stroke="#fff" stroke-width="2.2" fill="none"/><path d="M127.8 2107.1V2490.6M193.2 2107.1V2490.6M258.7 2107.1V2490.6M324.1 2107.1V2490.6M389.6 2107.1V2490.6M455 2107.1V2490.6M82.1 2455.6H461.5M82.1 2368.4H461.5M82.1 2281.3H461.5M82.1 2194.2H461.5M82.1 2107H461.5" stroke="#fff" stroke-width="4.4" fill="none"/><g transform="translate(82.1 2107.1)"><path transform="scale(2.15)" d="M42 8.08h2M58 8.08h2M69 8.08h2M72 8.08h3M76 8.08h2M81 8.08h5M87 8.08h5M99 8.08h2M105 8.08h2M115 8.08h2M12 12.14h2M16 12.14h2M8 16.19h4M14 16.19h2M41 16.19h2M45 16.19h2M50 16.19h2M53 16.19h40M94 16.19h6M101 16.19h2M106 16.19h8M117 16.19h2M120 16.19h2M124 16.19h2M131 16.19h6M139 16.19h2M9 20.24h2M14 20.24h2M17 20.24h2M25 20.24h10M40 20.24h2M43 20.24h2M47 20.24h2M50 20.24h5M56 20.24h13M70 20.24h10M81 20.24h10M92 20.24h2M95 20.24h2M98 20.24h2M101 20.24h6M112 20.24h4M119 20.24h2M123 20.24h3M144 20.24h2M30 24.3h2M37 24.3h2M41 24.3h5M51 24.3h2M56 24.3h2M59 24.3h13M73 24.3h10M85 24.3h5M91 24.3h14M107 24.3h10M122 24.3h4M143 24.3h2M29 28.35h3M33 28.35h4M40 28.35h10M51 28.35h52M104 28.35h9M114 28.35h2M118 28.35h2M122 28.35h3M139 28.35h2M153 28.35h2M20 32.4h2M29 32.4h2M35 32.4h4M40 32.4h2M43 32.4h93M139 32.4h2M153 32.4h2M36 36.46h3M40 36.46h3M44 36.46h90M138 36.46h3M142 36.46h2M145 36.46h2M30 40.51h2M34 40.51h2M41 40.51h89M134 40.51h2M140 40.51h2M33 44.57h4M38 44.57h6M45 44.57h19M67 44.57h63M131 44.57h10M34 48.62h4M39 48.62h5M48 48.62h69M118 48.62h4M123 48.62h3M127 48.62h4M144 48.62h2M168 48.62h2M29 52.67h5M36 52.67h2M40 52.67h5M46 52.67h9M59 52.67h58M119 52.67h5M127 52.67h2M134 52.67h2M147 52.67h2M30 56.73h2M35 56.73h2M38 56.73h5M44 56.73h88M138 56.73h2M141 56.73h2M32 60.78h3M39 60.78h87M129 60.78h6M138 60.78h3M146 60.78h2M34 64.83h2M40 64.83h4M45 64.83h68M114 64.83h9M128 64.83h9M139 64.83h3M143 64.83h2M150 64.83h2M36 68.89h2M40 68.89h75M116 68.89h17M136 68.89h2M139 68.89h2M143 68.89h8M40 72.94h99M141 72.94h2M152 72.94h2M155 72.94h2M39 76.99h6M46 76.99h89M139 76.99h2M143 76.99h2M44 81.05h92M137 81.05h2M144 81.05h2M40 85.1h2M45 85.1h86M132 85.1h3M138 85.1h2M143 85.1h2M155 85.1h2M41 89.15h2M44 89.15h2M49 89.15h57M107 89.15h4M112 89.15h2M120 89.15h17M142 89.15h4M42 93.21h2M49 93.21h62M113 93.21h7M131 93.21h2M134 93.21h4M45 97.26h4M56 97.26h42M100 97.26h2M103 97.26h2M106 97.26h3M110 97.26h2M114 97.26h5M120 97.26h2M50 101.31h6M57 101.31h2M61 101.31h14M77 101.31h5M83 101.31h5M90 101.31h7M99 101.31h2M106 101.31h3M113 101.31h2M116 101.31h3M125 101.31h3M52 105.37h9M62 105.37h14M78 105.37h3M82 105.37h5M89 105.37h2M93 105.37h2M98 105.37h2M102 105.37h2M125 105.37h2M54 109.42h10M65 109.42h7M73 109.42h2M78 109.42h7M124 109.42h4M53 113.47h2M56 113.47h6M65 113.47h3M69 113.47h4M74 113.47h7M111 113.47h2M151 113.47h2M63 117.53h2M67 117.53h4M64 121.58h2M68 121.58h2M74 121.58h2M84 121.58h2M58 125.63h2M75 125.63h3M99 125.63h4M111 125.63h2M118 125.63h2M67 129.69h2M77 129.69h2M86 129.69h5M128 129.69h2M67 133.74h2M132 133.74h2M103 145.9h2M89 149.96h2M57 162.12h2M72 166.17h2M82 166.17h2M69 170.22h2M78 170.22h2" stroke="#6495ED" stroke-width="2" fill="none"/><path d="M17.5 -9L22.5 .7L27.5 10.3L32.5 19.9L37.5 29.5L42.5 38.6L47.5 47.4L52.5 56.2L57.5 65L62.5 72.9L67.5 80.1L72.5 87.3L77.5 94.5L82.5 100.8L87.5 105.6L92.5 110.3L97.5 115.1L102.5 118.8L107.5 121.8L112.5 124.8L117.5 127.8L122.5 129.7L127.5 130.8L132.5 132L137.5 133.1L142.5 133.2L147.5 132.5L152.5 131.9L157.5 131.2L162.5 130L167.5 128.5L172.5 127L177.5 125.5L182.5 124.2L187.5 123.1L192.5 121.9L197.5 120.8L202.5 120.1L207.5 119.6L212.5 119.1L217.5 118.6L222.5 118.3L227.5 118.1L232.5 117.9L237.5 117.7L242.5 117.8L247.5 118L252.5 118.3L257.5 118.5L262.5 119.2L267.5 120.1L272.5 120.9L277.5 121.8L282.5 122.9L287.5 124.2L292.5 125.4L297.5 125.9L302.5 126L307.5 126.3L312.5 126.4L317.5 126.6L322.5 126.9L327.5 127.2L332.5 127.5L337.5 127.8L342.5 128.2L347.5 128.5L352.5 128.9L357.5 129.2L362.5 129.5L362.5 177.3L357.5 173.4L352.5 169.6L347.5 165.7L342.5 161.9L337.5 158.1L332.5 154.4L327.5 150.8L322.5 147.1L317.5 143.5L312.5 140.2L307.5 136.8L302.5 133.6L297.5 130.5L292.5 128.4L287.5 127.2L282.5 125.9L277.5 124.8L272.5 123.9L267.5 123.1L262.5 122.2L257.5 121.5L252.5 121.3L247.5 121L242.5 120.8L237.5 120.7L232.5 120.9L227.5 121.1L222.5 121.3L217.5 121.6L212.5 122.1L207.5 122.6L202.5 123.1L197.5 123.8L192.5 124.9L187.5 126.1L182.5 127.2L177.5 128.5L172.5 130L167.5 131.5L162.5 133L157.5 134.2L152.5 134.9L147.5 135.5L142.5 136.2L137.5 136.1L132.5 135L127.5 133.8L122.5 132.7L117.5 130.8L112.5 127.8L107.5 124.8L102.5 121.8L97.5 118.1L92.5 113.3L87.5 108.6L82.5 103.8L77.5 99.5L72.5 94.7L67.5 89.9L62.5 85.1L57.5 79.7L52.5 73.5L47.5 67.3L42.5 61.1L37.5 54.5L32.5 47.6L27.5 40.7L22.5 33.8L17.5 26.9Z" fill="#999" fill-opacity=".4"/><path d="M17.5 9C21.2 15.1 32.8 34.7 39.8 45.8C46.9 56.9 53.1 66.7 59.8 75.7C66.4 84.7 73 92.5 79.7 99.6C86.3 106.7 93 113.4 99.6 118.5C106.2 123.7 112.9 127.7 119.5 130.5C126.2 133.2 132.8 134.7 139.4 135.1C146.1 135.4 152.7 133.9 159.4 132.5C166 131 172.6 128.3 179.3 126.5C185.9 124.7 192.6 123 199.2 121.9C205.8 120.8 212.5 120.4 219.1 119.9C225.8 119.5 232.4 119.1 239 119.1C245.7 119.2 252.3 119.4 259 120.1C265.6 120.8 272.2 122.1 278.9 123.5C285.5 124.9 292.2 126.5 298.8 128.5C305.4 130.5 312.1 133 318.7 135.5C325.4 137.9 331.3 140.4 338.6 143.4C345.9 146.4 358.6 151.7 362.5 153.4" stroke="#000" stroke-width="8.9" fill="none" stroke-linejoin="round"/></g></g><g clip-path="url(#c51)"><rect x="484.5" y="2107.1" width="379.4" height="383.5" fill="#EBEBEB"/><path d="M530.8 2107.1V2490.6M602.9 2107.1V2490.6M675 2107.1V2490.6M747 2107.1V2490.6M819.1 2107.1V2490.6M484.5 2412H863.9M484.5 2324.9H863.9M484.5 2237.7H863.9M484.5 2150.6H863.9" stroke="#fff" stroke-width="2.2" fill="none"/><path d="M494.7 2107.1V2490.6M566.8 2107.1V2490.6M638.9 2107.1V2490.6M711 2107.1V2490.6M783.1 2107.1V2490.6M855.2 2107.1V2490.6M484.5 2455.6H863.9M484.5 2368.4H863.9M484.5 2281.3H863.9M484.5 2194.2H863.9M484.5 2107H863.9" stroke="#fff" stroke-width="4.4" fill="none"/><g transform="translate(484.5 2107.1)"><path transform="scale(2.15)" d="M20 8.08h4M25 8.08h2M28 8.08h5M38 8.08h3M42 8.08h5M52 8.08h2M59 8.08h2M63 8.08h2M66 8.08h2M100 8.08h2M139 8.08h2M15 16.19h2M18 16.19h14M34 16.19h18M53 16.19h3M58 16.19h10M70 16.19h2M74 16.19h4M82 16.19h3M88 16.19h2M94 16.19h4M99 16.19h2M102 16.19h2M121 16.19h2M11 20.24h30M42 20.24h3M47 20.24h4M52 20.24h13M66 20.24h6M73 20.24h4M79 20.24h2M82 20.24h2M85 20.24h4M93 20.24h2M98 20.24h2M102 20.24h2M109 20.24h3M12 24.3h21M35 24.3h7M43 24.3h4M48 24.3h4M54 24.3h5M63 24.3h5M71 24.3h2M81 24.3h4M93 24.3h2M97 24.3h5M105 24.3h4M9 28.35h5M15 28.35h45M61 28.35h4M66 28.35h47M119 28.35h2M123 28.35h2M12 32.4h86M99 32.4h15M115 32.4h3M119 32.4h2M122 32.4h3M128 32.4h2M136 32.4h4M142 32.4h2M12 36.46h16M29 36.46h77M107 36.46h3M114 36.46h10M126 36.46h2M130 36.46h3M134 36.46h2M144 36.46h2M148 36.46h2M151 36.46h2M8 40.51h18M27 40.51h78M106 40.51h10M118 40.51h2M121 40.51h3M131 40.51h5M155 40.51h2M8 44.57h2M12 44.57h81M98 44.57h15M118 44.57h8M127 44.57h3M131 44.57h3M13 48.62h39M53 48.62h18M75 48.62h3M80 48.62h2M83 48.62h3M100 48.62h2M111 48.62h2M114 48.62h2M117 48.62h2M120 48.62h2M126 48.62h2M135 48.62h6M165 48.62h2M168 48.62h2M12 52.67h56M70 52.67h14M86 52.67h2M89 52.67h9M99 52.67h8M111 52.67h2M116 52.67h2M8 56.73h2M12 56.73h95M108 56.73h5M114 56.73h6M121 56.73h3M125 56.73h2M128 56.73h4M11 60.78h97M109 60.78h7M117 60.78h2M120 60.78h2M123 60.78h2M126 60.78h3M130 60.78h2M138 60.78h3M154 60.78h2M7 64.83h2M12 64.83h69M82 64.83h23M107 64.83h5M115 64.83h2M122 64.83h5M134 64.83h4M142 64.83h4M150 64.83h2M155 64.83h2M167 64.83h2M9 68.89h2M12 68.89h78M91 68.89h4M96 68.89h11M108 68.89h8M123 68.89h2M129 68.89h4M151 68.89h4M7 72.94h2M12 72.94h101M114 72.94h5M129 72.94h3M135 72.94h2M138 72.94h2M7 76.99h3M11 76.99h68M80 76.99h5M87 76.99h6M95 76.99h10M106 76.99h2M109 76.99h7M120 76.99h2M123 76.99h2M126 76.99h3M131 76.99h2M150 76.99h2M12 81.05h67M80 81.05h4M85 81.05h7M93 81.05h14M108 81.05h4M114 81.05h2M120 81.05h4M125 81.05h2M130 81.05h4M135 81.05h2M151 81.05h2M155 81.05h2M168 81.05h2M12 85.1h46M59 85.1h7M67 85.1h26M94 85.1h2M98 85.1h3M102 85.1h5M113 85.1h5M119 85.1h5M126 85.1h2M130 85.1h2M143 85.1h2M150 85.1h2M12 89.15h58M76 89.15h3M80 89.15h4M89 89.15h4M100 89.15h2M119 89.15h2M130 89.15h4M143 89.15h4M14 93.21h37M53 93.21h4M59 93.21h9M70 93.21h2M75 93.21h3M81 93.21h4M94 93.21h2M100 93.21h2M110 93.21h2M117 93.21h2M145 93.21h2M13 97.26h30M49 97.26h2M52 97.26h2M56 97.26h5M63 97.26h9M75 97.26h2M81 97.26h2M86 97.26h5M97 97.26h2M111 97.26h2M122 97.26h2M134 97.26h2M151 97.26h2M14 101.31h26M41 101.31h7M50 101.31h5M58 101.31h7M70 101.31h2M73 101.31h4M87 101.31h2M119 101.31h2M154 101.31h4M14 105.37h3M20 105.37h6M28 105.37h3M32 105.37h14M47 105.37h2M51 105.37h7M132 105.37h4M19 109.42h25M56 109.42h2M17 113.47h6M25 113.47h5M31 113.47h6M41 113.47h3M21 117.53h2M26 117.53h4M31 117.53h4M42 117.53h4M168 117.53h2M21 121.58h2M25 121.58h2M37 121.58h2M31 125.63h2M67 125.63h2M78 125.63h2M88 125.63h2M33 129.69h3M122 129.69h2M28 133.74h2M41 137.8h2M75 145.9h3M59 149.96h2M43 154.01h2M49 158.06h2M61 158.06h2M34 166.17h2M45 166.17h3M25 170.22h2M28 170.22h2" stroke="#6495ED" stroke-width="2" fill="none"/><path d="M17.9 102.6L22.9 111.6L27.9 119.9L32.9 123.9L37.9 127L42.9 130.1L47.9 132.4L52.9 133.3L57.9 134.2L62.9 134.7L67.9 133.6L72.9 132.6L77.9 131L82.9 128.9L87.9 126.8L92.8 125.2L97.8 123.9L102.8 122.7L107.8 121.4L112.8 120.8L117.8 120.5L122.8 120.1L127.8 119.8L132.8 119.5L137.8 119.1L142.8 118.9L147.8 118.6L152.8 118.4L157.8 118.1L162.8 117.7L167.8 117.3L172.8 117L177.8 116.6L182.7 116.3L187.7 116.1L192.7 115.9L197.7 115.7L202.7 115.6L207.7 115.6L212.7 115.6L217.7 115.6L222.7 115.9L227.7 116.2L232.7 116.6L237.7 116.9L242.7 117.5L247.7 118.1L252.7 118.7L257.7 119.3L262.7 120L267.7 120.7L272.6 120.8L277.6 120.7L282.6 120.7L287.6 120.8L292.6 120.9L297.6 120.9L302.6 121.1L307.6 121.2L312.6 121.4L317.6 121.6L322.6 121.8L327.6 122L332.6 122.3L337.6 122.5L342.6 122.7L347.6 122.9L352.6 123.1L357.6 123.3L362.5 123.5L362.5 163.3L357.6 161L352.6 158.7L347.6 156.5L342.6 154.2L337.6 151.9L332.6 149.6L327.6 147.4L322.6 145.1L317.6 142.9L312.6 140.7L307.6 138.6L302.6 136.5L297.6 134.4L292.6 132.4L287.6 130.5L282.6 128.6L277.6 126.7L272.6 125.1L267.7 123.7L262.7 123L257.7 122.3L252.7 121.7L247.7 121.1L242.7 120.5L237.7 119.9L232.7 119.6L227.7 119.2L222.7 118.9L217.7 118.6L212.7 118.6L207.7 118.6L202.7 118.6L197.7 118.7L192.7 118.9L187.7 119.1L182.7 119.3L177.8 119.6L172.8 120L167.8 120.3L162.8 120.7L157.8 121.1L152.8 121.4L147.8 121.6L142.8 121.9L137.8 122.1L132.8 122.5L127.8 122.8L122.8 123.1L117.8 123.5L112.8 123.8L107.8 124.4L102.8 125.7L97.8 126.9L92.8 128.2L87.9 129.8L82.9 131.9L77.9 134L72.9 135.6L67.9 136.6L62.9 137.7L57.9 137.2L52.9 136.3L47.9 135.4L42.9 133.1L37.9 130L32.9 126.9L27.9 122.9L22.9 120.4L17.9 118.5Z" fill="#999" fill-opacity=".4"/><path d="M17.9 110.6C19.9 112.7 25.2 119.7 29.9 123.5C34.5 127.3 40.5 131.3 45.8 133.5C51.1 135.6 56.8 136.5 61.8 136.5C66.7 136.5 71 135 75.7 133.5C80.3 132 84 129.3 89.6 127.5C95.3 125.7 101.3 123.7 109.6 122.5C117.9 121.3 131.1 121 139.4 120.5C147.7 120 152.7 120 159.4 119.5C166 119.1 172.6 118.3 179.3 117.9C185.9 117.5 192.6 117.3 199.2 117.1C205.8 117 212.5 116.9 219.1 117.1C225.8 117.4 232.4 117.9 239 118.5C245.7 119.2 252.3 120 259 120.9C265.6 121.8 272.2 122.7 278.9 123.9C285.5 125.1 292.2 126.5 298.8 127.9C305.4 129.3 312.1 130.9 318.7 132.5C325.4 134.1 331.3 135.6 338.6 137.5C345.9 139.3 358.6 142.4 362.5 143.4" stroke="#000" stroke-width="8.9" fill="none" stroke-linejoin="round"/></g></g><g clip-path="url(#c52)"><rect x="886.9" y="2107.1" width="379.4" height="383.5" fill="#EBEBEB"/><path d="M948.7 2107.1V2490.6M1044.1 2107.1V2490.6M1139.5 2107.1V2490.6M1234.9 2107.1V2490.6M886.9 2412H1266.3M886.9 2324.9H1266.3M886.9 2237.7H1266.3M886.9 2150.6H1266.3" stroke="#fff" stroke-width="2.2" fill="none"/><path d="M901 2107.1V2490.6M996.4 2107.1V2490.6M1091.8 2107.1V2490.6M1187.2 2107.1V2490.6M886.9 2455.6H1266.3M886.9 2368.4H1266.3M886.9 2281.3H1266.3M886.9 2194.2H1266.3M886.9 2107H1266.3" stroke="#fff" stroke-width="4.4" fill="none"/><g transform="translate(886.9 2107.1)"><path transform="scale(2.15)" d="M9 8.08h12M24 8.08h3M28 8.08h3M39 8.08h2M54 12.14h2M77 12.14h4M101 12.14h2M8 16.19h24M35 16.19h4M46 16.19h2M52 16.19h2M57 16.19h2M69 16.19h2M72 16.19h2M81 16.19h2M85 16.19h2M96 16.19h2M100 16.19h2M8 20.24h62M71 20.24h10M82 20.24h10M95 20.24h12M111 20.24h2M114 20.24h2M130 20.24h2M142 20.24h2M147 20.24h2M7 24.3h86M96 24.3h5M106 24.3h3M112 24.3h4M117 24.3h8M134 24.3h2M8 28.35h83M92 28.35h7M100 28.35h7M109 28.35h2M116 28.35h2M119 28.35h2M124 28.35h2M146 28.35h2M7 32.4h86M94 32.4h7M102 32.4h8M113 32.4h2M117 32.4h2M121 32.4h2M139 32.4h2M143 32.4h2M158 32.4h2M8 36.46h61M70 36.46h16M88 36.46h10M100 36.46h2M103 36.46h2M107 36.46h3M113 36.46h4M118 36.46h2M122 36.46h2M153 36.46h2M157 36.46h2M8 40.51h53M62 40.51h4M68 40.51h3M76 40.51h6M106 40.51h2M147 40.51h2M7 44.57h75M84 44.57h5M90 44.57h14M105 44.57h2M108 44.57h12M124 44.57h2M128 44.57h5M134 44.57h2M8 48.62h63M72 48.62h8M82 48.62h2M88 48.62h5M94 48.62h4M100 48.62h4M106 48.62h3M112 48.62h2M123 48.62h2M155 48.62h2M7 52.67h53M72 52.67h4M8 56.73h42M53 56.73h6M63 56.73h2M8 60.78h42M51 60.78h2M54 60.78h14M70 60.78h6M77 60.78h2M81 60.78h2M84 60.78h6M91 60.78h2M94 60.78h2M97 60.78h7M107 60.78h2M114 60.78h2M118 60.78h6M7 64.83h41M49 64.83h4M55 64.83h2M7 68.89h41M7 72.94h32M43 72.94h2M49 72.94h2M8 76.99h30M39 76.99h2M7 81.05h27M35 81.05h4M40 81.05h2M7 85.1h27M35 85.1h3M40 85.1h2M19 89.15h17M8 93.21h23M33 93.21h2M8 97.26h25M8 101.31h23M8 105.37h6M16 105.37h9M27 105.37h2M8 109.42h16M29 109.42h2M9 113.47h16M9 117.53h9M19 117.53h3M10 121.58h2M13 121.58h2M20 121.58h2M24 121.58h2M14 125.63h2M18 125.63h2M20 129.69h2M17 133.74h2M9 141.85h4M33 145.9h2M12 149.96h2M15 149.96h2M31 149.96h3M10 170.22h2M14 170.22h2M17 170.22h2M20 170.22h2" stroke="#6495ED" stroke-width="2" fill="none"/><path d="M16.9 145.9L21.9 144.8L27 143.6L32 141.7L37 138.9L42 136L47 132.6L52 128.8L57 125.1L62 120.9L67 116.1L72 111.3L77 106.6L82 102.3L87.1 98.5L92.1 94.8L97.1 91L102.1 87.9L107.1 85.4L112.1 82.9L117.1 80.4L122.1 78.3L127.1 76.5L132.1 74.8L137.1 73L142.2 71.5L147.2 70.3L152.2 69L157.2 67.8L162.2 66.9L167.2 66.2L172.2 65.6L177.2 64.9L182.2 64.6L187.2 64.5L192.2 64.4L197.3 64.3L202.3 64.5L207.3 65L212.3 65.5L217.3 66L222.3 66.9L227.3 67.9L232.3 68.9L237.3 69.9L242.3 70.5L247.3 71L252.4 71.4L257.4 71.9L262.4 72.6L267.4 73.5L272.4 74.3L277.4 75.2L282.4 76.3L287.4 77.5L292.4 78.7L297.4 79.9L302.4 81.3L307.5 82.7L312.5 84.1L317.5 85.6L322.5 87L327.5 88.4L332.5 89.8L337.5 91.2L342.5 92.7L347.5 94.3L352.5 95.9L357.5 97.5L362.5 99.1L362.5 153.9L357.5 150L352.5 146.2L347.5 142.4L342.5 138.5L337.5 134.8L332.5 131.2L327.5 127.6L322.5 124L317.5 120.4L312.5 116.8L307.5 113.2L302.4 109.6L297.4 106.1L292.4 102.8L287.4 99.5L282.4 96.2L277.4 93.1L272.4 90.2L267.4 87.3L262.4 84.5L257.4 81.8L252.4 79.4L247.3 77.1L242.3 74.8L237.3 72.9L232.3 71.9L227.3 70.9L222.3 69.9L217.3 69L212.3 68.5L207.3 68L202.3 67.5L197.3 67.3L192.2 67.4L187.2 67.5L182.2 67.6L177.2 67.9L172.2 68.6L167.2 69.2L162.2 69.9L157.2 70.8L152.2 72L147.2 73.3L142.2 74.5L137.1 76L132.1 77.8L127.1 79.5L122.1 81.3L117.1 83.4L112.1 85.9L107.1 88.4L102.1 90.9L97.1 94L92.1 97.8L87.1 101.5L82 105.3L77 109.6L72 114.3L67 119.1L62 123.9L57 128.1L52 131.8L47 135.6L42 139L37 141.9L32 144.7L27 146.6L21.9 147.8L16.9 148.9Z" fill="#999" fill-opacity=".4"/><path d="M16.9 147.4C19.1 146.9 25.4 146.2 29.9 144.4C34.4 142.6 38.8 139.8 43.8 136.5C48.8 133.1 53.8 129.6 59.8 124.5C65.7 119.4 73 111.2 79.7 105.6C86.3 99.9 93 94.8 99.6 90.6C106.2 86.5 112.9 83.5 119.5 80.7C126.2 77.9 132.8 75.7 139.4 73.7C146.1 71.7 152.7 70 159.4 68.7C166 67.5 172.6 66.6 179.3 66.1C185.9 65.6 192.6 65.5 199.2 65.7C205.8 66 212.5 66.7 219.1 67.7C225.8 68.7 232.4 70.1 239 71.7C245.7 73.3 252.3 75.1 259 77.3C265.6 79.4 272.2 81.9 278.9 84.7C285.5 87.4 292.2 90.5 298.8 93.6C305.4 96.8 312.1 100.3 318.7 103.6C325.4 106.9 331.3 109.7 338.6 113.5C345.9 117.4 358.6 124.3 362.5 126.5" stroke="#000" stroke-width="8.9" fill="none" stroke-linejoin="round"/></g></g><g clip-path="url(#c53)"><rect x="1289.3" y="2107.1" width="379.4" height="383.5" fill="#EBEBEB"/><path d="M1353.2 2107.1V2490.6M1447.1 2107.1V2490.6M1541 2107.1V2490.6M1634.9 2107.1V2490.6M1289.3 2412H1668.7M1289.3 2324.9H1668.7M1289.3 2237.7H1668.7M1289.3 2150.6H1668.7" stroke="#fff" stroke-width="2.2" fill="none"/><path d="M1306.2 2107.1V2490.6M1400.1 2107.1V2490.6M1494 2107.1V2490.6M1587.9 2107.1V2490.6M1289.3 2455.6H1668.7M1289.3 2368.4H1668.7M1289.3 2281.3H1668.7M1289.3 2194.2H1668.7M1289.3 2107H1668.7" stroke="#fff" stroke-width="4.4" fill="none"/><g transform="translate(1289.3 2107.1)"><path transform="scale(2.15)" d="M7 8.08h3M12 8.08h6M19 8.08h2M22 8.08h10M37 8.08h2M48 8.08h2M56 8.08h2M7 16.19h13M21 16.19h8M31 16.19h2M34 16.19h3M41 16.19h4M47 16.19h2M52 16.19h3M56 16.19h2M7 20.24h22M30 20.24h9M40 20.24h4M45 20.24h4M50 20.24h3M60 20.24h3M66 20.24h4M76 20.24h2M7 24.3h26M34 24.3h5M40 24.3h3M46 24.3h3M53 24.3h3M67 24.3h2M75 24.3h2M7 28.35h21M29 28.35h6M36 28.35h7M45 28.35h3M51 28.35h9M70 28.35h2M89 28.35h2M7 32.4h57M69 32.4h2M72 32.4h2M76 32.4h2M89 32.4h2M7 36.46h23M7 40.51h63M72 40.51h7M80 40.51h2M91 40.51h2M96 40.51h2M108 40.51h2M7 44.57h50M58 44.57h6M65 44.57h2M73 44.57h4M7 48.62h57M65 48.62h3M69 48.62h5M75 48.62h2M85 48.62h2M106 48.62h2M109 48.62h2M7 52.67h41M49 52.67h13M63 52.67h5M70 52.67h2M73 52.67h4M81 52.67h4M107 52.67h2M118 52.67h2M7 56.73h33M43 56.73h5M49 56.73h4M58 56.73h4M74 56.73h2M80 56.73h2M7 60.78h45M54 60.78h3M58 60.78h2M61 60.78h2M64 60.78h4M70 60.78h2M73 60.78h2M76 60.78h2M88 60.78h2M7 64.83h62M71 64.83h4M79 64.83h5M85 64.83h2M88 64.83h4M101 64.83h2M110 64.83h2M115 64.83h4M7 68.89h49M57 68.89h15M75 68.89h2M78 68.89h3M85 68.89h3M104 68.89h2M7 72.94h43M51 72.94h4M58 72.94h2M61 72.94h2M68 72.94h3M73 72.94h4M81 72.94h2M90 72.94h2M98 72.94h2M7 76.99h43M51 76.99h12M67 76.99h8M82 76.99h2M98 76.99h2M7 81.05h51M59 81.05h2M62 81.05h2M67 81.05h2M72 81.05h2M76 81.05h2M82 81.05h2M87 81.05h2M7 85.1h69M80 85.1h2M86 85.1h2M91 85.1h2M94 85.1h2M7 89.15h25M7 93.21h43M51 93.21h2M54 93.21h6M61 93.21h3M68 93.21h2M85 93.21h2M7 97.26h55M64 97.26h2M67 97.26h4M73 97.26h2M86 97.26h4M105 97.26h2M116 97.26h2M7 101.31h47M56 101.31h5M65 101.31h2M74 101.31h2M85 101.31h2M7 105.37h5M14 105.37h14M31 105.37h9M43 105.37h2M50 105.37h2M68 105.37h2M96 105.37h2M104 105.37h2M14 109.42h15M30 109.42h4M36 109.42h3M42 109.42h2M47 109.42h2M50 109.42h2M20 113.47h26M20 117.53h2M25 117.53h2M28 117.53h5M35 117.53h4M40 117.53h4M54 117.53h2M7 121.58h3M27 121.58h2M36 121.58h2M42 121.58h2M16 125.63h2M28 125.63h2M48 125.63h2M13 129.69h2M36 129.69h2M62 129.69h2M13 133.74h2M7 137.8h2M19 137.8h2M8 141.85h2M24 141.85h2M27 141.85h2M31 141.85h2M7 145.9h4M22 145.9h2M7 149.96h4M13 149.96h2M14 154.01h2M18 170.22h2M24 170.22h2M33 170.22h4M42 170.22h2" stroke="#6495ED" stroke-width="2" fill="none"/><path d="M16.9 112L21.9 117.1L27 121.7L32 125L37 127.9L42 129.5L47 131.1L52 132.4L57 133.4L62 134.4L67 135.4L72 136.2L77 136.7L82 137.2L87.1 137.7L92.1 138.1L97.1 138.5L102.1 138.9L107.1 139.3L112.1 139.7L117.1 140.1L122.1 140.4L127.1 140.8L132.1 141.1L137.1 141.3L142.2 141.6L147.2 141.8L152.2 142.1L157.2 142.3L162.2 142.6L167.2 142.5L172.2 142.3L177.2 141.9L182.2 141.5L187.2 141.1L192.2 140.6L197.3 140.1L202.3 139.5L207.3 138.8L212.3 138.2L217.3 137.5L222.3 136.7L227.3 135.9L232.3 135.1L237.3 134.2L242.3 133.3L247.3 132.4L252.4 131.4L257.4 130.4L262.4 129.4L267.4 128.4L272.4 127.3L277.4 126.3L282.4 125.1L287.4 124L292.4 122.8L297.4 121.6L302.4 120.4L307.5 119.1L312.5 117.8L317.5 116.5L322.5 115.2L327.5 113.8L332.5 112.4L337.5 111L342.5 109.5L347.5 108.1L352.5 106.6L357.5 105.1L362.5 103.6L362.5 203.2L357.5 201.2L352.5 199.2L347.5 197.2L342.5 195.2L337.5 193.3L332.5 191.4L327.5 189.6L322.5 187.7L317.5 185.9L312.5 184.1L307.5 182.4L302.4 180.6L297.4 178.9L292.4 177.3L287.4 175.6L282.4 174L277.4 172.4L272.4 170.9L267.4 169.3L262.4 167.8L257.4 166.4L252.4 164.9L247.3 163.5L242.3 162.2L237.3 160.9L232.3 159.6L227.3 158.4L222.3 157.1L217.3 156L212.3 154.8L207.3 153.7L202.3 152.6L197.3 151.5L192.2 150.5L187.2 149.6L182.2 148.6L177.2 147.7L172.2 146.9L167.2 146.1L162.2 145.6L157.2 145.3L152.2 145.1L147.2 144.8L142.2 144.6L137.1 144.3L132.1 144.1L127.1 143.8L122.1 143.4L117.1 143.1L112.1 142.7L107.1 142.3L102.1 141.9L97.1 141.5L92.1 141.1L87.1 140.7L82 140.2L77 139.7L72 139.2L67 138.4L62 137.4L57 136.4L52 135.4L47 134.1L42 132.5L37 130.9L32 128L27 124.7L21.9 120.1L16.9 115Z" fill="#999" fill-opacity=".4"/><path d="M16.9 113.5C18.4 115 22.7 119.9 25.9 122.5C29.1 125.1 31.9 127.3 35.9 129.1C39.8 130.9 44.2 132.1 49.8 133.5C55.4 134.9 63.1 136.5 69.7 137.5C76.4 138.4 83 138.8 89.6 139.4C96.3 140 102.9 140.5 109.6 141C116.2 141.5 122.8 142 129.5 142.4C136.1 142.8 142.8 143.1 149.4 143.4C156 143.8 162.7 144.1 169.3 144.4C176 144.8 180.9 145 189.2 145.4C197.5 145.8 209.2 146.4 219.1 146.8C229.1 147.2 239 147.6 249 148C259 148.4 268.9 148.9 278.9 149.4C288.8 149.9 298.8 150.3 308.8 150.8C318.7 151.3 329.7 151.8 338.6 152.2C347.6 152.6 358.6 153.2 362.5 153.4" stroke="#000" stroke-width="8.9" fill="none" stroke-linejoin="round"/></g></g><g clip-path="url(#c54)"><rect x="1691.7" y="2107.1" width="379.4" height="383.5" fill="#EBEBEB"/><path d="M1753.1 2107.1V2490.6M1845 2107.1V2490.6M1936.8 2107.1V2490.6M2028.7 2107.1V2490.6M1691.7 2412H2071.1M1691.7 2324.9H2071.1M1691.7 2237.7H2071.1M1691.7 2150.6H2071.1" stroke="#fff" stroke-width="2.2" fill="none"/><path d="M1707.2 2107.1V2490.6M1799 2107.1V2490.6M1890.9 2107.1V2490.6M1982.8 2107.1V2490.6M1691.7 2455.6H2071.1M1691.7 2368.4H2071.1M1691.7 2281.3H2071.1M1691.7 2194.2H2071.1M1691.7 2107H2071.1" stroke="#fff" stroke-width="4.4" fill="none"/><g transform="translate(1691.7 2107.1)"><path transform="scale(2.15)" d="M7 8.08h2M10 8.08h8M22 8.08h2M29 8.08h2M34 8.08h2M91 12.14h2M7 16.19h17M25 16.19h4M36 16.19h2M42 16.19h4M48 16.19h2M72 16.19h2M7 20.24h32M40 20.24h3M44 20.24h2M47 20.24h2M50 20.24h11M62 20.24h2M67 20.24h16M84 20.24h11M96 20.24h6M103 20.24h2M106 20.24h2M109 20.24h2M112 20.24h3M119 20.24h2M122 20.24h6M129 20.24h4M135 20.24h2M139 20.24h2M142 20.24h2M148 20.24h2M153 20.24h2M7 24.3h115M123 24.3h2M126 24.3h17M146 24.3h6M153 24.3h2M156 24.3h2M160 24.3h2M167 24.3h3M7 28.35h42M50 28.35h22M73 28.35h3M77 28.35h3M81 28.35h15M100 28.35h2M103 28.35h8M112 28.35h11M127 28.35h2M130 28.35h2M135 28.35h5M142 28.35h2M149 28.35h3M154 28.35h3M159 28.35h2M164 28.35h2M168 28.35h2M7 32.4h141M150 32.4h2M153 32.4h2M159 32.4h6M166 32.4h4M10 36.46h50M62 36.46h2M65 36.46h3M69 36.46h2M72 36.46h11M85 36.46h6M92 36.46h2M98 36.46h3M105 36.46h5M111 36.46h2M118 36.46h4M124 36.46h2M136 36.46h2M160 36.46h3M7 40.51h37M51 40.51h9M61 40.51h4M66 40.51h10M83 40.51h3M88 40.51h2M94 40.51h2M117 40.51h2M121 40.51h3M7 44.57h90M98 44.57h39M138 44.57h2M141 44.57h3M149 44.57h5M156 44.57h8M168 44.57h2M7 48.62h49M57 48.62h23M82 48.62h3M86 48.62h2M89 48.62h13M104 48.62h7M115 48.62h13M129 48.62h4M142 48.62h2M146 48.62h3M151 48.62h2M162 48.62h2M165 48.62h2M7 52.67h43M52 52.67h2M55 52.67h2M60 52.67h10M77 52.67h3M84 52.67h2M100 52.67h2M108 52.67h2M122 52.67h2M134 52.67h4M151 52.67h2M165 52.67h2M7 56.73h52M60 56.73h6M69 56.73h2M76 56.73h2M86 56.73h2M118 56.73h2M7 60.78h64M72 60.78h11M84 60.78h6M91 60.78h4M96 60.78h2M100 60.78h10M112 60.78h5M118 60.78h2M124 60.78h2M131 60.78h2M136 60.78h2M140 60.78h3M153 60.78h2M160 60.78h2M7 64.83h38M46 64.83h4M51 64.83h4M80 64.83h2M162 64.83h2M7 68.89h38M46 68.89h3M50 68.89h2M61 68.89h3M7 72.94h28M36 72.94h9M53 72.94h2M7 76.99h34M47 76.99h2M50 76.99h2M7 81.05h30M39 81.05h2M7 85.1h26M37 85.1h2M15 89.15h11M28 89.15h7M37 89.15h3M7 93.21h14M22 93.21h2M25 93.21h3M31 93.21h6M7 97.26h23M7 101.31h10M18 101.31h4M24 101.31h2M27 101.31h2M44 101.31h2M7 105.37h18M7 109.42h15M7 113.47h10M7 117.53h9M7 121.58h2M10 121.58h5M19 121.58h2M7 125.63h2M10 125.63h5M7 129.69h2M10 129.69h4M8 133.74h2M15 133.74h2M21 133.74h2M35 133.74h2M11 141.85h2M18 141.85h2M20 166.17h2M12 170.22h5" stroke="#6495ED" stroke-width="2" fill="none"/><path d="M16.9 157.9L21.9 150.1L27 142.7L32 136.6L37 131.1L42 127.4L47 123.6L52 120.9L57 118.4L62 115.9L67 113.4L72 110.9L77 108.4L82 105.9L87.1 103.5L92.1 101.1L97.1 98.8L102.1 96.4L107.1 94.4L112.1 92.5L117.1 90.6L122.1 88.7L127.1 87.1L132.1 85.6L137.1 84L142.2 82.5L147.2 81.4L152.2 80.4L157.2 79.4L162.2 78.4L167.2 77.7L172.2 77.1L177.2 76.5L182.2 75.9L187.2 75.6L192.2 75.3L197.3 75L202.3 74.7L207.3 74.6L212.3 74.6L217.3 74.6L222.3 74.6L227.3 74.8L232.3 75.1L237.3 75.4L242.3 75.7L247.3 76.3L252.4 76.9L257.4 77.5L262.4 78.1L267.4 79L272.4 79.9L277.4 80.8L282.4 81.7L287.4 82.8L292.4 83.9L297.4 85L302.4 86.2L307.5 87.3L312.5 88.3L317.5 89L322.5 89.6L327.5 90.2L332.5 90.8L337.5 91.4L342.5 92L347.5 92.5L352.5 93.1L357.5 93.6L362.5 94.1L362.5 115L357.5 112.7L352.5 110.4L347.5 108.1L342.5 105.8L337.5 103.5L332.5 101.2L327.5 98.9L322.5 96.7L317.5 94.4L312.5 92.2L307.5 90.3L302.4 89.2L297.4 88L292.4 86.9L287.4 85.8L282.4 84.7L277.4 83.8L272.4 82.9L267.4 82L262.4 81.1L257.4 80.5L252.4 79.9L247.3 79.3L242.3 78.7L237.3 78.4L232.3 78.1L227.3 77.8L222.3 77.6L217.3 77.6L212.3 77.6L207.3 77.6L202.3 77.7L197.3 78L192.2 78.3L187.2 78.6L182.2 78.9L177.2 79.5L172.2 80.1L167.2 80.7L162.2 81.4L157.2 82.4L152.2 83.4L147.2 84.4L142.2 85.5L137.1 87L132.1 88.6L127.1 90.1L122.1 91.7L117.1 93.6L112.1 95.5L107.1 97.4L102.1 99.4L97.1 101.8L92.1 104.1L87.1 106.5L82 108.9L77 111.4L72 113.9L67 116.4L62 118.9L57 121.4L52 123.9L47 126.6L42 130.4L37 134.1L32 139.6L27 145.7L21.9 153.1L16.9 160.9Z" fill="#999" fill-opacity=".4"/><path d="M16.9 159.4C18.4 157 22.7 149.7 25.9 145.4C29.1 141.1 32.2 137 35.9 133.5C39.5 130 43.2 127.3 47.8 124.5C52.5 121.7 57.8 119.5 63.7 116.5C69.7 113.5 77 109.8 83.7 106.6C90.3 103.4 96.9 100 103.6 97.2C110.2 94.4 116.9 91.9 123.5 89.6C130.1 87.4 136.8 85.3 143.4 83.7C150.1 82 156.7 80.7 163.3 79.7C170 78.6 176.6 77.9 183.3 77.3C189.9 76.7 196.5 76.3 203.2 76.1C209.8 75.9 216.5 75.9 223.1 76.1C229.7 76.3 236.4 76.7 243 77.3C249.7 77.9 256.3 78.7 262.9 79.7C269.6 80.7 275.6 81.8 282.9 83.3C290.2 84.8 298.1 86.4 306.8 88.6C315.4 90.9 325.4 94 334.7 96.6C344 99.3 357.9 103.3 362.5 104.6" stroke="#000" stroke-width="8.9" fill="none" stroke-linejoin="round"/></g></g><g clip-path="url(#c55)"><rect x="2094.1" y="2107.1" width="379.4" height="383.5" fill="#EBEBEB"/><path d="M2173 2107.1V2490.6M2256.5 2107.1V2490.6M2340 2107.1V2490.6M2423.5 2107.1V2490.6M2094.1 2424H2473.5M2094.1 2325.9H2473.5M2094.1 2227.8H2473.5M2094.1 2129.7H2473.5" stroke="#fff" stroke-width="2.2" fill="none"/><path d="M2131.2 2107.1V2490.6M2214.8 2107.1V2490.6M2298.2 2107.1V2490.6M2381.8 2107.1V2490.6M2465.2 2107.1V2490.6M2094.1 2473.1H2473.5M2094.1 2375H2473.5M2094.1 2276.9H2473.5M2094.1 2178.8H2473.5" stroke="#fff" stroke-width="4.4" fill="none"/><path d="M2111.1 2473.1v-1.5h11.5v1.5zM2122.6 2473.1h11.5M2134.1 2473.1v-1.3h11.5v1.3zM2145.6 2473.1h11.5M2157.2 2473.1h11.5M2168.7 2473.1h11.5M2180.2 2473.1v-2.8h11.5v2.8zM2191.7 2473.1h11.5M2203.3 2473.1v-1.9h11.5v1.9zM2214.8 2473.1v-2.6h11.5v2.6zM2226.3 2473.1v-2.8h11.5v2.8zM2237.9 2473.1v-21.3h11.5v21.3zM2249.4 2473.1v-32.5h11.5v32.5zM2260.9 2473.1v-23.6h11.5v23.6zM2272.4 2473.1v-122.9h11.5v122.9zM2284 2473.1v-116.3h11.5v116.3zM2295.5 2473.1v-213.1h11.5v213.1zM2307 2473.1v-141.6h11.5v141.6zM2318.6 2473.1v-118.9h11.5v118.9zM2330.1 2473.1v-348.6h11.5v348.6zM2341.6 2473.1v-91.2h11.5v91.2zM2353.1 2473.1v-48.3h11.5v48.3zM2364.7 2473.1v-254.8h11.5v254.8zM2376.2 2473.1v-150.8h11.5v150.8zM2387.7 2473.1v-306.3h11.5v306.3zM2399.3 2473.1v-61.5h11.5v61.5zM2410.8 2473.1v-25.1h11.5v25.1zM2422.3 2473.1v-40.2h11.5v40.2zM2433.8 2473.1h11.5M2445.4 2473.1v-6.6h11.5v6.6z" fill="#6495ED" stroke="#000" stroke-width="1.9" stroke-linejoin="miter"/></g><rect x="2497.7" y="2108.2" width="377.0" height="381.1" fill="#fff" stroke="#EBEBEB" stroke-width="2.4"/><g clip-path="url(#c60)"><rect x="82.1" y="2513.5" width="379.4" height="383.5" fill="#EBEBEB"/><path d="M95.1 2513.5V2897M160.5 2513.5V2897M226 2513.5V2897M291.4 2513.5V2897M356.8 2513.5V2897M422.3 2513.5V2897M82.1 2855.9H461.5M82.1 2792.1H461.5M82.1 2728.2H461.5M82.1 2664.4H461.5M82.1 2600.5H461.5M82.1 2536.7H461.5" stroke="#fff" stroke-width="2.2" fill="none"/><path d="M127.8 2513.5V2897M193.2 2513.5V2897M258.7 2513.5V2897M324.1 2513.5V2897M389.6 2513.5V2897M455 2513.5V2897M82.1 2887.8H461.5M82.1 2824H461.5M82.1 2760.1H461.5M82.1 2696.3H461.5M82.1 2632.5H461.5M82.1 2568.6H461.5" stroke="#fff" stroke-width="4.4" fill="none"/><g transform="translate(82.1 2513.5)"><path transform="scale(2.15)" d="M80 10h2M47 11h2M66 12h2M61 13h2M77 13h2M85 13h2M88 13h2M103 13h2M110 13h2M97 14h2M62 15h2M105 16h2M63 17h2M80 18h2M107 18h2M51 19h4M68 19h2M72 20h2M78 20h2M91 20h2M80 21h2M94 21h2M62 22h2M91 22h2M72 23h2M94 23h2M79 24h2M104 24h2M61 25h2M75 25h2M78 25h2M43 26h2M56 26h2M73 26h2M90 26h2M99 26h2M103 26h2M61 27h2M66 27h2M87 27h2M91 27h2M76 28h4M83 28h3M88 28h2M91 28h4M115 28h2M55 29h2M73 29h2M77 29h2M83 29h2M99 29h2M133 29h2M107 30h2M50 31h2M58 31h2M62 31h2M66 31h2M82 31h4M90 31h2M98 31h2M68 32h2M88 32h2M93 32h6M113 32h2M125 32h2M64 33h2M67 33h2M72 33h2M99 33h2M102 33h2M122 33h2M131 33h2M45 34h2M58 34h3M87 34h2M99 34h2M104 34h4M128 34h2M75 35h2M80 35h4M124 35h2M52 36h2M60 36h2M64 36h2M68 36h2M78 36h2M82 36h2M88 36h2M91 36h2M97 36h2M104 36h6M40 37h2M48 37h2M60 37h2M73 37h2M76 37h2M79 37h4M86 37h2M93 37h2M96 37h2M104 37h3M118 37h2M123 37h2M141 37h2M70 38h2M74 38h2M84 38h2M89 38h2M92 38h6M102 38h2M50 39h2M60 39h2M63 39h2M70 39h2M76 39h2M79 39h2M84 39h3M92 39h2M97 39h4M102 39h2M56 40h4M70 40h2M76 40h2M84 40h5M90 40h2M93 40h2M96 40h2M100 40h2M103 40h3M111 40h2M115 40h2M134 40h2M143 40h2M50 41h2M57 41h2M75 41h2M91 41h2M94 41h2M97 41h7M108 41h3M112 41h3M129 41h4M46 42h2M54 42h2M69 42h3M87 42h2M94 42h2M101 42h2M115 42h2M126 42h2M139 42h2M63 43h2M71 43h2M74 43h6M81 43h4M90 43h2M97 43h2M109 43h2M115 43h3M119 43h2M62 44h2M70 44h4M75 44h9M85 44h2M88 44h2M92 44h8M101 44h2M112 44h2M123 44h2M51 45h2M61 45h2M73 45h2M79 45h5M85 45h2M91 45h2M94 45h2M98 45h3M102 45h2M106 45h2M109 45h2M113 45h5M119 45h4M130 45h2M134 45h2M153 45h2M160 45h2M54 46h2M58 46h2M66 46h4M74 46h11M86 46h8M96 46h2M109 46h3M115 46h2M118 46h4M134 46h2M57 47h2M61 47h2M64 47h6M75 47h2M79 47h2M85 47h2M88 47h3M94 47h2M98 47h2M101 47h2M104 47h2M109 47h6M119 47h2M123 47h2M126 47h4M132 47h2M137 47h2M144 47h2M53 48h2M57 48h2M64 48h2M67 48h4M81 48h2M84 48h3M88 48h6M98 48h6M105 48h4M115 48h3M119 48h2M128 48h2M56 49h2M66 49h4M78 49h3M86 49h7M94 49h6M101 49h2M114 49h4M121 49h2M125 49h5M138 49h2M145 49h2M34 50h2M62 50h2M75 50h2M79 50h5M85 50h9M97 50h3M102 50h3M106 50h3M110 50h5M116 50h3M128 50h2M136 50h4M24 51h2M66 51h2M69 51h6M78 51h4M83 51h3M87 51h5M94 51h4M110 51h5M119 51h2M133 51h2M145 51h4M168 51h2M31 52h2M62 52h4M70 52h7M81 52h2M85 52h13M99 52h2M102 52h3M107 52h5M113 52h7M121 52h5M131 52h3M138 52h2M154 52h2M47 53h2M57 53h4M65 53h2M69 53h2M76 53h4M82 53h2M85 53h2M88 53h2M92 53h4M98 53h3M102 53h3M106 53h4M112 53h4M119 53h2M123 53h3M127 53h4M138 53h2M58 54h2M64 54h3M68 54h2M74 54h5M80 54h2M87 54h10M100 54h3M104 54h11M116 54h2M119 54h2M122 54h2M130 54h3M134 54h2M143 54h2M160 54h2M50 55h2M54 55h6M62 55h2M66 55h2M71 55h12M86 55h14M102 55h9M112 55h5M119 55h7M127 55h2M137 55h2M61 56h3M67 56h4M72 56h17M90 56h19M110 56h6M121 56h6M128 56h2M44 57h4M54 57h4M60 57h2M66 57h2M69 57h27M97 57h6M104 57h8M113 57h2M117 57h9M139 57h2M168 57h2M58 58h2M61 58h4M66 58h5M76 58h8M85 58h5M91 58h5M98 58h10M111 58h2M115 58h6M123 58h2M126 58h6M139 58h2M145 58h2M154 58h2M40 59h2M58 59h2M63 59h6M71 59h4M77 59h30M108 59h8M117 59h3M121 59h4M127 59h4M136 59h3M142 59h2M33 60h2M55 60h2M59 60h2M62 60h2M69 60h8M79 60h5M85 60h6M92 60h21M115 60h7M123 60h4M128 60h2M131 60h6M47 61h4M53 61h3M57 61h3M62 61h3M70 61h16M88 61h26M115 61h2M119 61h2M123 61h3M127 61h2M131 61h2M134 61h2M139 61h2M146 61h2M54 62h2M62 62h3M68 62h5M76 62h15M95 62h13M109 62h9M119 62h11M132 62h5M45 63h5M54 63h4M60 63h21M82 63h10M93 63h14M108 63h12M122 63h4M128 63h2M46 64h2M49 64h2M52 64h2M56 64h9M66 64h9M77 64h48M127 64h3M42 65h2M46 65h3M50 65h2M54 65h2M60 65h2M64 65h2M68 65h7M76 65h37M115 65h4M121 65h2M126 65h3M137 65h2M143 65h2M40 66h2M55 66h2M58 66h3M62 66h2M65 66h2M69 66h47M117 66h8M130 66h2M143 66h2M41 67h2M45 67h2M51 67h2M57 67h33M91 67h20M114 67h2M119 67h2M124 67h2M131 67h2M136 67h2M17 68h2M46 68h2M56 68h3M60 68h11M72 68h2M75 68h21M97 68h23M122 68h2M128 68h2M133 68h3M37 69h8M47 69h2M52 69h4M57 69h13M71 69h44M122 69h2M127 69h2M137 69h2M51 70h2M57 70h2M60 70h61M123 70h2M126 70h2M139 70h2M143 70h2M46 71h2M51 71h2M55 71h2M58 71h3M62 71h17M80 71h4M85 71h6M92 71h12M105 71h8M114 71h5M120 71h7M131 71h2M140 71h2M47 72h2M56 72h2M64 72h44M109 72h2M116 72h2M121 72h3M126 72h2M137 72h2M43 73h2M51 73h2M57 73h11M70 73h30M101 73h12M116 73h2M119 73h2M128 73h6M44 74h2M48 74h2M51 74h36M89 74h5M95 74h13M110 74h4M115 74h3M119 74h5M125 74h2M128 74h2M131 74h6M46 75h2M49 75h4M54 75h33M88 75h15M104 75h4M114 75h5M132 75h2M141 75h2M48 76h4M53 76h7M62 76h44M107 76h9M121 76h2M126 76h2M132 76h3M148 76h2M40 77h4M46 77h4M53 77h2M56 77h6M64 77h42M110 77h8M133 77h2M43 78h7M51 78h9M61 78h38M100 78h12M113 78h2M120 78h6M34 79h3M48 79h2M52 79h5M58 79h44M103 79h6M110 79h4M124 79h3M132 79h2M30 80h2M40 80h2M51 80h2M55 80h39M95 80h11M107 80h5M114 80h6M127 80h2M130 80h5M145 80h2M45 81h3M51 81h59M113 81h2M120 81h2M123 81h2M131 81h2M143 81h2M42 82h3M50 82h50M103 82h6M119 82h4M137 82h2M33 83h2M49 83h5M55 83h31M87 83h10M98 83h11M110 83h4M122 83h2M125 83h2M130 83h2M134 83h2M12 84h2M33 84h2M50 84h5M56 84h46M103 84h5M111 84h8M122 84h2M128 84h2M40 85h2M44 85h15M60 85h2M63 85h35M99 85h11M117 85h2M132 85h2M41 86h2M45 86h2M53 86h42M96 86h11M108 86h2M123 86h4M130 86h2M135 86h2M144 86h2M31 87h2M40 87h2M47 87h4M52 87h43M96 87h14M112 87h3M120 87h4M127 87h3M46 88h3M50 88h4M56 88h22M80 88h6M87 88h20M109 88h3M114 88h2M119 88h6M127 88h2M153 88h2M27 89h4M34 89h2M42 89h4M50 89h55M108 89h4M113 89h4M118 89h2M127 89h2M42 90h2M48 90h3M52 90h62M118 90h4M40 91h2M43 91h2M46 91h10M57 91h39M97 91h5M103 91h5M109 91h4M118 91h2M122 91h2M125 91h2M133 91h3M15 92h3M45 92h2M51 92h2M58 92h33M92 92h13M106 92h6M116 92h4M121 92h2M124 92h4M30 93h2M42 93h3M47 93h2M52 93h41M95 93h2M101 93h11M115 93h2M120 93h2M125 93h5M145 93h2M29 94h2M40 94h2M43 94h4M48 94h4M53 94h22M77 94h10M89 94h19M109 94h3M113 94h2M132 94h2M34 95h2M46 95h8M55 95h30M86 95h27M115 95h2M121 95h2M126 95h2M30 96h3M42 96h2M46 96h4M51 96h6M58 96h23M82 96h8M91 96h11M103 96h6M110 96h2M115 96h3M123 96h2M38 97h2M41 97h4M52 97h2M57 97h36M94 97h5M104 97h11M121 97h4M128 97h2M134 97h2M17 98h2M26 98h2M36 98h2M40 98h3M45 98h43M89 98h15M105 98h7M117 98h3M43 99h6M51 99h32M84 99h5M90 99h3M94 99h11M109 99h3M114 99h3M120 99h2M131 99h2M21 100h2M31 100h2M37 100h2M44 100h2M48 100h2M52 100h34M87 100h7M96 100h5M103 100h3M107 100h6M115 100h2M119 100h2M122 100h2M7 101h2M34 101h2M52 101h6M59 101h7M68 101h20M90 101h2M93 101h2M96 101h6M103 101h2M110 101h2M133 101h2M139 101h2M30 102h2M41 102h2M45 102h52M98 102h6M113 102h2M123 102h2M129 102h2M36 103h2M43 103h2M46 103h33M80 103h8M89 103h18M112 103h2M118 103h2M123 103h2M132 103h2M13 104h2M22 104h4M31 104h4M47 104h6M54 104h2M57 104h4M62 104h48M123 104h2M127 104h2M14 105h2M36 105h2M41 105h2M45 105h10M56 105h34M91 105h9M102 105h2M113 105h2M121 105h2M35 106h2M40 106h2M48 106h22M71 106h7M80 106h4M85 106h6M93 106h2M96 106h7M108 106h6M120 106h3M21 107h2M34 107h2M41 107h3M47 107h2M50 107h27M79 107h3M84 107h5M90 107h16M107 107h7M120 107h2M29 108h2M46 108h4M51 108h2M54 108h3M58 108h5M64 108h31M97 108h9M113 108h2M126 108h2M39 109h2M46 109h2M49 109h2M52 109h4M57 109h13M71 109h18M91 109h2M94 109h4M103 109h3M112 109h2M120 109h4M34 110h2M37 110h2M42 110h2M45 110h13M60 110h19M80 110h13M94 110h8M107 110h2M112 110h2M37 111h2M41 111h2M47 111h8M56 111h19M77 111h4M82 111h4M88 111h3M92 111h4M102 111h3M42 112h2M45 112h11M57 112h9M67 112h14M82 112h4M88 112h2M91 112h12M107 112h7M119 112h2M25 113h2M32 113h2M38 113h2M45 113h2M48 113h14M63 113h5M69 113h16M87 113h14M109 113h2M115 113h2M48 114h2M51 114h2M54 114h4M59 114h26M87 114h3M95 114h2M99 114h3M108 114h2M122 114h3M28 115h5M40 115h4M46 115h3M51 115h6M58 115h27M88 115h3M93 115h6M102 115h2M105 115h2M108 115h2M114 115h2M51 116h9M62 116h9M72 116h12M85 116h9M95 116h2M99 116h3M113 116h3M39 117h2M47 117h3M51 117h9M61 117h3M65 117h12M78 117h5M84 117h4M93 117h2M102 117h7M21 118h3M40 118h2M47 118h2M51 118h4M57 118h17M75 118h6M83 118h2M88 118h3M92 118h6M32 119h2M37 119h4M43 119h3M49 119h5M55 119h5M61 119h14M78 119h14M93 119h6M101 119h2M111 119h2M29 120h2M34 120h2M40 120h4M47 120h4M52 120h5M58 120h17M76 120h3M80 120h2M84 120h3M89 120h3M93 120h3M99 120h3M109 120h2M45 121h9M56 121h6M63 121h11M76 121h6M84 121h8M97 121h2M100 121h4M110 121h2M38 122h2M45 122h2M49 122h8M59 122h2M62 122h10M75 122h9M85 122h4M90 122h3M100 122h2M42 123h4M51 123h6M59 123h7M67 123h2M70 123h3M75 123h11M87 123h7M96 123h2M100 123h2M108 123h2M132 123h2M29 124h2M32 124h2M42 124h2M45 124h2M50 124h5M56 124h2M61 124h5M67 124h4M72 124h9M86 124h5M92 124h3M99 124h2M44 125h2M50 125h5M60 125h17M78 125h17M100 125h2M56 126h9M66 126h5M74 126h3M81 126h2M84 126h3M90 126h2M94 126h2M97 126h2M100 126h2M106 126h2M45 127h2M55 127h4M65 127h7M74 127h3M81 127h2M85 127h4M93 127h4M109 127h2M117 127h2M40 128h2M43 128h2M58 128h2M61 128h2M64 128h20M89 128h2M92 128h2M114 128h2M46 129h4M51 129h3M56 129h6M64 129h3M68 129h3M72 129h5M78 129h3M82 129h2M91 129h4M98 129h4M29 130h2M37 130h2M41 130h2M44 130h2M51 130h2M60 130h2M64 130h2M70 130h2M74 130h5M84 130h2M88 130h3M93 130h2M96 130h2M118 130h2M42 131h2M47 131h2M51 131h5M59 131h2M62 131h6M71 131h5M79 131h6M87 131h4M95 131h2M98 131h4M35 132h2M54 132h2M57 132h2M64 132h6M72 132h3M77 132h3M81 132h3M86 132h2M97 132h2M115 132h2M32 133h2M43 133h2M48 133h2M55 133h2M62 133h2M66 133h2M70 133h8M80 133h2M87 133h5M46 134h2M51 134h2M54 134h2M58 134h2M63 134h3M68 134h4M75 134h2M80 134h3M88 134h4M112 134h2M52 135h2M58 135h4M66 135h6M76 135h4M84 135h2M93 135h5M48 136h2M53 136h2M58 136h5M68 136h3M75 136h3M81 136h2M88 136h2M107 136h2M115 136h2M41 137h2M49 137h2M56 137h4M63 137h2M70 137h2M74 137h4M79 137h4M86 137h2M92 137h2M108 137h2M33 138h2M59 138h2M63 138h2M66 138h6M77 138h3M85 138h4M55 139h2M58 139h2M64 139h2M67 139h3M74 139h4M80 139h2M84 139h2M97 139h2M62 140h2M66 140h2M71 140h2M76 140h3M82 140h2M40 141h4M52 141h3M58 141h10M70 141h4M75 141h2M81 141h2M89 141h2M95 141h4M101 141h2M51 142h2M55 142h2M61 142h2M69 142h2M72 142h2M80 142h5M89 142h2M108 142h2M41 143h2M60 143h2M63 143h4M73 143h3M87 143h2M90 143h2M96 143h2M55 144h2M69 144h2M73 144h2M76 144h2M95 144h2M107 144h2M60 145h2M64 145h4M69 145h2M76 145h2M84 145h6M91 145h2M104 145h2M60 146h8M69 146h2M77 146h3M85 146h4M90 146h2M94 146h2M105 146h2M51 147h3M59 147h2M70 147h6M77 147h2M84 147h3M114 147h2M56 148h2M63 148h2M67 148h3M75 148h4M83 148h2M116 148h2M65 149h2M80 149h6M90 149h2M97 149h4M66 150h7M81 150h2M89 150h2M98 150h2M52 151h2M64 151h2M70 151h2M77 151h2M44 152h2M49 152h2M71 152h2M77 152h2M91 152h2M94 152h2M106 152h2M62 153h2M66 153h2M59 154h2M70 154h2M73 154h4M86 154h2M48 155h2M67 155h2M74 155h2M60 156h2M69 156h2M78 156h4M91 156h2M95 156h2M51 157h2M72 157h2M75 157h2M122 157h2M30 158h2M54 158h2M67 158h2M75 158h2M83 158h2M86 158h2M49 159h2M63 159h2M78 159h2M60 160h2M66 160h2M77 160h3M81 160h2M89 160h2M81 161h2M85 161h2M90 161h2M66 162h2M61 164h2M66 164h2M78 165h2M86 165h2M116 165h2M77 166h2M103 166h2M66 167h2M77 167h2M91 167h2M101 167h2M116 168h2M95 169h2M68 170h2" stroke="#6495ED" stroke-width="2" fill="none"/><path d="M17.5 175.4L22.5 179.1L27.5 182.9L32.5 186.6L37.5 190.2L42.5 193.5L47.5 196.5L52.5 199.5L57.5 202.4L62.5 205L67.5 207.2L72.5 209.4L77.5 211.5L82.5 213.3L87.5 213.7L92.5 213.5L97.5 213.3L102.5 212.8L107.5 212L112.5 211.2L117.5 210.4L122.5 209.2L127.5 207.9L132.5 206.5L137.5 205.2L142.5 203.4L147.5 201.4L152.5 199.4L157.5 197.4L162.5 195.1L167.5 192.6L172.5 190.1L177.5 187.6L182.5 185L187.5 182.2L192.5 179.5L197.5 176.7L202.5 174.5L207.5 172.5L212.5 170.5L217.5 168.5L222.5 166.6L227.5 164.9L232.5 163.1L237.5 161.4L242.5 159.6L247.5 157.7L252.5 155.9L257.5 154L262.5 152.1L267.5 150.2L272.5 148.3L277.5 146.4L282.5 144.6L287.5 142.9L292.5 141.1L297.5 138.4L302.5 135L307.5 131.5L312.5 128.1L317.5 124.5L322.5 121.1L327.5 117.6L332.5 114.2L337.5 110.7L342.5 107.4L347.5 104.1L352.5 100.8L357.5 97.5L362.5 94.1L362.5 146.9L357.5 146.3L352.5 145.8L347.5 145.2L342.5 144.7L337.5 144.2L332.5 143.9L327.5 143.6L322.5 143.4L317.5 143.2L312.5 143.2L307.5 143.2L302.5 143.3L297.5 143.4L292.5 144.1L287.5 145.9L282.5 147.6L277.5 149.4L272.5 151.3L267.5 153.2L262.5 155.1L257.5 157L252.5 158.9L247.5 160.7L242.5 162.6L237.5 164.4L232.5 166.1L227.5 167.9L222.5 169.6L217.5 171.5L212.5 173.5L207.5 175.5L202.5 177.5L197.5 179.7L192.5 182.5L187.5 185.2L182.5 188L177.5 190.6L172.5 193.1L167.5 195.6L162.5 198.1L157.5 200.4L152.5 202.4L147.5 204.4L142.5 206.4L137.5 208.2L132.5 209.5L127.5 210.9L122.5 212.2L117.5 213.4L112.5 214.2L107.5 215L102.5 215.8L97.5 216.3L92.5 216.5L87.5 216.7L82.5 217.6L77.5 219.2L72.5 220.7L67.5 222.1L62.5 223.7L57.5 224.9L52.5 225.9L47.5 226.9L42.5 227.8L37.5 228.6L32.5 228.9L27.5 229.3L22.5 229.7L17.5 230.2Z" fill="#999" fill-opacity=".4"/><path d="M17.5 202.8C21.2 204 32.8 208.3 39.8 210.2C46.9 212.1 53.1 213.2 59.8 214.1C66.4 215 73 215.4 79.7 215.5C86.3 215.6 93 215.4 99.6 214.7C106.2 214.1 112.9 213 119.5 211.6C126.2 210.1 132.8 208.4 139.4 206.2C146.1 204 152.7 201.2 159.4 198.2C166 195.2 172.6 191.7 179.3 188.2C185.9 184.8 192.6 180.4 199.2 177.3C205.8 174.1 212.5 171.8 219.1 169.3C225.8 166.8 232.4 164.7 239 162.4C245.7 160 252.3 157.5 259 155C265.6 152.5 272.2 149.8 278.9 147.4C285.5 145 292.2 142.8 298.8 140.4C305.4 138.1 312.1 135.7 318.7 133.5C325.4 131.2 331.3 129.2 338.6 127.1C345.9 124.9 358.6 121.6 362.5 120.5" stroke="#000" stroke-width="8.9" fill="none" stroke-linejoin="round"/></g></g><g clip-path="url(#c61)"><rect x="484.5" y="2513.5" width="379.4" height="383.5" fill="#EBEBEB"/><path d="M530.8 2513.5V2897M602.9 2513.5V2897M675 2513.5V2897M747 2513.5V2897M819.1 2513.5V2897M484.5 2855.9H863.9M484.5 2792.1H863.9M484.5 2728.2H863.9M484.5 2664.4H863.9M484.5 2600.5H863.9M484.5 2536.7H863.9" stroke="#fff" stroke-width="2.2" fill="none"/><path d="M494.7 2513.5V2897M566.8 2513.5V2897M638.9 2513.5V2897M711 2513.5V2897M783.1 2513.5V2897M855.2 2513.5V2897M484.5 2887.8H863.9M484.5 2824H863.9M484.5 2760.1H863.9M484.5 2696.3H863.9M484.5 2632.5H863.9M484.5 2568.6H863.9" stroke="#fff" stroke-width="4.4" fill="none"/><g transform="translate(484.5 2513.5)"><path transform="scale(2.15)" d="M23 14h2M60 14h2M51 15h2M20 17h2M73 17h2M105 17h2M64 18h2M29 19h2M52 19h2M69 19h2M111 19h2M38 20h2M42 20h2M108 20h2M42 21h3M42 22h2M89 22h2M90 24h2M31 25h2M77 25h2M92 25h2M22 26h2M37 26h2M53 26h4M58 26h2M66 26h2M36 27h2M42 27h2M93 27h2M28 29h2M47 29h2M29 30h4M38 30h2M56 30h2M67 30h2M76 30h2M121 30h2M19 31h2M25 31h2M40 31h2M48 31h2M79 31h2M49 32h2M59 32h4M78 32h4M36 33h2M55 33h2M61 33h2M65 33h2M77 33h2M41 34h3M48 34h2M69 34h2M74 34h3M79 34h3M94 34h2M20 35h4M43 35h5M54 35h2M64 35h2M91 35h2M102 35h2M30 36h2M50 36h2M61 36h4M20 37h3M25 37h2M33 37h4M41 37h2M57 37h2M60 37h2M66 37h2M79 37h2M153 37h2M13 38h2M16 38h2M24 38h2M27 38h2M31 38h2M42 38h2M52 38h2M68 38h5M77 38h2M85 38h2M13 39h2M45 39h2M60 39h2M64 39h2M100 39h3M109 39h2M18 40h2M23 40h2M34 40h2M38 40h2M41 40h2M51 40h2M58 40h2M80 40h4M86 40h5M36 41h5M45 41h6M59 41h2M72 41h4M99 41h2M20 42h3M26 42h2M30 42h4M60 42h2M66 42h3M79 42h2M82 42h2M92 42h7M122 42h2M24 43h2M27 43h2M30 43h2M40 43h2M49 43h2M52 43h4M63 43h2M76 43h2M83 43h2M90 43h4M97 43h4M110 43h2M12 44h2M18 44h2M23 44h6M38 44h2M44 44h5M56 44h2M61 44h7M86 44h2M101 44h2M105 44h2M108 44h2M114 44h2M13 45h2M20 45h2M28 45h6M40 45h2M45 45h2M48 45h2M55 45h4M61 45h5M77 45h2M84 45h2M146 45h2M19 46h3M33 46h2M39 46h2M47 46h2M54 46h2M60 46h3M85 46h3M91 46h2M95 46h2M100 46h2M112 46h2M14 47h2M17 47h2M23 47h8M33 47h4M41 47h4M48 47h2M52 47h2M56 47h6M63 47h2M78 47h2M84 47h2M88 47h2M92 47h2M96 47h2M111 47h3M31 48h5M37 48h3M47 48h2M53 48h2M57 48h2M66 48h2M71 48h4M86 48h2M94 48h2M101 48h2M109 48h2M122 48h2M16 49h6M28 49h11M41 49h2M46 49h2M50 49h2M55 49h3M59 49h2M64 49h2M73 49h3M86 49h2M89 49h2M92 49h2M107 49h2M111 49h2M19 50h2M22 50h6M30 50h3M39 50h7M47 50h2M63 50h2M76 50h3M91 50h6M99 50h2M108 50h2M112 50h3M140 50h2M14 51h2M21 51h2M24 51h2M29 51h5M39 51h8M49 51h2M52 51h2M55 51h2M58 51h2M62 51h4M68 51h4M74 51h2M79 51h2M86 51h2M89 51h2M93 51h2M98 51h6M106 51h2M112 51h4M122 51h2M9 52h2M36 52h3M44 52h2M47 52h4M53 52h4M66 52h3M72 52h2M77 52h2M82 52h2M93 52h2M99 52h2M102 52h2M105 52h2M108 52h2M118 52h2M136 52h2M13 53h3M18 53h5M24 53h4M31 53h2M35 53h3M42 53h7M50 53h5M57 53h5M64 53h7M75 53h2M88 53h2M91 53h3M96 53h4M104 53h4M113 53h2M18 54h4M23 54h2M34 54h2M39 54h2M45 54h6M55 54h8M66 54h6M74 54h2M78 54h3M89 54h4M94 54h2M97 54h4M108 54h2M111 54h2M134 54h2M14 55h2M19 55h3M23 55h5M31 55h4M36 55h3M40 55h4M46 55h3M52 55h8M61 55h5M67 55h2M73 55h2M76 55h2M79 55h2M82 55h3M95 55h2M103 55h2M108 55h2M113 55h2M120 55h4M18 56h2M21 56h2M26 56h5M33 56h2M36 56h4M44 56h3M48 56h5M54 56h3M58 56h8M67 56h4M74 56h5M82 56h8M93 56h3M97 56h4M107 56h2M123 56h2M18 57h2M21 57h2M24 57h6M31 57h3M37 57h8M46 57h10M57 57h4M62 57h2M65 57h4M73 57h6M83 57h2M100 57h2M111 57h2M13 58h2M24 58h2M27 58h7M39 58h10M50 58h2M55 58h2M58 58h8M67 58h2M71 58h2M79 58h4M88 58h2M92 58h2M95 58h4M105 58h8M118 58h2M132 58h2M12 59h3M17 59h2M22 59h4M28 59h15M44 59h5M51 59h7M59 59h15M75 59h2M79 59h5M85 59h2M91 59h8M103 59h2M106 59h2M109 59h2M126 59h4M149 59h2M18 60h11M34 60h7M42 60h2M45 60h2M48 60h2M51 60h4M57 60h7M65 60h13M80 60h2M84 60h2M88 60h3M93 60h2M98 60h3M108 60h2M117 60h5M125 60h2M7 61h2M15 61h2M18 61h14M33 61h2M36 61h5M43 61h4M52 61h6M62 61h7M75 61h2M78 61h2M84 61h2M89 61h8M98 61h13M121 61h3M13 62h2M18 62h8M27 62h5M33 62h5M39 62h3M44 62h3M48 62h3M54 62h18M77 62h10M89 62h6M97 62h2M105 62h2M112 62h2M122 62h3M130 62h2M135 62h2M138 62h2M13 63h2M16 63h13M30 63h10M42 63h6M49 63h4M54 63h8M63 63h2M66 63h19M89 63h6M96 63h2M100 63h8M111 63h3M115 63h2M120 63h4M128 63h2M132 63h2M138 63h2M13 64h4M18 64h10M31 64h4M36 64h8M45 64h10M57 64h2M60 64h2M63 64h2M66 64h7M74 64h4M79 64h2M84 64h5M92 64h5M105 64h8M117 64h2M125 64h2M145 64h2M12 65h2M15 65h14M30 65h7M38 65h4M44 65h13M58 65h5M66 65h5M72 65h2M76 65h5M82 65h4M90 65h5M98 65h2M101 65h2M105 65h2M108 65h4M153 65h2M13 66h2M16 66h8M27 66h2M30 66h2M33 66h7M41 66h4M47 66h5M53 66h13M68 66h9M80 66h2M83 66h2M87 66h2M94 66h2M97 66h4M102 66h2M106 66h8M121 66h2M124 66h2M131 66h2M136 66h2M141 66h2M156 66h2M17 67h12M31 67h11M43 67h14M58 67h9M68 67h11M80 67h3M85 67h3M89 67h3M93 67h4M100 67h4M106 67h6M118 67h4M124 67h2M131 67h2M15 68h5M21 68h12M34 68h2M37 68h32M71 68h18M93 68h5M100 68h5M112 68h5M134 68h2M12 69h21M34 69h25M61 69h2M64 69h11M76 69h4M81 69h4M94 69h4M100 69h2M103 69h2M107 69h8M123 69h3M128 69h2M156 69h2M167 69h2M12 70h4M17 70h6M25 70h2M28 70h2M31 70h3M35 70h21M57 70h9M69 70h3M73 70h4M79 70h18M98 70h7M107 70h4M113 70h2M123 70h2M144 70h2M13 71h2M16 71h31M49 71h10M60 71h11M73 71h9M83 71h3M87 71h3M92 71h6M107 71h5M113 71h2M121 71h2M125 71h2M13 72h23M37 72h15M54 72h4M59 72h10M70 72h3M77 72h12M91 72h4M96 72h2M99 72h3M105 72h2M108 72h4M120 72h2M127 72h2M154 72h2M13 73h2M16 73h2M19 73h9M29 73h28M58 73h13M73 73h6M80 73h8M89 73h13M112 73h2M116 73h2M126 73h2M153 73h2M12 74h3M16 74h45M63 74h12M78 74h2M81 74h5M90 74h9M102 74h4M111 74h2M13 75h17M31 75h25M57 75h13M71 75h5M77 75h2M82 75h2M85 75h7M96 75h2M101 75h5M108 75h2M125 75h2M135 75h4M148 75h2M156 75h2M168 75h2M14 76h3M18 76h55M74 76h6M84 76h2M90 76h4M95 76h2M100 76h4M106 76h2M111 76h2M114 76h2M12 77h19M32 77h38M71 77h2M74 77h4M82 77h4M87 77h2M94 77h7M104 77h2M115 77h2M118 77h2M154 77h2M7 78h2M12 78h42M55 78h5M61 78h5M70 78h4M77 78h3M85 78h4M91 78h2M97 78h2M103 78h7M113 78h2M120 78h2M127 78h2M134 78h2M13 79h37M51 79h17M69 79h2M72 79h3M76 79h10M88 79h2M91 79h2M96 79h4M101 79h2M105 79h4M114 79h2M136 79h2M7 80h4M12 80h12M26 80h38M65 80h14M80 80h3M84 80h2M87 80h3M92 80h6M100 80h4M126 80h4M8 81h3M12 81h28M41 81h14M56 81h2M60 81h2M65 81h12M78 81h2M81 81h2M88 81h6M95 81h4M101 81h2M105 81h2M117 81h2M136 81h2M166 81h4M7 82h3M13 82h2M17 82h34M53 82h12M67 82h2M70 82h12M86 82h2M89 82h4M95 82h2M98 82h3M102 82h5M108 82h5M115 82h2M120 82h2M7 83h3M12 83h2M17 83h32M52 83h6M60 83h12M73 83h2M82 83h2M91 83h2M95 83h2M100 83h2M106 83h4M115 83h2M118 83h2M121 83h2M128 83h2M7 84h2M13 84h3M19 84h21M41 84h22M64 84h11M77 84h3M82 84h3M86 84h5M94 84h3M99 84h2M115 84h2M151 84h3M14 85h46M61 85h9M73 85h2M77 85h4M83 85h3M87 85h4M94 85h2M97 85h2M105 85h2M122 85h2M8 86h2M12 86h43M58 86h2M61 86h13M76 86h9M88 86h2M92 86h2M96 86h6M106 86h5M112 86h2M123 86h2M12 87h40M54 87h8M64 87h4M70 87h4M77 87h6M84 87h6M94 87h3M98 87h3M107 87h2M118 87h6M12 88h35M49 88h5M56 88h2M61 88h12M74 88h2M79 88h2M85 88h3M89 88h5M95 88h5M101 88h2M119 88h2M131 88h5M10 89h27M38 89h17M56 89h2M59 89h6M66 89h2M71 89h3M76 89h3M86 89h5M92 89h2M95 89h3M100 89h2M106 89h4M121 89h2M135 89h2M10 90h43M54 90h15M71 90h2M77 90h2M81 90h6M92 90h2M99 90h2M106 90h5M133 90h2M8 91h2M12 91h38M51 91h5M58 91h3M62 91h13M76 91h6M85 91h2M88 91h5M98 91h2M105 91h4M112 91h2M124 91h2M12 92h30M44 92h6M54 92h5M61 92h2M64 92h5M70 92h2M74 92h3M86 92h2M91 92h2M94 92h4M99 92h2M106 92h2M10 93h43M54 93h5M60 93h6M67 93h3M72 93h2M76 93h6M86 93h5M11 94h28M44 94h11M59 94h9M70 94h2M73 94h2M78 94h2M114 94h2M14 95h21M36 95h22M59 95h4M64 95h2M67 95h4M72 95h9M84 95h2M88 95h2M91 95h2M106 95h4M8 96h2M14 96h3M18 96h27M47 96h12M61 96h8M70 96h5M78 96h2M81 96h4M87 96h3M103 96h4M109 96h2M7 97h2M12 97h28M41 97h2M45 97h16M64 97h2M67 97h4M72 97h2M83 97h2M93 97h4M99 97h2M116 97h2M123 97h2M139 97h2M11 98h45M58 98h2M61 98h5M69 98h5M75 98h2M82 98h3M106 98h2M110 98h3M126 98h2M12 99h39M55 99h4M60 99h2M63 99h2M67 99h2M70 99h3M75 99h4M102 99h3M111 99h4M118 99h2M12 100h4M19 100h31M51 100h2M54 100h5M61 100h7M69 100h2M79 100h3M92 100h2M96 100h4M107 100h2M126 100h2M130 100h2M9 101h2M12 101h29M42 101h6M49 101h13M65 101h2M68 101h3M72 101h2M79 101h2M88 101h2M95 101h2M108 101h2M115 101h2M12 102h19M32 102h4M37 102h12M54 102h3M59 102h3M64 102h2M69 102h2M72 102h6M94 102h2M99 102h2M102 102h2M13 103h25M39 103h4M45 103h2M48 103h3M52 103h2M55 103h2M59 103h10M71 103h2M83 103h3M90 103h2M111 103h5M123 103h2M10 104h2M13 104h3M19 104h30M51 104h4M60 104h5M68 104h3M78 104h2M81 104h2M87 104h5M97 104h2M107 104h2M15 105h35M51 105h4M56 105h12M72 105h3M80 105h4M90 105h2M99 105h2M12 106h29M43 106h8M53 106h2M56 106h3M64 106h2M67 106h2M70 106h5M76 106h3M108 106h2M7 107h2M14 107h35M51 107h7M59 107h2M63 107h7M78 107h2M83 107h2M90 107h2M102 107h2M106 107h3M119 107h2M12 108h5M18 108h28M49 108h5M55 108h6M62 108h2M73 108h2M78 108h2M85 108h2M14 109h36M51 109h5M58 109h6M68 109h2M73 109h2M82 109h3M90 109h2M13 110h4M18 110h9M28 110h14M43 110h4M48 110h3M54 110h2M59 110h8M70 110h2M78 110h2M87 110h2M96 110h2M100 110h2M13 111h12M28 111h21M50 111h10M63 111h3M71 111h2M84 111h3M100 111h2M122 111h2M15 112h24M40 112h5M47 112h2M51 112h3M55 112h3M59 112h2M68 112h4M82 112h2M91 112h2M106 112h2M13 113h27M41 113h7M51 113h2M55 113h4M62 113h5M78 113h2M84 113h4M12 114h2M18 114h16M36 114h5M46 114h3M50 114h12M64 114h3M68 114h4M78 114h2M92 114h2M14 115h22M37 115h8M48 115h2M51 115h3M57 115h2M63 115h2M68 115h2M72 115h2M87 115h4M99 115h2M139 115h2M14 116h10M25 116h10M36 116h10M48 116h2M51 116h2M56 116h2M75 116h2M78 116h2M15 117h19M36 117h4M41 117h5M49 117h2M61 117h2M67 117h6M87 117h2M92 117h2M15 118h3M19 118h21M41 118h8M50 118h2M58 118h2M64 118h2M68 118h2M88 118h2M97 118h2M100 118h2M7 119h2M19 119h20M40 119h5M48 119h4M56 119h3M60 119h2M64 119h3M72 119h2M80 119h2M100 119h2M123 119h2M13 120h21M35 120h5M43 120h6M52 120h4M63 120h4M68 120h2M83 120h3M15 121h2M18 121h31M51 121h3M56 121h2M64 121h3M94 121h4M105 121h2M117 121h2M13 122h21M37 122h4M43 122h4M49 122h2M52 122h5M71 122h2M81 122h2M14 123h2M18 123h12M31 123h3M35 123h7M43 123h2M46 123h8M59 123h2M69 123h2M83 123h2M18 124h5M26 124h4M31 124h3M36 124h3M40 124h5M47 124h3M51 124h2M59 124h2M66 124h4M91 124h2M12 125h3M18 125h20M39 125h3M45 125h2M48 125h2M53 125h8M66 125h2M69 125h2M83 125h2M100 125h2M14 126h6M21 126h9M33 126h4M39 126h6M46 126h2M50 126h2M53 126h2M56 126h2M59 126h2M69 126h3M76 126h2M129 126h2M18 127h2M21 127h11M34 127h5M40 127h5M49 127h6M59 127h2M64 127h2M80 127h2M15 128h2M19 128h19M40 128h8M59 128h3M73 128h2M79 128h2M116 128h2M13 129h4M21 129h9M32 129h2M35 129h2M38 129h3M42 129h5M61 129h4M88 129h2M17 130h7M25 130h2M28 130h5M35 130h5M46 130h2M49 130h2M56 130h6M72 130h2M14 131h2M18 131h2M21 131h2M24 131h4M29 131h12M44 131h4M66 131h2M14 132h2M19 132h3M23 132h3M28 132h4M36 132h2M39 132h2M44 132h2M68 132h2M80 132h2M86 132h2M19 133h3M25 133h6M38 133h2M41 133h5M48 133h2M59 133h2M71 133h2M16 134h2M19 134h2M22 134h9M32 134h4M38 134h2M51 134h4M63 134h2M69 134h2M85 134h2M19 135h8M28 135h12M42 135h2M45 135h2M57 135h4M65 135h2M68 135h2M75 135h2M79 135h2M19 136h2M23 136h6M31 136h2M34 136h6M44 136h4M56 136h2M83 136h2M86 136h2M91 136h2M16 137h2M24 137h2M32 137h10M44 137h2M55 137h2M72 137h2M15 138h2M19 138h10M32 138h4M39 138h2M43 138h2M46 138h2M49 138h2M58 138h3M63 138h2M93 138h2M18 139h4M25 139h9M40 139h2M43 139h2M48 139h2M69 139h2M13 140h4M21 140h2M25 140h4M36 140h7M44 140h4M54 140h2M65 140h2M15 141h5M22 141h2M25 141h2M28 141h3M32 141h3M36 141h4M41 141h2M46 141h2M52 141h2M20 142h2M23 142h6M33 142h3M37 142h2M41 142h2M66 142h2M70 142h2M85 142h2M13 143h2M18 143h4M25 143h2M31 143h2M39 143h2M44 143h2M52 143h3M60 143h2M64 143h2M71 143h3M15 144h2M21 144h2M25 144h7M41 144h2M62 144h2M67 144h2M73 144h2M14 145h2M28 145h3M32 145h2M40 145h4M45 145h2M48 145h2M53 145h2M19 146h3M24 146h2M33 146h2M41 146h4M50 146h2M57 146h2M110 146h2M18 147h2M26 147h2M33 147h2M36 147h2M39 147h2M53 147h2M18 148h2M25 148h2M22 149h4M30 149h2M52 149h2M10 150h2M14 150h2M17 150h2M29 150h4M38 150h2M47 150h5M19 151h2M25 151h2M28 151h4M35 151h2M75 151h2M23 152h3M34 152h2M45 152h2M51 152h2M22 153h2M25 153h2M29 153h2M16 154h2M33 154h2M40 154h2M51 154h2M17 155h2M44 155h2M48 155h2M59 155h2M15 156h2M35 156h2M43 156h2M99 156h2M21 157h3M25 157h2M28 157h2M34 157h2M40 157h2M44 157h2M11 158h2M21 159h2M26 159h2M15 160h2M18 160h3M32 160h2M39 160h2M45 160h2M48 160h2M68 160h2M18 162h2M23 162h2M39 162h5M54 162h2M18 163h2M28 163h2M32 163h2M12 164h2M26 164h2M35 164h2M42 164h2M50 164h2M22 165h2M25 165h2M32 165h2M23 166h3M44 166h2M48 166h2M32 167h2M23 168h2M60 168h2M25 169h2M45 169h2M51 169h2M74 169h2M35 170h2M59 170h2M67 170h2" stroke="#6495ED" stroke-width="2" fill="none"/><path d="M17.9 196.7L22.9 198.6L27.9 200.5L32.9 202.3L37.9 203.1L42.9 203.7L47.9 204.2L52.9 204.5L57.9 203.7L62.9 202.8L67.9 202L72.9 200.1L77.9 197.6L82.9 195.1L87.9 192.6L92.8 190.1L97.8 187.6L102.8 185.1L107.8 182.6L112.8 180.6L117.8 178.9L122.8 177.1L127.8 175.4L132.8 174L137.8 172.7L142.8 171.5L147.8 170.2L152.8 169.1L157.8 168L162.8 166.9L167.8 165.8L172.8 164.8L177.8 163.9L182.7 163L187.7 162.1L192.7 161.2L197.7 160.3L202.7 159.4L207.7 158.5L212.7 157.8L217.7 157.1L222.7 156.4L227.7 155.7L232.7 155.1L237.7 154.6L242.7 154.1L247.7 153.6L252.7 153.3L257.7 153L262.7 152.7L267.7 152.4L272.6 151.4L277.6 150.4L282.6 149.3L287.6 148.2L292.6 147.2L297.6 146.1L302.6 145.1L307.6 144.1L312.6 143.1L317.6 142.2L322.6 141.3L327.6 140.3L332.6 139.5L337.6 138.6L342.6 137.8L347.6 136.9L352.6 136.1L357.6 135.3L362.5 134.6L362.5 177.4L357.6 175.9L352.6 174.4L347.6 173L342.6 171.6L337.6 170.2L332.6 168.9L327.6 167.6L322.6 166.3L317.6 165.1L312.6 163.9L307.6 162.7L302.6 161.7L297.6 160.6L292.6 159.6L287.6 158.6L282.6 157.7L277.6 156.9L272.6 156L267.7 155.4L262.7 155.7L257.7 156L252.7 156.3L247.7 156.6L242.7 157.1L237.7 157.6L232.7 158.1L227.7 158.7L222.7 159.4L217.7 160.1L212.7 160.8L207.7 161.5L202.7 162.4L197.7 163.3L192.7 164.2L187.7 165.1L182.7 166L177.8 166.9L172.8 167.8L167.8 168.8L162.8 169.9L157.8 171L152.8 172.1L147.8 173.2L142.8 174.5L137.8 175.7L132.8 177L127.8 178.4L122.8 180.1L117.8 181.9L112.8 183.6L107.8 185.6L102.8 188.1L97.8 190.6L92.8 193.1L87.9 195.6L82.9 198.1L77.9 200.6L72.9 203.1L67.9 205L62.9 205.8L57.9 206.7L52.9 207.5L47.9 207.2L42.9 206.7L37.9 206.1L32.9 205.3L27.9 203.5L22.9 201.6L17.9 199.7Z" fill="#999" fill-opacity=".4"/><path d="M17.9 198.2C20.6 199.2 28.2 202.9 33.9 204.2C39.5 205.5 45.8 206.3 51.8 206.2C57.8 206 63.4 205.3 69.7 203.2C76 201 83 196.5 89.6 193.2C96.3 189.9 102.9 186.1 109.6 183.3C116.2 180.4 122.8 178.3 129.5 176.3C136.1 174.3 142.8 172.9 149.4 171.3C156 169.8 162.7 168.3 169.3 166.9C176 165.6 182.6 164.5 189.2 163.3C195.9 162.2 202.5 160.8 209.2 159.8C215.8 158.7 222.4 157.8 229.1 157C235.7 156.2 242.4 155.5 249 155C255.6 154.4 262.3 154.1 268.9 153.8C275.6 153.5 282.2 153.5 288.8 153.4C295.5 153.3 302.1 153.3 308.8 153.4C315.4 153.5 322 153.7 328.7 154C335.3 154.2 343 154.6 348.6 155C354.2 155.3 360.2 155.8 362.5 156" stroke="#000" stroke-width="8.9" fill="none" stroke-linejoin="round"/></g></g><g clip-path="url(#c62)"><rect x="886.9" y="2513.5" width="379.4" height="383.5" fill="#EBEBEB"/><path d="M948.7 2513.5V2897M1044.1 2513.5V2897M1139.5 2513.5V2897M1234.9 2513.5V2897M886.9 2855.9H1266.3M886.9 2792.1H1266.3M886.9 2728.2H1266.3M886.9 2664.4H1266.3M886.9 2600.5H1266.3M886.9 2536.7H1266.3" stroke="#fff" stroke-width="2.2" fill="none"/><path d="M901 2513.5V2897M996.4 2513.5V2897M1091.8 2513.5V2897M1187.2 2513.5V2897M886.9 2887.8H1266.3M886.9 2824H1266.3M886.9 2760.1H1266.3M886.9 2696.3H1266.3M886.9 2632.5H1266.3M886.9 2568.6H1266.3" stroke="#fff" stroke-width="4.4" fill="none"/><g transform="translate(886.9 2513.5)"><path transform="scale(2.15)" d="M53 8h2M56 11h2M16 13h2M38 13h2M28 14h2M16 17h2M35 17h2M18 18h2M13 19h2M20 19h2M33 19h2M54 19h2M9 22h4M74 22h2M15 23h2M13 24h2M16 24h2M16 25h2M21 25h2M13 26h6M22 26h2M54 26h2M99 26h2M26 27h2M10 28h2M16 28h3M22 28h2M39 28h2M64 28h2M77 28h2M104 28h2M11 29h4M51 29h3M56 29h2M9 30h3M22 30h2M26 30h2M41 30h2M47 30h2M103 30h2M118 30h4M10 31h4M16 31h2M22 31h2M99 31h2M12 32h5M18 32h2M22 32h2M36 32h2M9 33h2M16 33h2M21 33h2M31 33h2M59 33h3M68 33h2M9 34h7M18 34h2M21 34h2M34 34h3M42 34h2M61 34h2M101 34h2M11 35h5M18 35h2M25 35h4M31 35h2M38 35h2M53 35h2M64 35h2M73 35h4M96 35h2M16 36h2M25 36h2M33 36h2M51 36h2M14 37h2M19 37h5M25 37h2M33 37h2M51 37h2M58 37h2M112 37h2M14 38h3M19 38h2M22 38h2M25 38h7M41 38h2M61 38h2M76 38h2M91 38h3M99 38h2M13 39h7M22 39h4M27 39h2M31 39h2M35 39h2M42 39h2M45 39h4M89 39h2M94 39h2M123 39h2M137 39h2M146 39h2M8 40h2M17 40h2M22 40h6M30 40h2M34 40h2M45 40h2M55 40h2M63 40h2M97 40h2M100 40h2M8 41h2M11 41h5M17 41h4M23 41h2M29 41h3M34 41h2M47 41h3M60 41h2M88 41h2M97 41h2M100 41h2M117 41h2M124 41h2M8 42h2M12 42h2M16 42h9M26 42h2M29 42h2M47 42h2M71 42h2M106 42h2M113 42h2M124 42h2M10 43h4M18 43h6M25 43h3M29 43h2M40 43h2M56 43h2M62 43h2M72 43h4M92 43h4M8 44h13M23 44h4M30 44h2M39 44h3M69 44h4M78 44h2M100 44h2M110 44h2M119 44h2M11 45h2M14 45h16M49 45h2M76 45h2M97 45h2M102 45h2M108 45h2M122 45h2M14 46h6M24 46h4M29 46h2M33 46h4M40 46h2M44 46h2M49 46h2M62 46h2M73 46h2M79 46h2M99 46h2M111 46h2M11 47h7M19 47h8M28 47h4M37 47h4M54 47h4M61 47h2M66 47h3M83 47h2M101 47h2M9 48h10M20 48h3M24 48h4M29 48h3M33 48h2M39 48h3M44 48h4M51 48h2M55 48h2M58 48h2M61 48h2M89 48h6M113 48h2M135 48h3M9 49h4M14 49h12M27 49h5M33 49h2M38 49h3M45 49h4M54 49h2M76 49h2M85 49h2M90 49h2M95 49h2M105 49h2M124 49h2M133 49h2M139 49h4M8 50h4M14 50h2M17 50h8M29 50h3M33 50h7M45 50h4M50 50h2M56 50h2M61 50h2M71 50h2M79 50h2M99 50h2M103 50h4M126 50h2M153 50h2M11 51h21M33 51h4M40 51h4M47 51h2M57 51h5M71 51h2M75 51h2M80 51h2M83 51h4M92 51h2M101 51h2M130 51h2M153 51h2M9 52h23M34 52h8M43 52h2M53 52h6M63 52h2M66 52h2M73 52h2M85 52h2M89 52h3M104 52h3M114 52h2M119 52h2M157 52h2M9 53h29M39 53h4M47 53h4M56 53h2M60 53h2M63 53h4M82 53h2M89 53h2M97 53h2M108 53h2M115 53h2M141 53h2M10 54h7M18 54h6M27 54h2M32 54h4M40 54h6M48 54h2M51 54h2M62 54h2M65 54h3M70 54h4M78 54h2M81 54h2M91 54h3M102 54h2M106 54h2M9 55h2M12 55h11M27 55h5M34 55h2M40 55h11M53 55h2M61 55h2M72 55h2M89 55h2M100 55h2M108 55h2M123 55h2M137 55h2M144 55h2M8 56h16M25 56h2M28 56h4M34 56h7M43 56h4M55 56h2M60 56h6M73 56h2M77 56h2M89 56h2M95 56h2M101 56h2M105 56h2M111 56h2M158 56h2M9 57h12M24 57h12M37 57h6M45 57h2M48 57h2M51 57h3M55 57h2M79 57h2M84 57h2M89 57h5M95 57h2M100 57h2M13 58h23M37 58h2M43 58h4M52 58h3M62 58h2M70 58h2M77 58h3M82 58h2M85 58h5M91 58h4M98 58h2M8 59h15M25 59h22M51 59h2M56 59h2M63 59h2M66 59h8M75 59h2M81 59h2M102 59h2M134 59h2M10 60h17M28 60h4M33 60h6M41 60h7M58 60h2M63 60h5M70 60h4M76 60h5M84 60h4M92 60h3M120 60h2M8 61h21M30 61h3M34 61h6M43 61h4M48 61h4M61 61h2M64 61h2M67 61h2M73 61h6M80 61h2M105 61h2M116 61h2M8 62h31M40 62h8M50 62h3M56 62h2M67 62h2M73 62h3M78 62h2M90 62h2M95 62h3M104 62h2M107 62h2M121 62h2M126 62h2M9 63h6M16 63h21M38 63h4M43 63h5M50 63h4M57 63h6M65 63h2M68 63h2M73 63h7M81 63h2M89 63h2M114 63h2M8 64h20M29 64h2M32 64h2M35 64h20M58 64h2M66 64h2M72 64h4M78 64h2M81 64h4M88 64h2M94 64h2M98 64h6M105 64h2M108 64h2M115 64h4M121 64h2M142 64h2M8 65h27M37 65h3M42 65h3M49 65h3M55 65h2M58 65h3M67 65h7M75 65h5M92 65h2M106 65h5M123 65h2M129 65h2M8 66h3M12 66h25M38 66h11M50 66h3M54 66h2M58 66h2M63 66h3M73 66h2M79 66h4M116 66h2M119 66h2M9 67h19M29 67h13M47 67h3M51 67h2M60 67h2M68 67h2M72 67h3M77 67h2M80 67h5M100 67h2M103 67h2M108 67h2M8 68h28M37 68h6M44 68h2M50 68h10M63 68h2M70 68h13M89 68h2M94 68h2M102 68h2M107 68h2M122 68h2M156 68h2M9 69h26M38 69h2M41 69h2M44 69h4M50 69h5M58 69h3M63 69h2M66 69h2M73 69h2M78 69h3M91 69h2M94 69h4M104 69h2M128 69h4M9 70h30M40 70h10M52 70h2M55 70h3M64 70h2M68 70h2M72 70h2M75 70h2M80 70h2M83 70h5M89 70h2M94 70h4M101 70h2M115 70h2M8 71h25M34 71h2M38 71h8M49 71h8M58 71h5M67 71h2M74 71h3M80 71h6M90 71h2M99 71h2M103 71h2M8 72h23M32 72h5M38 72h7M46 72h2M50 72h4M56 72h6M63 72h3M67 72h2M72 72h2M76 72h3M83 72h2M9 73h22M32 73h6M40 73h5M46 73h8M55 73h2M62 73h2M65 73h2M69 73h2M74 73h2M82 73h4M92 73h2M99 73h2M108 73h2M8 74h36M48 74h4M58 74h2M64 74h2M67 74h3M71 74h2M74 74h4M82 74h2M91 74h2M94 74h2M153 74h2M9 75h30M43 75h7M52 75h6M61 75h2M71 75h2M74 75h2M79 75h2M96 75h5M104 75h4M115 75h2M154 75h2M8 76h28M38 76h5M44 76h3M48 76h5M54 76h3M59 76h2M62 76h2M67 76h4M72 76h2M79 76h2M94 76h3M98 76h2M102 76h2M8 77h30M39 77h4M45 77h3M49 77h4M54 77h2M68 77h2M78 77h2M82 77h2M85 77h2M8 78h26M35 78h2M40 78h4M45 78h5M52 78h4M66 78h2M69 78h2M74 78h2M79 78h3M100 78h4M8 79h32M41 79h2M44 79h3M54 79h5M64 79h3M107 79h2M9 80h25M35 80h7M43 80h4M59 80h4M69 80h2M74 80h2M85 80h2M89 80h4M9 81h28M38 81h3M42 81h2M46 81h4M53 81h2M62 81h2M66 81h2M69 81h2M72 81h2M8 82h29M41 82h11M53 82h11M74 82h4M82 82h2M102 82h2M9 83h39M52 83h4M66 83h2M8 84h31M40 84h3M46 84h5M53 84h2M60 84h2M67 84h8M87 84h2M9 85h34M45 85h3M50 85h3M54 85h3M63 85h2M66 85h4M9 86h32M44 86h3M49 86h3M54 86h8M63 86h2M80 86h2M84 86h4M7 87h35M46 87h2M51 87h2M56 87h2M65 87h2M68 87h2M74 87h4M80 87h2M8 88h24M33 88h16M50 88h4M64 88h2M80 88h2M91 88h2M7 89h28M37 89h5M45 89h6M52 89h4M59 89h3M8 90h29M40 90h2M48 90h4M55 90h2M62 90h2M65 90h2M68 90h2M8 91h19M29 91h7M37 91h3M41 91h2M45 91h4M54 91h2M68 91h2M7 92h30M39 92h3M46 92h4M52 92h2M64 92h2M76 92h2M8 93h24M33 93h4M40 93h3M55 93h2M62 93h3M66 93h2M76 93h2M84 93h2M8 94h34M67 94h3M71 94h2M8 95h30M40 95h3M44 95h4M56 95h2M61 95h2M65 95h3M87 95h2M8 96h28M37 96h5M44 96h2M55 96h2M64 96h2M8 97h31M40 97h5M47 97h4M97 97h2M8 98h28M38 98h5M50 98h2M56 98h2M78 98h2M8 99h25M36 99h2M39 99h2M42 99h2M45 99h2M50 99h2M54 99h3M9 100h22M32 100h2M36 100h2M39 100h4M45 100h2M49 100h2M53 100h2M8 101h30M39 101h5M47 101h3M54 101h2M57 101h2M68 101h2M74 101h2M8 102h18M27 102h14M52 102h2M55 102h2M8 103h26M35 103h3M40 103h3M45 103h2M51 103h2M72 103h2M8 104h29M41 104h2M46 104h4M60 104h2M64 104h2M74 104h2M9 105h18M28 105h6M37 105h2M40 105h4M48 105h2M53 105h2M9 106h20M31 106h6M41 106h2M48 106h2M8 107h24M33 107h2M38 107h4M60 107h2M69 107h2M7 108h26M34 108h2M37 108h4M52 108h2M8 109h24M33 109h5M41 109h2M45 109h2M52 109h2M9 110h29M42 110h2M46 110h2M49 110h2M8 111h22M32 111h3M36 111h2M43 111h3M49 111h2M8 112h15M24 112h8M34 112h2M37 112h2M47 112h2M56 112h2M8 113h24M37 113h3M8 114h22M33 114h3M38 114h2M43 114h2M48 114h2M53 114h2M8 115h19M28 115h4M34 115h2M68 115h2M7 116h14M22 116h9M33 116h2M58 116h2M9 117h18M29 117h5M35 117h5M9 118h11M23 118h9M36 118h2M41 118h2M50 118h2M8 119h19M29 119h3M34 119h2M40 119h3M8 120h23M40 120h2M73 120h2M8 121h19M29 121h2M33 121h2M44 121h3M7 122h20M32 122h2M35 122h2M38 122h2M41 122h2M8 123h18M28 123h5M41 123h2M46 123h2M8 124h23M32 124h2M39 124h2M8 125h9M18 125h7M38 125h2M59 125h2M8 126h15M25 126h4M49 126h2M8 127h17M28 127h2M34 127h2M7 128h18M28 128h6M8 129h17M27 129h3M33 129h2M8 130h18M9 131h13M24 131h4M29 131h2M35 131h2M8 132h13M22 132h4M30 132h2M7 133h16M24 133h2M9 134h12M22 134h2M26 134h2M46 134h2M9 135h16M26 135h2M7 136h8M16 136h5M23 136h2M26 136h2M30 136h2M9 137h15M32 137h2M9 138h12M22 138h4M27 138h2M9 139h10M25 139h3M9 140h4M14 140h7M22 140h3M33 140h2M48 140h2M8 141h7M19 141h4M25 141h2M8 142h10M19 142h3M26 142h2M29 142h2M8 143h10M19 143h2M24 143h2M9 144h14M25 144h2M8 145h7M16 145h5M28 145h2M9 146h3M13 146h2M16 146h2M24 146h2M27 146h2M9 147h3M13 147h9M9 148h9M19 148h3M26 148h2M36 148h2M9 149h7M17 149h4M22 149h2M8 150h5M14 150h5M8 151h2M11 151h3M15 151h3M22 151h2M9 152h4M15 152h2M30 152h2M10 153h7M21 153h2M10 154h3M9 155h2M17 155h2M21 155h2M9 156h3M16 156h2M12 157h2M16 157h2M9 158h7M19 158h2M8 159h2M11 159h4M16 159h4M9 160h4M17 160h2M25 160h2M11 161h2M18 161h2M10 162h3M9 163h2M12 163h4M18 163h2M11 164h8M13 165h5M10 166h2M16 166h2M10 167h2M9 168h5M11 169h2M8 170h5" stroke="#6495ED" stroke-width="2" fill="none"/><path d="M16.9 222.6L21.9 216.8L27 211L32 205.3L37 199.6L42 193.8L47 188.6L52 183.6L57 178.5L62 174.8L67 172.5L72 170.3L77 168L82 166L87.1 164.2L92.1 162.5L97.1 160.7L102.1 159L107.1 157.2L112.1 155.5L117.1 153.7L122.1 152.1L127.1 150.4L132.1 148.8L137.1 147.2L142.2 145.7L147.2 144.2L152.2 142.7L157.2 141.2L162.2 139.8L167.2 138.5L172.2 137.2L177.2 135.9L182.2 134.6L187.2 133.4L192.2 132.2L197.3 131L202.3 129.9L207.3 128.9L212.3 127.8L217.3 126.8L222.3 125.3L227.3 123.6L232.3 121.8L237.3 120.1L242.3 118.4L247.3 116.8L252.4 115.2L257.4 113.6L262.4 112.2L267.4 110.9L272.4 109.5L277.4 108.2L282.4 106.9L287.4 105.8L292.4 104.6L297.4 103.4L302.4 102.4L307.5 101.4L312.5 100.4L317.5 99.4L322.5 98.5L327.5 97.7L332.5 96.9L337.5 96.1L342.5 95.4L347.5 94.7L352.5 94.1L357.5 93.4L362.5 92.7L362.5 153.5L357.5 152L352.5 150.5L347.5 149L342.5 147.5L337.5 146L332.5 144.7L327.5 143.4L322.5 142.1L317.5 140.8L312.5 139.7L307.5 138.6L302.4 137.5L297.4 136.5L292.4 135.6L287.4 134.8L282.4 133.9L277.4 133.1L272.4 132.4L267.4 131.8L262.4 131.2L257.4 130.6L252.4 130.3L247.3 130L242.3 129.7L237.3 129.5L232.3 129.4L227.3 129.4L222.3 129.4L217.3 129.8L212.3 130.8L207.3 131.9L202.3 132.9L197.3 134L192.2 135.2L187.2 136.4L182.2 137.6L177.2 138.9L172.2 140.2L167.2 141.5L162.2 142.8L157.2 144.2L152.2 145.7L147.2 147.2L142.2 148.7L137.1 150.2L132.1 151.8L127.1 153.4L122.1 155.1L117.1 156.7L112.1 158.5L107.1 160.2L102.1 162L97.1 163.7L92.1 165.5L87.1 167.2L82 169L77 171L72 173.3L67 175.5L62 177.8L57 181.5L52 186.6L47 191.6L42 196.8L37 202.6L32 208.3L27 214L21.9 219.8L16.9 225.6Z" fill="#999" fill-opacity=".4"/><path d="M16.9 224.1C19.1 221.6 25.4 214.3 29.9 209.2C34.4 204 38.8 198.5 43.8 193.2C48.8 187.9 53.8 181.4 59.8 177.3C65.7 173.1 73 171 79.7 168.3C86.3 165.7 93 163.7 99.6 161.4C106.2 159 112.9 156.6 119.5 154.4C126.2 152.2 132.8 150.1 139.4 148C146.1 145.9 152.7 143.9 159.4 142C166 140.2 172.6 138.5 179.3 136.9C185.9 135.2 192.6 133.6 199.2 132.1C205.8 130.6 212.5 129.2 219.1 127.9C225.8 126.6 232.4 125.5 239 124.5C245.7 123.5 252.3 122.6 259 121.9C265.6 121.2 272.2 120.8 278.9 120.5C285.5 120.2 292.2 120 298.8 119.9C305.4 119.9 312.1 119.9 318.7 120.1C325.4 120.3 331.3 120.6 338.6 121.1C345.9 121.6 358.6 122.8 362.5 123.1" stroke="#000" stroke-width="8.9" fill="none" stroke-linejoin="round"/></g></g><g clip-path="url(#c63)"><rect x="1289.3" y="2513.5" width="379.4" height="383.5" fill="#EBEBEB"/><path d="M1353.2 2513.5V2897M1447.1 2513.5V2897M1541 2513.5V2897M1634.9 2513.5V2897M1289.3 2855.9H1668.7M1289.3 2792.1H1668.7M1289.3 2728.2H1668.7M1289.3 2664.4H1668.7M1289.3 2600.5H1668.7M1289.3 2536.7H1668.7" stroke="#fff" stroke-width="2.2" fill="none"/><path d="M1306.2 2513.5V2897M1400.1 2513.5V2897M1494 2513.5V2897M1587.9 2513.5V2897M1289.3 2887.8H1668.7M1289.3 2824H1668.7M1289.3 2760.1H1668.7M1289.3 2696.3H1668.7M1289.3 2632.5H1668.7M1289.3 2568.6H1668.7" stroke="#fff" stroke-width="4.4" fill="none"/><g transform="translate(1289.3 2513.5)"><path transform="scale(2.15)" d="M17 8h2M44 8h2M9 10h2M26 10h2M13 14h2M31 14h2M10 16h2M23 16h2M38 17h2M25 18h2M8 20h2M22 20h2M31 20h2M44 20h2M7 21h4M31 21h2M16 22h4M9 23h2M7 24h2M17 24h2M20 24h2M79 24h2M7 25h2M14 25h5M25 25h2M17 26h4M34 26h2M44 26h2M15 27h2M19 27h2M7 28h2M14 28h3M26 28h2M74 28h2M8 29h2M16 29h2M21 29h2M26 29h2M36 29h2M68 29h2M7 30h2M10 30h2M21 30h3M25 30h6M34 30h6M51 30h2M7 31h4M23 31h2M28 31h2M34 31h2M7 32h5M15 32h5M21 32h2M26 32h2M36 32h2M53 32h2M8 33h5M18 33h2M21 33h3M26 33h3M36 33h2M39 33h2M56 33h2M7 34h9M25 34h3M31 34h2M7 35h4M14 35h2M20 35h2M29 35h2M35 35h2M64 35h2M7 36h3M11 36h10M27 36h4M10 37h3M14 37h3M20 37h5M28 37h2M32 37h4M39 37h2M7 38h4M16 38h5M23 38h4M29 38h2M32 38h5M48 38h2M7 39h4M17 39h5M23 39h6M33 39h4M42 39h2M49 39h2M7 40h2M10 40h3M15 40h3M29 40h2M35 40h2M38 40h2M46 40h4M7 41h4M15 41h2M19 41h2M26 41h2M37 41h2M58 41h3M7 42h5M13 42h4M19 42h3M26 42h4M38 42h2M55 42h2M7 43h8M17 43h10M31 43h2M34 43h3M42 43h4M7 44h3M14 44h4M22 44h3M27 44h3M31 44h2M34 44h2M41 44h2M7 45h6M15 45h6M23 45h10M36 45h2M47 45h2M53 45h2M7 46h4M13 46h2M16 46h2M19 46h9M29 46h3M36 46h2M40 46h4M7 47h5M13 47h8M23 47h3M27 47h2M36 47h2M40 47h5M46 47h3M50 47h2M53 47h2M57 47h2M63 47h2M7 48h5M14 48h10M25 48h4M33 48h2M40 48h2M43 48h3M48 48h4M69 48h2M73 48h2M7 49h4M13 49h4M18 49h6M26 49h4M31 49h7M39 49h6M49 49h4M7 50h9M17 50h9M28 50h2M32 50h2M36 50h3M40 50h3M45 50h2M54 50h2M75 50h2M7 51h14M23 51h12M40 51h5M50 51h2M54 51h2M66 51h2M72 51h2M7 52h8M17 52h2M20 52h6M27 52h3M31 52h8M42 52h2M51 52h2M55 52h2M63 52h4M69 52h2M75 52h2M7 53h14M22 53h2M25 53h3M29 53h6M36 53h4M42 53h2M52 53h2M70 53h2M7 54h4M12 54h22M44 54h2M53 54h2M74 54h5M87 54h2M7 55h19M27 55h9M39 55h4M45 55h6M52 55h5M61 55h2M72 55h2M105 55h2M7 56h17M25 56h3M29 56h5M35 56h8M47 56h4M55 56h5M75 56h2M7 57h32M42 57h11M7 58h12M20 58h20M43 58h2M46 58h6M54 58h2M61 58h2M7 59h42M52 59h2M55 59h3M62 59h2M70 59h2M106 59h2M7 60h17M25 60h13M40 60h10M52 60h2M55 60h2M108 60h2M7 61h18M26 61h4M32 61h9M46 61h4M58 61h2M61 61h2M7 62h26M34 62h10M46 62h2M71 62h2M77 62h2M93 62h2M7 63h5M14 63h10M25 63h3M30 63h6M37 63h8M46 63h5M52 63h2M68 63h2M71 63h2M74 63h2M89 63h2M7 64h10M18 64h7M26 64h23M53 64h2M61 64h4M7 65h43M51 65h3M57 65h2M60 65h2M65 65h2M90 65h2M7 66h15M23 66h9M33 66h10M44 66h9M55 66h4M63 66h2M71 66h2M80 66h2M89 66h2M7 67h22M30 67h13M44 67h2M52 67h3M64 67h2M74 67h2M81 67h2M113 67h2M7 68h6M14 68h35M51 68h2M55 68h2M58 68h2M72 68h2M7 69h20M28 69h3M32 69h6M39 69h8M48 69h2M51 69h3M60 69h6M89 69h2M7 70h20M28 70h12M41 70h9M58 70h2M64 70h2M70 70h3M7 71h31M40 71h5M47 71h3M58 71h3M62 71h3M105 71h2M7 72h27M35 72h21M62 72h2M65 72h2M70 72h3M7 73h29M37 73h8M47 73h7M67 73h5M90 73h2M7 74h26M34 74h2M37 74h5M43 74h11M63 74h8M75 74h2M105 74h2M7 75h25M34 75h11M46 75h3M50 75h2M58 75h2M74 75h3M81 75h4M7 76h35M43 76h7M52 76h3M58 76h3M7 77h37M46 77h4M54 77h2M57 77h2M76 77h2M80 77h2M110 77h2M7 78h39M50 78h2M54 78h5M64 78h5M76 78h3M92 78h2M7 79h21M29 79h10M41 79h8M52 79h2M73 79h2M76 79h2M85 79h2M7 80h34M42 80h5M52 80h3M56 80h2M67 80h2M71 80h2M80 80h2M7 81h37M46 81h5M70 81h2M78 81h2M83 81h2M104 81h2M7 82h37M45 82h6M53 82h3M58 82h2M63 82h2M69 82h2M7 83h30M41 83h4M46 83h8M58 83h2M67 83h3M71 83h2M111 83h2M7 84h28M37 84h3M41 84h2M46 84h4M53 84h4M62 84h2M72 84h2M120 84h2M7 85h38M48 85h4M59 85h3M63 85h2M77 85h2M7 86h38M47 86h3M51 86h5M77 86h2M7 87h15M23 87h16M41 87h4M47 87h2M51 87h8M64 87h2M68 87h4M77 87h2M82 87h2M7 88h29M37 88h5M43 88h2M48 88h6M55 88h2M59 88h2M67 88h2M7 89h29M37 89h6M47 89h8M56 89h4M75 89h2M101 89h2M7 90h6M14 90h26M41 90h2M45 90h2M48 90h7M56 90h6M64 90h2M67 90h4M74 90h2M106 90h2M7 91h27M36 91h8M45 91h2M51 91h3M63 91h2M66 91h5M73 91h3M89 91h2M7 92h36M47 92h3M51 92h2M56 92h2M62 92h2M80 92h2M86 92h2M7 93h33M43 93h2M46 93h4M55 93h3M100 93h2M7 94h34M43 94h3M47 94h5M53 94h4M60 94h2M68 94h2M7 95h26M34 95h10M45 95h4M53 95h2M64 95h2M82 95h2M7 96h36M45 96h2M48 96h9M66 96h2M70 96h2M7 97h6M14 97h12M27 97h13M48 97h3M53 97h4M61 97h2M66 97h2M81 97h2M7 98h39M50 98h2M56 98h3M61 98h2M7 99h26M35 99h8M50 99h2M53 99h5M60 99h2M91 99h2M105 99h2M7 100h21M29 100h4M34 100h12M48 100h2M53 100h3M63 100h2M92 100h2M113 100h2M7 101h23M31 101h8M40 101h3M47 101h5M74 101h2M7 102h39M48 102h8M61 102h2M86 102h2M108 102h2M7 103h26M35 103h4M40 103h9M51 103h4M63 103h2M116 103h2M7 104h16M24 104h11M39 104h2M47 104h3M53 104h2M108 104h2M7 105h22M31 105h4M37 105h7M48 105h4M61 105h2M7 106h31M42 106h3M46 106h2M51 106h2M60 106h2M7 107h10M18 107h10M29 107h6M36 107h9M47 107h3M57 107h2M70 107h2M7 108h26M35 108h4M40 108h7M48 108h2M54 108h2M7 109h17M25 109h8M35 109h4M41 109h2M44 109h2M51 109h2M7 110h12M20 110h17M38 110h3M48 110h4M58 110h2M65 110h2M78 110h2M7 111h11M19 111h18M38 111h4M43 111h2M46 111h2M57 111h2M68 111h2M7 112h27M35 112h3M45 112h2M49 112h2M7 113h23M31 113h6M42 113h2M45 113h2M48 113h2M7 114h5M13 114h15M29 114h6M36 114h2M43 114h6M54 114h2M119 114h2M7 115h32M41 115h2M7 116h26M36 116h5M44 116h2M49 116h2M53 116h2M56 116h2M69 116h2M7 117h24M33 117h2M47 117h2M50 117h2M53 117h2M67 117h2M7 118h16M25 118h5M32 118h4M40 118h2M43 118h2M48 118h2M64 118h2M70 118h2M7 119h23M32 119h2M36 119h2M43 119h4M7 120h24M33 120h6M40 120h3M7 121h4M12 121h9M24 121h11M38 121h2M44 121h2M114 121h2M7 122h10M18 122h15M34 122h3M41 122h5M7 123h17M32 123h2M36 123h2M52 123h2M57 123h2M7 124h4M13 124h14M28 124h13M42 124h2M87 124h2M7 125h18M27 125h2M31 125h7M42 125h2M51 125h2M98 125h2M7 126h7M15 126h7M24 126h4M31 126h3M35 126h2M47 126h2M57 126h2M7 127h8M16 127h11M28 127h2M31 127h3M35 127h4M41 127h3M55 127h2M7 128h8M17 128h3M21 128h4M27 128h6M34 128h2M40 128h2M56 128h2M68 128h2M7 129h7M17 129h2M20 129h4M25 129h2M29 129h8M40 129h2M7 130h4M14 130h3M18 130h5M26 130h9M36 130h2M43 130h2M75 130h2M7 131h4M13 131h13M28 131h3M35 131h2M38 131h2M41 131h3M73 131h2M7 132h6M14 132h5M20 132h5M28 132h3M32 132h4M37 132h5M52 132h2M56 132h2M7 133h6M16 133h7M26 133h2M30 133h2M36 133h2M41 133h2M7 134h10M18 134h2M22 134h3M32 134h3M36 134h2M39 134h2M7 135h2M10 135h8M23 135h2M28 135h2M33 135h2M38 135h2M43 135h2M47 135h2M7 136h7M16 136h5M26 136h2M34 136h2M37 136h2M47 136h2M7 137h2M10 137h2M17 137h11M7 138h4M12 138h7M21 138h2M24 138h5M30 138h2M51 138h2M7 139h5M17 139h7M26 139h2M49 139h3M7 140h17M32 140h4M39 140h2M7 141h9M20 141h2M29 141h3M7 142h6M17 142h2M21 142h2M29 142h6M7 143h4M14 143h2M17 143h4M27 143h2M32 143h2M43 143h2M7 144h3M11 144h6M22 144h2M25 144h8M35 144h2M41 144h2M7 145h3M13 145h10M25 145h2M7 146h4M13 146h2M16 146h7M25 146h2M39 146h2M7 147h2M20 147h2M23 147h2M29 147h2M8 148h2M13 148h8M27 148h2M7 149h6M14 149h5M25 149h2M28 149h2M32 149h2M39 149h2M7 150h3M15 150h4M21 150h2M27 150h2M33 150h2M7 151h4M15 151h2M19 151h4M25 151h2M29 151h2M7 152h4M12 152h3M20 152h2M23 152h2M27 152h2M39 152h2M7 153h6M14 153h2M17 153h2M27 153h2M30 153h2M38 153h2M7 154h2M17 154h2M24 154h2M9 155h2M47 155h2M7 156h2M14 156h3M25 156h2M7 157h4M12 157h2M18 157h2M7 158h2M10 158h4M17 158h2M7 159h2M22 159h2M26 159h2M40 159h2M46 159h2M7 160h4M15 160h3M21 160h2M24 160h2M15 161h2M22 161h4M27 161h2M23 162h2M7 163h3M16 163h2M12 164h2M22 164h2M7 165h3M14 165h2M7 166h2M19 166h2M24 166h2M28 166h2M7 167h2M24 167h2M8 168h2M13 168h2M17 168h2M27 168h2M7 169h2M38 169h2M7 170h2M12 170h2M24 170h2" stroke="#6495ED" stroke-width="2" fill="none"/><path d="M17.5 190.7L22.5 193.9L27.5 195.3L32.5 195.9L37.5 194.4L42.5 192.5L47.5 190.4L52.5 188.2L57.5 186.3L62.5 184.9L67.5 183.6L72.5 182.2L77.5 180.9L82.5 179.7L87.5 178.4L92.5 177.2L97.5 176L102.5 175L107.5 174L112.5 173L117.5 172.1L122.5 171.5L127.5 170.8L132.5 170.2L137.5 169.7L142.5 169.3L147.5 169L152.5 168.6L157.5 168.4L162.5 168.3L167.5 168.2L172.5 167.6L177.5 167.1L182.5 166.7L187.5 166.3L192.5 165.9L197.5 165.5L202.5 165.3L207.5 165L212.5 164.6L217.5 164.4L222.5 164.4L227.5 164.3L232.5 164.2L237.5 164.1L242.5 164.1L247.5 164.1L252.5 164.1L257.5 164L262.5 164.1L267.5 164.3L272.5 164.4L277.5 164.5L282.5 164.5L287.5 164.7L292.5 164.8L297.5 164.9L302.5 165L307.5 165L312.5 165.3L317.5 165.5L322.5 165.6L327.5 165.8L332.5 166L337.5 166.3L342.5 166.6L347.5 166.8L352.5 167L357.5 167.2L362.5 167.3L362.5 278.9L357.5 274.5L352.5 270.2L347.5 265.9L342.5 261.7L337.5 257.4L332.5 253.2L327.5 249.2L322.5 245.4L317.5 241.5L312.5 237.7L307.5 234L302.5 230.5L297.5 227L292.5 223.6L287.5 220.3L282.5 217L277.5 213.8L272.5 210.7L267.5 207.7L262.5 204.7L257.5 201.8L252.5 199.2L247.5 196.7L242.5 194.2L237.5 191.7L232.5 189.4L227.5 187.3L222.5 185.2L217.5 183.2L212.5 181.4L207.5 179.8L202.5 178.3L197.5 176.9L192.5 175.6L187.5 174.6L182.5 173.6L177.5 172.6L172.5 171.9L167.5 171.4L162.5 171.3L157.5 171.4L152.5 171.6L147.5 172L142.5 172.3L137.5 172.7L132.5 173.2L127.5 173.8L122.5 174.5L117.5 175.1L112.5 176L107.5 177L102.5 178L97.5 179L92.5 180.2L87.5 181.4L82.5 182.7L77.5 183.9L72.5 185.2L67.5 186.6L62.5 187.9L57.5 189.3L52.5 191.2L47.5 193.4L42.5 195.5L37.5 197.4L32.5 198.9L27.5 198.3L22.5 196.9L17.5 193.7Z" fill="#999" fill-opacity=".4"/><path d="M17.5 192.2C18.6 192.9 21.5 195.3 23.9 196.2C26.3 197.1 29.2 197.8 31.9 197.6C34.5 197.4 35.9 196.8 39.8 195.2C43.8 193.7 49.8 190.3 55.8 188.2C61.8 186.2 69.1 184.6 75.7 182.9C82.3 181.1 89 179.4 95.6 177.9C102.3 176.4 108.9 175 115.5 173.9C122.2 172.8 128.8 172 135.5 171.3C142.1 170.7 148.7 170.2 155.4 169.9C162 169.7 168.7 169.6 175.3 169.7C181.9 169.9 188.6 170.3 195.2 170.9C201.9 171.5 208.5 172.2 215.1 173.3C221.8 174.4 227.8 175.6 235.1 177.3C242.4 179 251 181 259 183.3C266.9 185.5 274.9 188.2 282.9 190.8C290.8 193.5 298.8 196.2 306.8 199.2C314.7 202.2 321.4 204.8 330.7 208.8C340 212.7 357.2 220.7 362.5 223.1" stroke="#000" stroke-width="8.9" fill="none" stroke-linejoin="round"/></g></g><g clip-path="url(#c64)"><rect x="1691.7" y="2513.5" width="379.4" height="383.5" fill="#EBEBEB"/><path d="M1753.1 2513.5V2897M1845 2513.5V2897M1936.8 2513.5V2897M2028.7 2513.5V2897M1691.7 2855.9H2071.1M1691.7 2792.1H2071.1M1691.7 2728.2H2071.1M1691.7 2664.4H2071.1M1691.7 2600.5H2071.1M1691.7 2536.7H2071.1" stroke="#fff" stroke-width="2.2" fill="none"/><path d="M1707.2 2513.5V2897M1799 2513.5V2897M1890.9 2513.5V2897M1982.8 2513.5V2897M1691.7 2887.8H2071.1M1691.7 2824H2071.1M1691.7 2760.1H2071.1M1691.7 2696.3H2071.1M1691.7 2632.5H2071.1M1691.7 2568.6H2071.1" stroke="#fff" stroke-width="4.4" fill="none"/><g transform="translate(1691.7 2513.5)"><path transform="scale(2.15)" d="M26 8h2M10 12h2M9 13h2M37 14h2M50 15h2M57 17h2M41 19h2M16 20h2M88 20h2M112 20h2M125 21h2M20 22h2M7 23h2M48 23h2M23 24h2M30 24h2M42 24h2M12 25h2M21 25h2M44 25h2M53 25h2M68 25h2M7 26h4M13 26h2M18 26h2M66 26h2M90 26h2M151 26h2M11 27h2M17 27h2M33 27h2M74 27h2M7 28h4M12 28h3M23 28h2M28 28h3M32 28h2M61 28h4M118 28h2M9 29h5M24 29h2M36 29h2M58 29h2M81 29h2M101 29h2M17 30h2M28 30h2M36 30h2M108 30h2M9 31h2M14 31h2M23 31h2M34 31h2M44 31h2M110 31h2M14 32h2M19 32h2M23 32h2M33 32h2M47 32h2M62 32h2M91 32h4M13 33h3M19 33h5M44 33h2M95 33h2M151 33h2M7 34h2M12 34h4M18 34h2M21 34h2M41 34h2M56 34h2M62 34h2M65 34h2M72 34h2M75 34h2M85 34h2M14 35h4M29 35h2M95 35h2M7 36h2M12 36h5M18 36h2M21 36h2M24 36h4M42 36h2M50 36h2M63 36h2M69 36h2M77 36h2M87 36h2M94 36h2M106 36h2M111 36h3M118 36h2M11 37h2M14 37h2M24 37h2M33 37h2M70 37h2M77 37h2M101 37h2M113 37h2M128 37h2M143 37h2M7 38h2M11 38h7M30 38h2M36 38h2M42 38h2M54 38h2M77 38h2M113 38h2M145 38h4M7 39h2M14 39h2M19 39h3M23 39h2M34 39h2M77 39h2M83 39h4M98 39h2M102 39h3M114 39h2M7 40h2M11 40h4M21 40h4M32 40h2M50 40h2M59 40h2M64 40h2M87 40h2M90 40h2M95 40h2M127 40h2M9 41h5M16 41h2M19 41h2M22 41h2M25 41h2M41 41h2M59 41h3M70 41h2M77 41h2M89 41h2M101 41h3M109 41h2M7 42h9M17 42h2M20 42h2M26 42h2M31 42h2M37 42h2M47 42h2M69 42h3M90 42h2M113 42h2M130 42h2M7 43h12M23 43h4M51 43h3M72 43h3M91 43h2M95 43h2M99 43h2M116 43h2M146 43h2M162 43h2M167 43h2M7 44h2M12 44h4M18 44h2M25 44h2M30 44h2M36 44h2M44 44h3M50 44h2M59 44h2M65 44h2M72 44h2M85 44h4M109 44h2M121 44h4M128 44h2M148 44h2M161 44h2M7 45h3M13 45h2M16 45h2M22 45h2M33 45h2M39 45h7M48 45h2M51 45h2M57 45h2M71 45h2M79 45h2M85 45h2M94 45h2M104 45h2M108 45h2M118 45h2M128 45h2M135 45h2M7 46h11M23 46h4M28 46h7M38 46h2M43 46h2M56 46h2M63 46h2M68 46h2M84 46h2M103 46h2M111 46h2M129 46h4M152 46h2M7 47h9M18 47h7M28 47h4M38 47h3M57 47h4M78 47h2M82 47h2M104 47h2M115 47h3M120 47h2M155 47h2M8 48h8M17 48h10M31 48h2M45 48h2M51 48h2M58 48h4M63 48h2M73 48h2M85 48h2M100 48h3M110 48h2M115 48h3M123 48h2M155 48h2M7 49h11M20 49h6M28 49h2M37 49h2M45 49h2M48 49h4M60 49h2M69 49h2M78 49h2M108 49h2M116 49h3M7 50h7M15 50h8M25 50h2M32 50h4M39 50h2M44 50h2M52 50h2M58 50h2M65 50h2M73 50h2M79 50h2M83 50h2M88 50h4M96 50h2M103 50h2M124 50h2M127 50h4M7 51h19M28 51h2M33 51h4M38 51h5M45 51h2M48 51h6M61 51h4M66 51h2M71 51h2M84 51h2M87 51h3M108 51h4M116 51h2M122 51h4M127 51h2M134 51h2M140 51h4M147 51h2M161 51h2M7 52h2M10 52h7M18 52h5M24 52h8M33 52h2M37 52h2M40 52h2M48 52h4M64 52h5M78 52h2M101 52h2M107 52h2M113 52h2M120 52h5M129 52h4M7 53h19M34 53h7M42 53h3M46 53h2M60 53h4M67 53h2M74 53h2M79 53h4M87 53h3M98 53h2M111 53h2M116 53h2M129 53h2M138 53h2M144 53h4M163 53h2M7 54h8M17 54h7M25 54h4M38 54h2M41 54h5M54 54h4M59 54h2M74 54h2M77 54h2M97 54h2M111 54h4M118 54h4M142 54h2M156 54h2M7 55h11M19 55h8M28 55h5M36 55h5M44 55h2M47 55h2M64 55h2M68 55h3M81 55h2M84 55h3M90 55h2M106 55h3M125 55h2M139 55h2M149 55h5M160 55h2M7 56h14M24 56h4M29 56h2M33 56h2M36 56h3M41 56h2M44 56h11M59 56h2M62 56h2M70 56h3M74 56h3M78 56h2M83 56h3M88 56h2M99 56h2M107 56h2M124 56h3M130 56h2M135 56h2M148 56h2M153 56h2M7 57h17M25 57h2M29 57h2M32 57h3M38 57h4M51 57h2M68 57h2M73 57h3M79 57h3M85 57h2M92 57h2M95 57h2M98 57h2M103 57h2M106 57h2M113 57h2M126 57h4M134 57h2M143 57h3M150 57h2M160 57h2M166 57h2M7 58h19M28 58h2M37 58h3M43 58h3M53 58h2M66 58h5M74 58h2M78 58h2M83 58h2M87 58h4M93 58h2M100 58h2M103 58h2M110 58h2M115 58h2M126 58h2M130 58h2M135 58h3M140 58h2M143 58h2M159 58h2M7 59h14M22 59h7M30 59h2M34 59h2M38 59h7M46 59h3M51 59h4M57 59h2M62 59h2M69 59h2M73 59h2M81 59h4M87 59h4M92 59h2M96 59h2M99 59h2M102 59h2M106 59h4M118 59h2M123 59h4M130 59h2M142 59h2M160 59h2M7 60h13M25 60h2M28 60h4M39 60h4M46 60h2M49 60h4M54 60h2M71 60h2M75 60h2M78 60h4M86 60h2M95 60h2M106 60h4M113 60h3M117 60h2M121 60h5M139 60h2M7 61h14M22 61h6M29 61h4M35 61h2M39 61h4M45 61h4M52 61h7M62 61h4M67 61h2M75 61h2M81 61h2M86 61h3M96 61h2M104 61h2M108 61h2M114 61h2M118 61h4M124 61h2M127 61h2M131 61h2M141 61h2M163 61h3M7 62h29M43 62h2M47 62h2M51 62h2M59 62h9M72 62h2M77 62h2M81 62h8M90 62h5M97 62h2M102 62h2M120 62h2M134 62h2M138 62h2M143 62h2M152 62h2M7 63h24M32 63h4M38 63h2M41 63h5M50 63h6M59 63h2M62 63h4M73 63h2M79 63h2M82 63h3M87 63h2M90 63h4M99 63h2M103 63h6M111 63h2M126 63h5M136 63h2M150 63h2M7 64h14M24 64h2M30 64h5M36 64h6M47 64h6M54 64h4M64 64h2M68 64h2M74 64h2M79 64h4M84 64h5M107 64h3M115 64h2M122 64h2M133 64h5M164 64h2M7 65h26M37 65h3M44 65h2M51 65h2M65 65h2M68 65h4M73 65h2M79 65h2M83 65h6M94 65h2M100 65h2M119 65h2M123 65h2M132 65h5M142 65h3M153 65h2M7 66h12M20 66h5M27 66h3M33 66h4M38 66h2M41 66h2M47 66h4M53 66h2M56 66h6M65 66h4M76 66h2M85 66h3M92 66h2M103 66h2M109 66h3M118 66h2M121 66h2M127 66h2M138 66h2M146 66h2M161 66h2M7 67h23M31 67h2M38 67h4M46 67h2M57 67h4M65 67h2M74 67h4M87 67h6M95 67h2M98 67h3M104 67h3M112 67h2M115 67h2M127 67h2M147 67h2M160 67h2M7 68h10M18 68h8M27 68h5M33 68h10M50 68h12M66 68h2M69 68h2M73 68h2M79 68h3M83 68h2M94 68h5M102 68h2M110 68h5M119 68h4M133 68h2M137 68h2M145 68h2M7 69h29M37 69h3M41 69h8M53 69h4M58 69h2M62 69h2M67 69h2M73 69h2M87 69h2M90 69h2M96 69h3M112 69h2M118 69h2M121 69h2M130 69h2M137 69h2M140 69h2M148 69h2M7 70h20M29 70h3M34 70h5M42 70h2M48 70h4M56 70h2M59 70h4M66 70h5M77 70h2M84 70h2M90 70h3M94 70h2M107 70h3M113 70h2M126 70h2M134 70h2M146 70h2M151 70h2M165 70h2M7 71h16M24 71h5M33 71h3M38 71h4M46 71h2M57 71h2M60 71h3M65 71h2M68 71h4M74 71h2M77 71h3M81 71h3M85 71h4M90 71h2M94 71h3M102 71h4M112 71h2M115 71h2M118 71h2M127 71h2M150 71h2M7 72h22M30 72h4M35 72h6M42 72h2M46 72h5M53 72h2M61 72h3M69 72h4M74 72h2M77 72h3M83 72h2M88 72h4M94 72h2M100 72h4M119 72h2M135 72h2M7 73h18M26 73h9M37 73h4M42 73h9M55 73h4M65 73h2M75 73h2M81 73h2M86 73h2M90 73h2M94 73h2M106 73h2M116 73h3M120 73h2M138 73h2M149 73h2M7 74h10M18 74h25M44 74h2M47 74h12M60 74h6M68 74h2M73 74h2M80 74h2M85 74h5M91 74h3M96 74h2M101 74h3M109 74h4M142 74h2M7 75h32M43 75h8M52 75h2M55 75h2M58 75h2M64 75h2M70 75h9M82 75h2M88 75h3M95 75h3M119 75h3M126 75h2M130 75h2M136 75h2M7 76h26M34 76h5M42 76h7M50 76h4M56 76h7M66 76h5M74 76h2M80 76h2M88 76h5M105 76h2M109 76h4M120 76h2M129 76h2M133 76h2M151 76h2M7 77h28M37 77h2M41 77h8M53 77h2M56 77h7M64 77h6M73 77h3M77 77h2M80 77h2M89 77h2M94 77h3M99 77h6M110 77h2M119 77h2M128 77h2M7 78h20M28 78h13M42 78h3M47 78h18M67 78h7M77 78h2M82 78h3M90 78h2M94 78h2M117 78h2M124 78h2M159 78h2M7 79h15M23 79h3M27 79h2M31 79h2M38 79h2M42 79h2M50 79h3M69 79h3M73 79h4M79 79h3M89 79h4M95 79h2M99 79h2M105 79h4M117 79h2M134 79h2M138 79h2M7 80h25M34 80h8M44 80h3M48 80h12M64 80h2M67 80h5M75 80h2M82 80h4M87 80h2M91 80h2M98 80h2M104 80h3M117 80h2M7 81h16M24 81h2M28 81h3M32 81h10M45 81h5M51 81h2M55 81h3M64 81h3M69 81h8M80 81h2M85 81h2M96 81h2M99 81h3M109 81h2M112 81h3M130 81h2M7 82h23M32 82h4M38 82h2M42 82h12M56 82h2M63 82h4M70 82h3M76 82h5M86 82h2M99 82h3M107 82h2M112 82h2M118 82h2M129 82h2M7 83h28M36 83h4M41 83h8M50 83h2M56 83h3M61 83h6M73 83h2M80 83h2M84 83h3M7 84h33M44 84h2M49 84h6M58 84h5M65 84h3M70 84h6M79 84h2M82 84h7M90 84h2M100 84h2M125 84h2M7 85h40M51 85h2M57 85h4M67 85h8M77 85h2M95 85h2M100 85h2M121 85h2M161 85h2M7 86h28M36 86h8M45 86h11M65 86h2M69 86h2M73 86h5M81 86h2M87 86h3M92 86h2M98 86h2M122 86h2M7 87h37M52 87h4M58 87h2M65 87h2M72 87h2M77 87h2M90 87h2M93 87h4M103 87h2M110 87h2M7 88h23M31 88h6M39 88h5M48 88h4M53 88h3M57 88h4M62 88h4M73 88h2M87 88h3M7 89h13M21 89h3M25 89h24M51 89h2M56 89h7M64 89h2M68 89h3M72 89h4M77 89h2M80 89h2M92 89h2M117 89h2M7 90h20M28 90h10M40 90h18M63 90h5M70 90h5M85 90h2M100 90h3M7 91h39M48 91h5M54 91h2M58 91h5M64 91h2M68 91h2M72 91h5M85 91h2M98 91h2M104 91h2M109 91h2M7 92h25M33 92h5M42 92h4M47 92h2M50 92h2M56 92h4M65 92h4M93 92h2M100 92h2M105 92h2M7 93h24M32 93h6M40 93h3M46 93h8M66 93h3M74 93h4M82 93h2M107 93h2M113 93h2M7 94h23M32 94h7M41 94h2M44 94h5M50 94h2M56 94h2M59 94h3M69 94h2M79 94h2M89 94h2M121 94h2M7 95h30M38 95h2M43 95h3M55 95h4M65 95h4M73 95h3M78 95h3M7 96h28M36 96h10M50 96h2M54 96h2M76 96h2M89 96h2M92 96h2M98 96h2M7 97h30M39 97h2M43 97h2M47 97h2M53 97h6M62 97h2M74 97h2M121 97h2M7 98h19M27 98h2M30 98h18M51 98h2M57 98h2M70 98h2M80 98h2M7 99h20M29 99h22M55 99h2M60 99h2M7 100h20M28 100h7M36 100h6M48 100h2M52 100h3M64 100h2M86 100h2M7 101h18M30 101h8M40 101h2M56 101h6M72 101h2M120 101h2M7 102h15M23 102h11M36 102h2M39 102h9M53 102h2M61 102h2M66 102h2M70 102h2M76 102h2M102 102h2M7 103h14M26 103h7M35 103h3M40 103h8M67 103h8M7 104h21M29 104h4M39 104h5M46 104h2M49 104h3M53 104h2M58 104h2M7 105h20M29 105h6M36 105h4M41 105h2M44 105h2M53 105h4M59 105h3M65 105h2M7 106h21M29 106h3M33 106h3M41 106h2M45 106h3M49 106h3M7 107h16M24 107h6M31 107h9M42 107h4M47 107h2M7 108h19M27 108h3M33 108h5M43 108h2M48 108h2M53 108h4M60 108h2M7 109h23M31 109h3M48 109h4M85 109h2M7 110h14M23 110h3M29 110h2M37 110h4M42 110h3M51 110h3M70 110h2M7 111h17M28 111h4M34 111h2M37 111h7M56 111h2M64 111h2M7 112h19M27 112h2M33 112h4M43 112h3M7 113h14M22 113h4M35 113h2M39 113h2M47 113h2M51 113h2M7 114h19M27 114h2M37 114h4M7 115h15M23 115h4M28 115h2M62 115h2M7 116h12M20 116h6M28 116h3M36 116h2M45 116h2M7 117h9M17 117h6M25 117h2M30 117h5M44 117h2M82 117h2M89 117h2M7 118h15M29 118h2M32 118h3M38 118h2M69 118h2M7 119h11M19 119h8M28 119h2M7 120h13M24 120h3M28 120h2M33 120h2M36 120h4M48 120h2M7 121h15M23 121h3M27 121h2M34 121h2M52 121h2M7 122h13M21 122h2M24 122h3M28 122h2M35 122h2M44 122h2M7 123h9M18 123h3M24 123h2M7 124h12M20 124h2M25 124h2M7 125h10M18 125h4M34 125h2M48 125h2M52 125h2M7 126h17M7 127h20M28 127h2M32 127h2M7 128h12M22 128h7M32 128h2M7 129h11M19 129h2M36 129h2M40 129h2M7 130h9M18 130h3M22 130h2M30 130h2M7 131h9M17 131h2M26 131h2M49 131h2M56 131h2M7 132h14M39 132h2M7 133h12M20 133h2M36 133h2M7 134h10M18 134h4M7 135h11M7 136h9M19 136h2M7 137h11M8 138h10M21 138h2M7 139h8M18 139h4M7 140h12M20 140h2M7 141h9M7 142h10M7 143h11M20 143h2M32 143h2M7 144h8M16 144h3M20 144h2M7 145h9M17 145h2M7 146h8M17 146h3M22 146h2M7 147h7M7 148h9M22 148h2M7 149h9M8 150h10M24 150h2M7 151h9M7 152h2M10 152h4M16 152h2M7 153h10M7 154h4M12 154h2M9 155h5M7 156h2M11 157h2M7 158h9M9 159h5M7 160h4M7 161h2M12 161h2M8 162h7M8 163h3M13 163h2M7 164h6M13 165h2M9 166h4M7 167h5M9 168h2M10 169h2M10 170h2M13 170h2" stroke="#6495ED" stroke-width="2" fill="none"/><path d="M16.9 220L21.9 211.1L27 203.9L32 197.6L37 192.6L42 188.5L47 185.6L52 182.7L57 181.1L62 179.6L67 178L72 176.6L77 175.3L82 173.9L87.1 172.6L92.1 171.2L97.1 169.8L102.1 168.4L107.1 167L112.1 165.5L117.1 164L122.1 162.5L127.1 161L132.1 159.5L137.1 158.1L142.2 156.7L147.2 155.3L152.2 154L157.2 152.6L162.2 151.3L167.2 149.9L172.2 148.7L177.2 147.4L182.2 146.2L187.2 144.9L192.2 143.8L197.3 142.6L202.3 141.5L207.3 140.3L212.3 139.3L217.3 138.3L222.3 137.3L227.3 136.3L232.3 135.5L237.3 134.6L242.3 133.8L247.3 132.9L252.4 132.3L257.4 131.6L262.4 131L267.4 130.3L272.4 129.8L277.4 129.3L282.4 128.8L287.4 128.3L292.4 128L297.4 127.6L302.4 126.9L307.5 125.8L312.5 124.9L317.5 123.9L322.5 122.9L327.5 121.9L332.5 120.9L337.5 119.9L342.5 118.9L347.5 118L352.5 117.1L357.5 116.1L362.5 115.1L362.5 139L357.5 138.2L352.5 137.4L347.5 136.6L342.5 135.8L337.5 135L332.5 134.3L327.5 133.6L322.5 133L317.5 132.3L312.5 131.7L307.5 131.1L302.4 130.7L297.4 130.6L292.4 131L287.4 131.3L282.4 131.8L277.4 132.3L272.4 132.8L267.4 133.3L262.4 134L257.4 134.6L252.4 135.3L247.3 135.9L242.3 136.8L237.3 137.6L232.3 138.5L227.3 139.3L222.3 140.3L217.3 141.3L212.3 142.3L207.3 143.3L202.3 144.5L197.3 145.6L192.2 146.8L187.2 147.9L182.2 149.2L177.2 150.4L172.2 151.7L167.2 152.9L162.2 154.3L157.2 155.6L152.2 157L147.2 158.3L142.2 159.7L137.1 161.1L132.1 162.5L127.1 164L122.1 165.5L117.1 167L112.1 168.5L107.1 170L102.1 171.4L97.1 172.8L92.1 174.2L87.1 175.6L82 176.9L77 178.3L72 179.6L67 181L62 182.6L57 184.1L52 185.7L47 188.6L42 191.5L37 195.6L32 200.6L27 206.9L21.9 214.1L16.9 223Z" fill="#999" fill-opacity=".4"/><path d="M16.9 221.5C18.1 219.5 21.4 212.9 23.9 209.2C26.4 205.4 29.2 202.2 31.9 199.2C34.5 196.2 36.5 193.7 39.8 191.2C43.2 188.7 47.1 186.3 51.8 184.3C56.4 182.3 61.8 181 67.7 179.3C73.7 177.6 81 175.7 87.6 173.9C94.3 172.1 100.9 170.3 107.6 168.3C114.2 166.4 120.8 164.3 127.5 162.4C134.1 160.4 140.8 158.6 147.4 156.8C154.1 154.9 160.7 153.1 167.3 151.4C174 149.7 180.6 148 187.3 146.4C193.9 144.8 200.5 143.3 207.2 141.8C213.8 140.4 220.5 139.1 227.1 137.8C233.7 136.6 240.4 135.5 247 134.5C253.7 133.5 260.3 132.6 266.9 131.9C273.6 131.1 280.2 130.4 286.9 129.9C293.5 129.3 298.8 128.9 306.8 128.5C314.7 128.1 325.4 127.7 334.7 127.5C344 127.3 357.9 127.2 362.5 127.1" stroke="#000" stroke-width="8.9" fill="none" stroke-linejoin="round"/></g></g><g clip-path="url(#c65)"><rect x="2094.1" y="2513.5" width="379.4" height="383.5" fill="#EBEBEB"/><path d="M2171.7 2513.5V2897M2257.9 2513.5V2897M2344.1 2513.5V2897M2430.3 2513.5V2897M2094.1 2855.9H2473.5M2094.1 2792.1H2473.5M2094.1 2728.2H2473.5M2094.1 2664.4H2473.5M2094.1 2600.5H2473.5M2094.1 2536.7H2473.5" stroke="#fff" stroke-width="2.2" fill="none"/><path d="M2128.6 2513.5V2897M2214.8 2513.5V2897M2301 2513.5V2897M2387.2 2513.5V2897M2473.4 2513.5V2897M2094.1 2887.8H2473.5M2094.1 2824H2473.5M2094.1 2760.1H2473.5M2094.1 2696.3H2473.5M2094.1 2632.5H2473.5M2094.1 2568.6H2473.5" stroke="#fff" stroke-width="4.4" fill="none"/><g transform="translate(2094.1 2513.5)"><path transform="scale(2.15)" d="M8.03 77v2M8.03 82v2M8.03 90v2M8.03 128v2M8.03 136v2M20.06 97v2M20.06 141v2M40.1 90v2M40.1 99v2M40.1 135v2M44.11 99v2M44.11 111v2M52.13 98v2M56.14 87v2M56.14 100v2M56.14 113v4M56.14 132v2M60.15 80v2M60.15 96v3M64.16 48v2M64.16 53v2M64.16 85v2M64.16 121v2M64.16 125v2M68.17 46v2M68.17 65v2M68.17 70v2M68.17 74v2M68.17 80v3M68.17 84v2M68.17 88v4M68.17 96v5M68.17 107v12M68.17 120v5M68.17 127v2M68.17 130v2M68.17 141v5M68.17 152v3M72.18 37v2M72.18 50v3M72.18 61v2M72.18 64v3M72.18 69v3M72.18 73v2M72.18 76v4M72.18 82v6M72.18 90v3M72.18 94v3M72.18 98v2M72.18 101v2M72.18 106v8M72.18 117v10M72.18 129v2M72.18 135v4M72.18 144v4M76.19 29v2M76.19 43v2M76.19 48v2M76.19 60v3M76.19 67v2M76.19 73v12M76.19 86v19M76.19 106v6M76.19 113v2M76.19 116v4M76.19 121v11M76.19 133v5M76.19 140v2M76.19 147v3M76.19 153v2M80.2 42v2M80.2 48v2M80.2 58v2M80.2 64v2M80.2 72v2M80.2 76v6M80.2 83v2M80.2 86v8M80.2 95v6M80.2 105v7M80.2 116v5M80.2 130v4M80.2 136v4M80.2 142v2M80.2 149v3M84.2 41v6M84.2 48v12M84.2 61v81M84.2 145v9M84.2 155v2M88.21 33v2M88.21 36v4M88.21 41v6M88.21 48v6M88.21 55v102M88.21 160v2M92.22 30v2M92.22 35v2M92.22 40v8M92.22 49v4M92.22 54v102M92.22 157v4M92.22 168v2M96.23 25v2M96.23 32v2M96.23 35v121M96.23 157v2M100.24 30v5M100.24 38v116M100.24 157v2M100.24 160v2M100.24 166v2M104.25 26v3M104.25 36v117M104.25 154v2M104.25 162v2M108.26 30v7M108.26 39v110M108.26 152v2M112.27 21v2M112.27 25v2M112.27 30v126M112.27 157v2M112.27 161v4M116.28 19v2M116.28 23v5M116.28 31v126M116.28 165v2M120.29 35v99M120.29 135v3M120.29 139v11M120.29 152v4M124.3 20v2M124.3 27v2M124.3 33v4M124.3 38v2M124.3 41v6M124.3 48v10M124.3 60v29M124.3 91v12M124.3 104v2M124.3 107v2M124.3 110v5M124.3 116v10M124.3 129v8M124.3 138v3M124.3 142v2M124.3 145v2M124.3 148v5M128.31 25v2M128.31 29v123M128.31 159v2M132.32 21v2M132.32 24v2M132.32 27v119M132.32 147v9M136.33 27v117M136.33 145v3M136.33 149v3M136.33 156v2M140.33 22v134M144.34 22v3M144.34 26v117M144.34 145v5M148.35 22v2M148.35 27v2M148.35 30v6M148.35 37v48M148.35 87v19M148.35 108v9M148.35 118v11M148.35 134v4M148.35 142v2M152.36 30v3M152.36 36v2M152.36 40v6M152.36 47v2M152.36 53v11M152.36 68v7M152.36 77v2M152.36 80v2M152.36 83v4M152.36 90v4M152.36 98v2M152.36 101v7M152.36 111v2M152.36 114v4M152.36 120v2M152.36 137v4M152.36 149v2M156.37 33v2M156.37 39v23M156.37 63v13M156.37 78v11M156.37 90v16M156.37 108v8M156.37 128v2M156.37 133v2M160.38 35v4M160.38 41v2M160.38 44v11M160.38 58v20M160.38 79v4M160.38 84v6M160.38 91v8M160.38 100v4M160.38 105v6M160.38 113v5M160.38 119v4M168.4 45v3M168.4 51v2M168.4 57v2M168.4 67v2M168.4 114v2M168.75 48v2M168.75 56v3M168.75 75v2M168.75 96v2M168.75 101v2" stroke="#6495ED" stroke-width="2" fill="none"/><path d="M17.5 228.7L22.5 229.6L27.5 230.4L32.5 231.3L37.5 232.2L42.5 232.9L47.5 233.6L52.5 234.3L57.5 234.9L62.5 235.5L67.5 235.8L72.5 236.2L77.5 236.6L82.5 236.8L87.5 236.9L92.5 237L97.5 237L102.5 236.9L107.5 236.7L112.5 236.4L117.5 236.1L122.5 235.5L127.5 233.7L132.5 232L137.5 230.2L142.5 228.3L147.5 226.3L152.5 224.3L157.5 222.3L162.5 220.2L167.5 217.9L172.5 215.7L177.5 213.4L182.5 211.2L187.5 208.9L192.5 206.7L197.5 204.4L202.5 202.5L207.5 200.8L212.5 199L217.5 197.3L222.5 196L227.5 194.9L232.5 193.9L237.5 193.1L242.5 192.6L247.5 192.1L252.5 191.4L257.5 190.5L262.5 189.6L267.5 188.5L272.5 186.9L277.5 185.2L282.5 182.6L287.5 179.7L292.5 176.9L297.5 174.4L302.5 171.9L307.5 169.5L312.5 167.6L317.5 165.8L322.5 163.9L327.5 162.8L332.5 161.7L337.5 160.7L342.5 160.3L347.5 158.2L352.5 155.9L357.5 153.5L362.5 151L362.5 170.9L357.5 168.9L352.5 166.9L347.5 164.9L342.5 163.3L337.5 163.7L332.5 164.7L327.5 165.8L322.5 166.9L317.5 168.8L312.5 170.6L307.5 172.5L302.5 174.9L297.5 177.4L292.5 179.9L287.5 182.7L282.5 185.6L277.5 188.2L272.5 189.9L267.5 191.5L262.5 192.6L257.5 193.5L252.5 194.4L247.5 195.1L242.5 195.6L237.5 196.1L232.5 196.9L227.5 197.9L222.5 199L217.5 200.3L212.5 202L207.5 203.8L202.5 205.5L197.5 207.4L192.5 209.7L187.5 211.9L182.5 214.2L177.5 216.4L172.5 218.7L167.5 220.9L162.5 223.2L157.5 225.3L152.5 227.3L147.5 229.3L142.5 231.3L137.5 233.2L132.5 235L127.5 236.7L122.5 238.5L117.5 241.2L112.5 243.9L107.5 246.6L102.5 249.4L97.5 252.1L92.5 254.6L87.5 257.2L82.5 259.8L77.5 262.3L72.5 264.6L67.5 267L62.5 269.4L57.5 271.7L52.5 273.9L47.5 276L42.5 278.2L37.5 280.3L32.5 282.3L27.5 284.4L22.5 286.4L17.5 288.4Z" fill="#999" fill-opacity=".4"/><path d="M17.5 258.6C21.2 258.1 32.8 256.9 39.8 256C46.9 255 53.1 254.2 59.8 253C66.4 251.8 73 250.5 79.7 249C86.3 247.5 93 245.8 99.6 244C106.2 242.2 112.9 240.2 119.5 238C126.2 235.9 132.8 233.6 139.4 231.1C146.1 228.6 152.7 225.9 159.4 223.1C166 220.3 172.6 217.1 179.3 214.1C185.9 211.2 192.6 207.8 199.2 205.2C205.8 202.5 213.1 199.9 219.1 198.2C225.1 196.5 229.7 195.7 235.1 194.8C240.4 194 245.7 194 251 193.2C256.3 192.5 262.3 191.4 266.9 190.2C271.6 189.1 274.9 188.1 278.9 186.3C282.9 184.4 286.2 181.8 290.8 179.3C295.5 176.8 301.5 173.6 306.8 171.3C312.1 169 317.4 166.9 322.7 165.3C328 163.8 332 162.7 338.6 162C345.3 161.2 358.6 161.1 362.5 161" stroke="#000" stroke-width="8.9" fill="none" stroke-linejoin="round"/></g></g><g clip-path="url(#c66)"><rect x="2496.5" y="2513.5" width="379.4" height="383.5" fill="#EBEBEB"/><path d="M2539.2 2513.5V2897M2600.3 2513.5V2897M2661.5 2513.5V2897M2722.6 2513.5V2897M2783.8 2513.5V2897M2844.9 2513.5V2897M2496.5 2825.3H2875.9M2496.5 2716.9H2875.9M2496.5 2608.5H2875.9" stroke="#fff" stroke-width="2.2" fill="none"/><path d="M2508.6 2513.5V2897M2569.7 2513.5V2897M2630.9 2513.5V2897M2692 2513.5V2897M2753.2 2513.5V2897M2814.3 2513.5V2897M2875.4 2513.5V2897M2496.5 2879.5H2875.9M2496.5 2771.1H2875.9M2496.5 2662.7H2875.9M2496.5 2554.3H2875.9" stroke="#fff" stroke-width="4.4" fill="none"/><path d="M2513.3 2879.5v-2.3h11.5v2.3zM2524.8 2879.5v-1.7h11.5v1.7zM2536.4 2879.5v-4.3h11.5v4.3zM2547.9 2879.5v-24.5h11.5v24.5zM2559.5 2879.5v-35.3h11.5v35.3zM2571 2879.5v-47.4h11.5v47.4zM2582.6 2879.5v-66.1h11.5v66.1zM2594.1 2879.5v-72.7h11.5v72.7zM2605.7 2879.5v-104.4h11.5v104.4zM2617.2 2879.5v-127.8h11.5v127.8zM2628.8 2879.5v-146.7h11.5v146.7zM2640.3 2879.5v-202.3h11.5v202.3zM2651.9 2879.5v-241.8h11.5v241.8zM2663.4 2879.5v-275h11.5v275zM2675 2879.5v-318.4h11.5v318.4zM2686.5 2879.5v-348.8h11.5v348.8zM2698 2879.5v-336.2h11.5v336.2zM2709.6 2879.5v-305.8h11.5v305.8zM2721.1 2879.5v-275h11.5v275zM2732.7 2879.5v-218.8h11.5v218.8zM2744.2 2879.5v-173.8h11.5v173.8zM2755.8 2879.5v-107.8h11.5v107.8zM2767.3 2879.5v-64.9h11.5v64.9zM2778.9 2879.5v-29.6h11.5v29.6zM2790.4 2879.5v-14h11.5v14zM2802 2879.5v-4.7h11.5v4.7zM2813.5 2879.5v-1.7h11.5v1.7zM2825.1 2879.5v-.9h11.5v.9zM2836.6 2879.5v-.4h11.5v.4zM2848.2 2879.5v-.9h11.5v.9z" fill="#6495ED" stroke="#000" stroke-width="1.9" stroke-linejoin="miter"/></g><rect x="82.1" y="1" width="379.4" height="73.8" fill="#D9D9D9"/><rect x="484.5" y="1" width="379.4" height="73.8" fill="#D9D9D9"/><rect x="886.9" y="1" width="379.4" height="73.8" fill="#D9D9D9"/><rect x="1289.3" y="1" width="379.4" height="73.8" fill="#D9D9D9"/><rect x="1691.7" y="1" width="379.4" height="73.8" fill="#D9D9D9"/><rect x="2094.1" y="1" width="379.4" height="73.8" fill="#D9D9D9"/><rect x="2496.5" y="1" width="379.4" height="73.8" fill="#D9D9D9"/><rect x="2875.9" y="74.8" width="74" height="383.5" fill="#D9D9D9"/><rect x="2875.9" y="481.2" width="74" height="383.5" fill="#D9D9D9"/><rect x="2875.9" y="887.7" width="74" height="383.5" fill="#D9D9D9"/><rect x="2875.9" y="1294.1" width="74" height="383.5" fill="#D9D9D9"/><rect x="2875.9" y="1700.6" width="74" height="383.5" fill="#D9D9D9"/><rect x="2875.9" y="2107.1" width="74" height="383.5" fill="#D9D9D9"/><rect x="2875.9" y="2513.5" width="74" height="383.5" fill="#D9D9D9"/><g font-family="Liberation Sans, sans-serif" font-size="36.67" fill="#1A1A1A" text-anchor="middle"><text x="271.8" y="51.2">% Chronic conditions</text><text x="674.2" y="51.2">% Income (IMD19)</text><text x="1076.6" y="51.2">% Overcrowded HH</text><text x="1479.0" y="51.2">% Care Home beds</text><text x="1881.4" y="51.2">% BAME</text><text x="2283.8" y="51.2">Days from 10 cases</text><text x="2686.2" y="51.2">Log SMR</text><text transform="translate(2899.7 266.6) rotate(90)">% Chronic conditions</text><text transform="translate(2899.7 673.0) rotate(90)">% Income (IMD19)</text><text transform="translate(2899.7 1079.4) rotate(90)">% Overcrowded HH</text><text transform="translate(2899.7 1485.9) rotate(90)">% Care Home beds</text><text transform="translate(2899.7 1892.3) rotate(90)">% BAME</text><text transform="translate(2899.7 2298.8) rotate(90)">Days from 10 cases</text><text transform="translate(2899.7 2705.2) rotate(90)">Log SMR</text></g><g font-family="Liberation Sans, sans-serif" font-size="47.4" font-weight="bold" fill="#737373" text-anchor="middle"><text x="674.2" y="249.7">Corr:</text><text x="674.7" y="318.0">0.81***</text><text x="1076.6" y="249.7">Corr:</text><text x="1077.1" y="318.0">0.38***</text><text x="1479.0" y="249.7">Corr:</text><text x="1479.5" y="318.0">-0.07***</text><text x="1881.4" y="249.7">Corr:</text><text x="1881.9" y="318.0">0.29***</text><text x="2283.8" y="249.7">Corr:</text><text x="2284.3" y="318.0">0.07***</text><text x="2686.2" y="249.7">Corr:</text><text x="2686.7" y="318.0">0.34***</text><text x="1076.6" y="656.1">Corr:</text><text x="1077.1" y="724.5">0.48***</text><text x="1479.0" y="656.1">Corr:</text><text x="1479.5" y="724.5">-0.05***</text><text x="1881.4" y="656.1">Corr:</text><text x="1881.9" y="724.5">0.35***</text><text x="2283.8" y="656.1">Corr:</text><text x="2284.3" y="724.5">0.11***</text><text x="2686.2" y="656.1">Corr:</text><text x="2686.7" y="724.5">0.32***</text><text x="1479.0" y="1062.6">Corr:</text><text x="1479.5" y="1130.9">-0.21***</text><text x="1881.4" y="1062.6">Corr:</text><text x="1881.9" y="1130.9">0.89***</text><text x="2283.8" y="1062.6">Corr:</text><text x="2284.3" y="1130.9">0.43***</text><text x="2686.2" y="1062.6">Corr:</text><text x="2686.7" y="1130.9">0.42***</text><text x="1881.4" y="1469.0">Corr:</text><text x="1881.9" y="1537.3">-0.20***</text><text x="2283.8" y="1469.0">Corr:</text><text x="2284.3" y="1537.3">-0.17***</text><text x="2686.2" y="1469.0">Corr:</text><text x="2686.7" y="1537.3">0.11***</text><text x="2283.8" y="1875.5">Corr:</text><text x="2284.3" y="1943.8">0.48***</text><text x="2686.2" y="1875.5">Corr:</text><text x="2686.7" y="1943.8">0.42***</text><text x="2686.2" y="2282.0">Corr:</text><text x="2686.7" y="2350.2">0.33***</text></g><path d="M70.6 440.8h11.5M70.6 340h11.5M70.6 239.2h11.5M70.6 138.4h11.5M70.6 854.3h11.5M70.6 781.4h11.5M70.6 708.4h11.5M70.6 635.5h11.5M70.6 562.5h11.5M70.6 489.6h11.5M70.6 1256.7h11.5M70.6 1160.3h11.5M70.6 1063.9h11.5M70.6 967.5h11.5M70.6 1660.2h11.5M70.6 1565.3h11.5M70.6 1470.4h11.5M70.6 1375.4h11.5M70.6 2068.4h11.5M70.6 1975.5h11.5M70.6 1882.7h11.5M70.6 1789.8h11.5M70.6 2455.6h11.5M70.6 2368.4h11.5M70.6 2281.3h11.5M70.6 2194.2h11.5M70.6 2107h11.5M70.6 2887.8h11.5M70.6 2824h11.5M70.6 2760.1h11.5M70.6 2696.3h11.5M70.6 2632.5h11.5M70.6 2568.6h11.5M127.8 2897v11.5M193.2 2897v11.5M258.7 2897v11.5M324.1 2897v11.5M389.6 2897v11.5M455 2897v11.5M494.7 2897v11.5M566.8 2897v11.5M638.9 2897v11.5M711 2897v11.5M783.1 2897v11.5M855.2 2897v11.5M901 2897v11.5M996.4 2897v11.5M1091.8 2897v11.5M1187.2 2897v11.5M1306.2 2897v11.5M1400.1 2897v11.5M1494 2897v11.5M1587.9 2897v11.5M1707.2 2897v11.5M1799 2897v11.5M1890.9 2897v11.5M1982.8 2897v11.5M2128.6 2897v11.5M2214.8 2897v11.5M2301 2897v11.5M2387.2 2897v11.5M2473.4 2897v11.5M2508.6 2897v11.5M2569.7 2897v11.5M2630.8 2897v11.5M2691.9 2897v11.5M2753 2897v11.5M2814.1 2897v11.5M2875.2 2897v11.5" stroke="#333" stroke-width="4.4" fill="none"/><g font-family="Liberation Sans, sans-serif" font-size="36.67" fill="#4D4D4D"><text x="60.6" y="453.7" text-anchor="end">0</text><text x="60.6" y="352.9" text-anchor="end">200</text><text x="60.6" y="252.1" text-anchor="end">400</text><text x="60.6" y="151.3" text-anchor="end">600</text><text x="60.6" y="867.2" text-anchor="end">0</text><text x="60.6" y="794.3" text-anchor="end">10</text><text x="60.6" y="721.3" text-anchor="end">20</text><text x="60.6" y="648.4" text-anchor="end">30</text><text x="60.6" y="575.4" text-anchor="end">40</text><text x="60.6" y="502.5" text-anchor="end">50</text><text x="60.6" y="1269.6" text-anchor="end">0</text><text x="60.6" y="1173.2" text-anchor="end">10</text><text x="60.6" y="1076.8" text-anchor="end">20</text><text x="60.6" y="980.4" text-anchor="end">30</text><text x="60.6" y="1673.1" text-anchor="end">0.0</text><text x="60.6" y="1578.2" text-anchor="end">2.5</text><text x="60.6" y="1483.3" text-anchor="end">5.0</text><text x="60.6" y="1388.3" text-anchor="end">7.5</text><text x="60.6" y="2081.3" text-anchor="end">0</text><text x="60.6" y="1988.4" text-anchor="end">25</text><text x="60.6" y="1895.6" text-anchor="end">50</text><text x="60.6" y="1802.7" text-anchor="end">75</text><text x="60.6" y="2468.5" text-anchor="end">50</text><text x="60.6" y="2381.3" text-anchor="end">60</text><text x="60.6" y="2294.2" text-anchor="end">70</text><text x="60.6" y="2207.1" text-anchor="end">80</text><text x="60.6" y="2119.9" text-anchor="end">90</text><text x="60.6" y="2900.7" text-anchor="end">-3</text><text x="60.6" y="2836.9" text-anchor="end">-2</text><text x="60.6" y="2773.0" text-anchor="end">-1</text><text x="60.6" y="2709.2" text-anchor="end">0</text><text x="60.6" y="2645.4" text-anchor="end">1</text><text x="60.6" y="2581.5" text-anchor="end">2</text><text x="127.8" y="2943.9" text-anchor="middle">10</text><text x="193.2" y="2943.9" text-anchor="middle">15</text><text x="258.7" y="2943.9" text-anchor="middle">20</text><text x="324.1" y="2943.9" text-anchor="middle">25</text><text x="389.6" y="2943.9" text-anchor="middle">30</text><text x="455.0" y="2943.9" text-anchor="middle">35</text><text x="494.7" y="2943.9" text-anchor="middle">0</text><text x="566.8" y="2943.9" text-anchor="middle">10</text><text x="638.9" y="2943.9" text-anchor="middle">20</text><text x="711.0" y="2943.9" text-anchor="middle">30</text><text x="783.1" y="2943.9" text-anchor="middle">40</text><text x="855.2" y="2943.9" text-anchor="middle">50</text><text x="901.0" y="2943.9" text-anchor="middle">0</text><text x="996.4" y="2943.9" text-anchor="middle">10</text><text x="1091.8" y="2943.9" text-anchor="middle">20</text><text x="1187.2" y="2943.9" text-anchor="middle">30</text><text x="1306.2" y="2943.9" text-anchor="middle">0.0</text><text x="1400.1" y="2943.9" text-anchor="middle">2.5</text><text x="1494.0" y="2943.9" text-anchor="middle">5.0</text><text x="1587.9" y="2943.9" text-anchor="middle">7.5</text><text x="1707.2" y="2943.9" text-anchor="middle">0</text><text x="1799.0" y="2943.9" text-anchor="middle">25</text><text x="1890.9" y="2943.9" text-anchor="middle">50</text><text x="1982.8" y="2943.9" text-anchor="middle">75</text><text x="2128.6" y="2943.9" text-anchor="middle">50</text><text x="2214.8" y="2943.9" text-anchor="middle">60</text><text x="2301.0" y="2943.9" text-anchor="middle">70</text><text x="2387.2" y="2943.9" text-anchor="middle">80</text><text x="2473.4" y="2943.9" text-anchor="middle">90</text><text x="2508.6" y="2943.9" text-anchor="middle">-3</text><text x="2569.7" y="2943.9" text-anchor="middle">-2</text><text x="2630.8" y="2943.9" text-anchor="middle">-1</text><text x="2691.9" y="2943.9" text-anchor="middle">0</text><text x="2753.0" y="2943.9" text-anchor="middle">1</text><text x="2814.1" y="2943.9" text-anchor="middle">2</text><text x="2875.2" y="2943.9" text-anchor="middle">3</text></g></svg></body></html>
